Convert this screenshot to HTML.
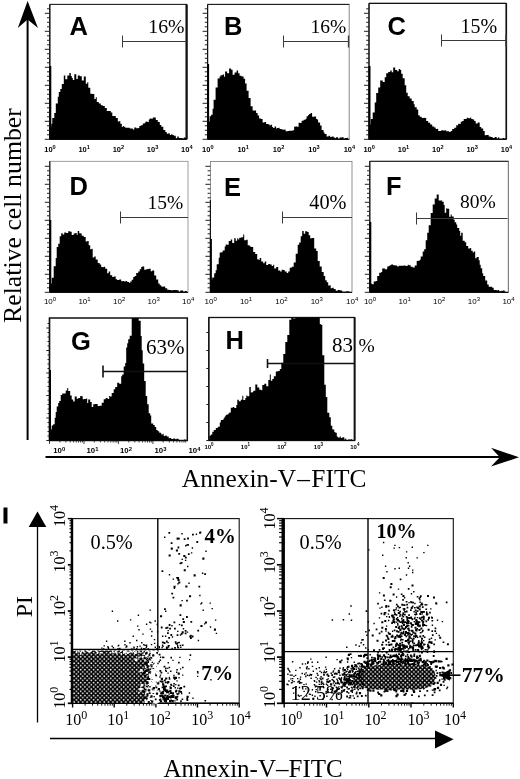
<!DOCTYPE html>
<html><head><meta charset="utf-8"><title>Figure</title>
<style>html,body{margin:0;padding:0;background:#fff}svg{display:block}</style></head>
<body>
<svg width="520" height="779" viewBox="0 0 520 779">
<rect width="520" height="779" fill="#fff"/>
<line x1="27.6" y1="15" x2="27.6" y2="440" stroke="#000" stroke-width="2"/>
<path d="M27.6,1 L38,28 L27.6,19.5 L17.8,28 Z" fill="#000"/>
<text transform="translate(20.6,323) rotate(-90)" font-family='"Liberation Serif", serif' font-size="25.8">Relative cell number</text>
<line x1="45.5" y1="457" x2="502" y2="457" stroke="#000" stroke-width="1.8"/>
<path d="M519,457.2 L491,447.8 L499.8,457.2 L491,466.6 Z" fill="#000"/>
<text x="181.8" y="486.5" font-family='"Liberation Serif", serif' font-size="25.4">Annexin-V<tspan dx="1.3">–</tspan><tspan dx="1.3">FITC</tspan></text>
<rect x="49.8" y="4.4" width="136.8" height="134.9" fill="#fff" stroke="#333" stroke-width="1"/>
<line x1="49.8" y1="4.4" x2="49.8" y2="139.3" stroke="#111" stroke-width="1.2"/>
<line x1="49.8" y1="139.3" x2="186.6" y2="139.3" stroke="#111" stroke-width="1.2"/>
<line x1="186.6" y1="4.4" x2="186.6" y2="139.3" stroke="#111" stroke-width="2.3"/>
<line x1="49.8" y1="4.4" x2="186.6" y2="4.4" stroke="#111" stroke-width="0.6"/>
<line x1="44.8" y1="139.3" x2="49.8" y2="139.3" stroke="#222" stroke-width="1"/>
<line x1="47.0" y1="134.8" x2="49.8" y2="134.8" stroke="#222" stroke-width="1"/>
<line x1="47.0" y1="130.3" x2="49.8" y2="130.3" stroke="#222" stroke-width="1"/>
<line x1="47.0" y1="125.8" x2="49.8" y2="125.8" stroke="#222" stroke-width="1"/>
<line x1="44.8" y1="121.3" x2="49.8" y2="121.3" stroke="#222" stroke-width="1"/>
<line x1="47.0" y1="116.8" x2="49.8" y2="116.8" stroke="#222" stroke-width="1"/>
<line x1="47.0" y1="112.3" x2="49.8" y2="112.3" stroke="#222" stroke-width="1"/>
<line x1="47.0" y1="107.8" x2="49.8" y2="107.8" stroke="#222" stroke-width="1"/>
<line x1="44.8" y1="103.3" x2="49.8" y2="103.3" stroke="#222" stroke-width="1"/>
<line x1="47.0" y1="98.8" x2="49.8" y2="98.8" stroke="#222" stroke-width="1"/>
<line x1="47.0" y1="94.3" x2="49.8" y2="94.3" stroke="#222" stroke-width="1"/>
<line x1="47.0" y1="89.8" x2="49.8" y2="89.8" stroke="#222" stroke-width="1"/>
<line x1="44.8" y1="85.3" x2="49.8" y2="85.3" stroke="#222" stroke-width="1"/>
<line x1="47.0" y1="80.8" x2="49.8" y2="80.8" stroke="#222" stroke-width="1"/>
<line x1="47.0" y1="76.3" x2="49.8" y2="76.3" stroke="#222" stroke-width="1"/>
<line x1="47.0" y1="71.8" x2="49.8" y2="71.8" stroke="#222" stroke-width="1"/>
<line x1="44.8" y1="67.3" x2="49.8" y2="67.3" stroke="#222" stroke-width="1"/>
<line x1="47.0" y1="62.8" x2="49.8" y2="62.8" stroke="#222" stroke-width="1"/>
<line x1="47.0" y1="58.3" x2="49.8" y2="58.3" stroke="#222" stroke-width="1"/>
<line x1="47.0" y1="53.8" x2="49.8" y2="53.8" stroke="#222" stroke-width="1"/>
<line x1="44.8" y1="49.3" x2="49.8" y2="49.3" stroke="#222" stroke-width="1"/>
<line x1="47.0" y1="44.8" x2="49.8" y2="44.8" stroke="#222" stroke-width="1"/>
<line x1="47.0" y1="40.3" x2="49.8" y2="40.3" stroke="#222" stroke-width="1"/>
<line x1="47.0" y1="35.8" x2="49.8" y2="35.8" stroke="#222" stroke-width="1"/>
<line x1="44.8" y1="31.3" x2="49.8" y2="31.3" stroke="#222" stroke-width="1"/>
<line x1="47.0" y1="26.8" x2="49.8" y2="26.8" stroke="#222" stroke-width="1"/>
<line x1="47.0" y1="22.3" x2="49.8" y2="22.3" stroke="#222" stroke-width="1"/>
<line x1="47.0" y1="17.8" x2="49.8" y2="17.8" stroke="#222" stroke-width="1"/>
<line x1="44.8" y1="13.3" x2="49.8" y2="13.3" stroke="#222" stroke-width="1"/>
<line x1="47.0" y1="8.8" x2="49.8" y2="8.8" stroke="#222" stroke-width="1"/>
<rect x="49.3" y="66.0" width="2" height="73.3" fill="#000"/>
<path d="M49.8,139.3L49.8,126.7H51.3L51.3,123.7H52.3L52.3,117.9H54.3L54.3,113.0H55.8L55.8,103.5H57.8L57.8,96.7H58.8L58.8,91.9H60.3L60.3,89.0H61.8L61.8,84.1H63.8L63.8,75.4H65.3L65.3,79.3H67.3L67.3,75.5H69.3L69.3,73.1H70.8L70.8,76.1H71.8L71.8,77.9H72.8L72.8,80.0H74.3L74.3,74.2H76.3L76.3,79.0H77.8L77.8,75.6H79.8L79.8,76.2H81.8L81.8,80.5H83.8L83.8,76.4H85.8L85.8,83.8H87.3L87.3,82.2H88.3L88.3,87.8H90.3L90.3,93.7H92.3L92.3,94.1H94.3L94.3,99.1H95.8L95.8,97.2H96.8L96.8,102.0H98.8L98.8,103.4H100.8L100.8,105.3H102.8L102.8,106.0H104.8L104.8,108.1H106.8L106.8,110.9H108.8L108.8,111.0H110.8L110.8,112.5H112.3L112.3,116.1H113.8L113.8,116.0H115.8L115.8,118.0H117.8L117.8,121.4H119.3L119.3,121.1H120.3L120.3,123.7H121.8L121.8,126.9H122.8L122.8,126.1H123.8L123.8,126.7H125.3L125.3,127.7H126.8L126.8,127.7H128.3L128.3,127.7H129.8L129.8,128.6H131.3L131.3,128.5H132.8L132.8,129.4H134.3L134.3,127.5H136.3L136.3,128.3H138.3L138.3,127.9H139.3L139.3,126.0H140.8L140.8,125.3H142.8L142.8,123.6H144.8L144.8,122.6H145.8L145.8,121.5H147.3L147.3,122.1H148.8L148.8,119.6H149.8L149.8,118.4H151.3L151.3,118.7H152.8L152.8,117.5H153.8L153.8,117.6H155.8L155.8,119.9H157.8L157.8,122.1H159.8L159.8,124.9H161.3L161.3,126.7H163.3L163.3,129.9H165.3L165.3,132.1H166.8L166.8,133.8H168.3L168.3,133.3H169.8L169.8,135.1H171.3L171.3,134.0H172.3L172.3,134.9H173.8L173.8,135.7H175.8L175.8,138.2H177.3L177.3,136.6H178.8L178.8,137.9H180.3L180.3,137.9H182.3L182.3,138.5H183.8L183.8,137.6H185.8L185.8,138.2H187.0L187.0,139.3Z" fill="#000"/>
<text x="69.5" y="35.0" font-family='"Liberation Sans", sans-serif' font-weight="bold" font-size="25.5">A</text>
<text x="148.3" y="32.9" font-family='"Liberation Serif", serif' font-size="19.8">16%</text>
<line x1="122.5" y1="41.5" x2="186.5" y2="41.5" stroke="#3a3a3a" stroke-width="1"/>
<line x1="122.5" y1="35.5" x2="122.5" y2="47.5" stroke="#3a3a3a" stroke-width="1"/>
<text x="50.0" y="152.0" font-family='"Liberation Sans", sans-serif' font-weight="bold" font-size="7.5" text-anchor="middle">10<tspan dy="-3.4" font-size="5.625">0</tspan></text>
<text x="84.2" y="152.0" font-family='"Liberation Sans", sans-serif' font-weight="bold" font-size="7.5" text-anchor="middle">10<tspan dy="-3.4" font-size="5.625">1</tspan></text>
<text x="118.4" y="152.0" font-family='"Liberation Sans", sans-serif' font-weight="bold" font-size="7.5" text-anchor="middle">10<tspan dy="-3.4" font-size="5.625">2</tspan></text>
<text x="152.6" y="152.0" font-family='"Liberation Sans", sans-serif' font-weight="bold" font-size="7.5" text-anchor="middle">10<tspan dy="-3.4" font-size="5.625">3</tspan></text>
<text x="186.8" y="152.0" font-family='"Liberation Sans", sans-serif' font-weight="bold" font-size="7.5" text-anchor="middle">10<tspan dy="-3.4" font-size="5.625">4</tspan></text>
<rect x="207.6" y="4.4" width="141.6" height="134.9" fill="#fff" stroke="#888" stroke-width="1"/>
<line x1="207.6" y1="4.4" x2="207.6" y2="139.3" stroke="#111" stroke-width="1.2"/>
<line x1="207.6" y1="139.3" x2="349.2" y2="139.3" stroke="#111" stroke-width="1.2"/>
<line x1="207.6" y1="4.4" x2="349.2" y2="4.4" stroke="#111" stroke-width="1.0"/>
<line x1="202.6" y1="139.3" x2="207.6" y2="139.3" stroke="#222" stroke-width="1"/>
<line x1="204.8" y1="134.8" x2="207.6" y2="134.8" stroke="#222" stroke-width="1"/>
<line x1="204.8" y1="130.3" x2="207.6" y2="130.3" stroke="#222" stroke-width="1"/>
<line x1="204.8" y1="125.8" x2="207.6" y2="125.8" stroke="#222" stroke-width="1"/>
<line x1="202.6" y1="121.3" x2="207.6" y2="121.3" stroke="#222" stroke-width="1"/>
<line x1="204.8" y1="116.8" x2="207.6" y2="116.8" stroke="#222" stroke-width="1"/>
<line x1="204.8" y1="112.3" x2="207.6" y2="112.3" stroke="#222" stroke-width="1"/>
<line x1="204.8" y1="107.8" x2="207.6" y2="107.8" stroke="#222" stroke-width="1"/>
<line x1="202.6" y1="103.3" x2="207.6" y2="103.3" stroke="#222" stroke-width="1"/>
<line x1="204.8" y1="98.8" x2="207.6" y2="98.8" stroke="#222" stroke-width="1"/>
<line x1="204.8" y1="94.3" x2="207.6" y2="94.3" stroke="#222" stroke-width="1"/>
<line x1="204.8" y1="89.8" x2="207.6" y2="89.8" stroke="#222" stroke-width="1"/>
<line x1="202.6" y1="85.3" x2="207.6" y2="85.3" stroke="#222" stroke-width="1"/>
<line x1="204.8" y1="80.8" x2="207.6" y2="80.8" stroke="#222" stroke-width="1"/>
<line x1="204.8" y1="76.3" x2="207.6" y2="76.3" stroke="#222" stroke-width="1"/>
<line x1="204.8" y1="71.8" x2="207.6" y2="71.8" stroke="#222" stroke-width="1"/>
<line x1="202.6" y1="67.3" x2="207.6" y2="67.3" stroke="#222" stroke-width="1"/>
<line x1="204.8" y1="62.8" x2="207.6" y2="62.8" stroke="#222" stroke-width="1"/>
<line x1="204.8" y1="58.3" x2="207.6" y2="58.3" stroke="#222" stroke-width="1"/>
<line x1="204.8" y1="53.8" x2="207.6" y2="53.8" stroke="#222" stroke-width="1"/>
<line x1="202.6" y1="49.3" x2="207.6" y2="49.3" stroke="#222" stroke-width="1"/>
<line x1="204.8" y1="44.8" x2="207.6" y2="44.8" stroke="#222" stroke-width="1"/>
<line x1="204.8" y1="40.3" x2="207.6" y2="40.3" stroke="#222" stroke-width="1"/>
<line x1="204.8" y1="35.8" x2="207.6" y2="35.8" stroke="#222" stroke-width="1"/>
<line x1="202.6" y1="31.3" x2="207.6" y2="31.3" stroke="#222" stroke-width="1"/>
<line x1="204.8" y1="26.8" x2="207.6" y2="26.8" stroke="#222" stroke-width="1"/>
<line x1="204.8" y1="22.3" x2="207.6" y2="22.3" stroke="#222" stroke-width="1"/>
<line x1="204.8" y1="17.8" x2="207.6" y2="17.8" stroke="#222" stroke-width="1"/>
<line x1="202.6" y1="13.3" x2="207.6" y2="13.3" stroke="#222" stroke-width="1"/>
<line x1="204.8" y1="8.8" x2="207.6" y2="8.8" stroke="#222" stroke-width="1"/>
<rect x="207.1" y="64.0" width="2" height="75.3" fill="#000"/>
<path d="M208.6,139.3L208.6,121.5H209.6L209.6,116.2H211.1L211.1,114.8H212.6L212.6,108.7H213.6L213.6,99.7H215.6L215.6,87.6H217.6L217.6,78.4H219.6L219.6,76.5H220.6L220.6,75.2H222.6L222.6,74.4H224.1L224.1,76.8H225.1L225.1,71.6H227.1L227.1,73.3H229.1L229.1,68.4H231.1L231.1,69.7H232.6L232.6,74.7H234.6L234.6,72.5H236.6L236.6,70.5H238.1L238.1,73.2H239.6L239.6,75.8H241.6L241.6,76.5H243.6L243.6,78.8H245.1L245.1,83.6H246.6L246.6,90.8H248.6L248.6,98.0H250.6L250.6,106.3H252.6L252.6,110.6H254.1L254.1,110.5H256.1L256.1,113.0H257.6L257.6,115.6H259.1L259.1,118.4H261.1L261.1,118.9H262.6L262.6,122.4H264.6L264.6,122.0H266.1L266.1,123.9H267.1L267.1,123.9H268.6L268.6,124.5H269.6L269.6,125.6H270.6L270.6,124.8H272.1L272.1,127.0H273.1L273.1,128.1H274.6L274.6,126.5H276.1L276.1,128.4H277.1L277.1,128.0H278.6L278.6,127.8H279.6L279.6,128.9H281.6L281.6,129.6H283.1L283.1,129.7H284.1L284.1,129.5H285.6L285.6,131.2H287.6L287.6,130.9H289.1L289.1,130.7H291.1L291.1,130.8H292.6L292.6,130.3H294.1L294.1,126.7H295.6L295.6,126.3H296.6L296.6,126.8H298.6L298.6,122.8H300.1L300.1,122.9H301.6L301.6,120.7H303.6L303.6,119.7H305.6L305.6,118.8H306.6L306.6,116.3H308.1L308.1,115.0H309.1L309.1,114.0H310.6L310.6,113.0H312.1L312.1,116.7H314.1L314.1,116.5H316.1L316.1,119.1H317.1L317.1,119.6H318.1L318.1,122.5H320.1L320.1,125.4H321.6L321.6,130.0H323.6L323.6,132.5H324.6L324.6,133.9H326.6L326.6,136.4H328.6L328.6,135.8H330.1L330.1,137.0H331.6L331.6,136.5H333.6L333.6,137.4H335.1L335.1,138.3H336.1L336.1,137.3H338.1L338.1,138.7H339.6L339.6,137.4H341.6L341.6,137.2H343.6L343.6,138.6H345.1L345.1,137.9H347.1L347.1,137.8H348.0L348.0,139.3Z" fill="#000"/>
<text x="224.0" y="35.0" font-family='"Liberation Sans", sans-serif' font-weight="bold" font-size="25.5">B</text>
<text x="310.5" y="32.9" font-family='"Liberation Serif", serif' font-size="19.5">16%</text>
<line x1="283.5" y1="41.5" x2="348.5" y2="41.5" stroke="#3a3a3a" stroke-width="1"/>
<line x1="283.5" y1="35.5" x2="283.5" y2="47.5" stroke="#3a3a3a" stroke-width="1"/>
<line x1="348.5" y1="35.5" x2="348.5" y2="47.5" stroke="#3a3a3a" stroke-width="1.3"/>
<text x="207.8" y="152.0" font-family='"Liberation Sans", sans-serif' font-weight="bold" font-size="7.5" text-anchor="middle">10<tspan dy="-3.4" font-size="5.625">0</tspan></text>
<text x="243.2" y="152.0" font-family='"Liberation Sans", sans-serif' font-weight="bold" font-size="7.5" text-anchor="middle">10<tspan dy="-3.4" font-size="5.625">1</tspan></text>
<text x="278.6" y="152.0" font-family='"Liberation Sans", sans-serif' font-weight="bold" font-size="7.5" text-anchor="middle">10<tspan dy="-3.4" font-size="5.625">2</tspan></text>
<text x="314.0" y="152.0" font-family='"Liberation Sans", sans-serif' font-weight="bold" font-size="7.5" text-anchor="middle">10<tspan dy="-3.4" font-size="5.625">3</tspan></text>
<text x="349.4" y="152.0" font-family='"Liberation Sans", sans-serif' font-weight="bold" font-size="7.5" text-anchor="middle">10<tspan dy="-3.4" font-size="5.625">4</tspan></text>
<rect x="369.0" y="3.4" width="137.3" height="135.9" fill="#fff" stroke="#333" stroke-width="1"/>
<line x1="369.0" y1="3.4" x2="369.0" y2="139.3" stroke="#111" stroke-width="1.2"/>
<line x1="369.0" y1="139.3" x2="506.3" y2="139.3" stroke="#111" stroke-width="1.2"/>
<line x1="506.3" y1="3.4" x2="506.3" y2="139.3" stroke="#111" stroke-width="1.6"/>
<line x1="369.0" y1="3.4" x2="506.3" y2="3.4" stroke="#111" stroke-width="1.1"/>
<line x1="364.0" y1="139.3" x2="369.0" y2="139.3" stroke="#222" stroke-width="1"/>
<line x1="366.2" y1="134.8" x2="369.0" y2="134.8" stroke="#222" stroke-width="1"/>
<line x1="366.2" y1="130.3" x2="369.0" y2="130.3" stroke="#222" stroke-width="1"/>
<line x1="366.2" y1="125.8" x2="369.0" y2="125.8" stroke="#222" stroke-width="1"/>
<line x1="364.0" y1="121.3" x2="369.0" y2="121.3" stroke="#222" stroke-width="1"/>
<line x1="366.2" y1="116.8" x2="369.0" y2="116.8" stroke="#222" stroke-width="1"/>
<line x1="366.2" y1="112.3" x2="369.0" y2="112.3" stroke="#222" stroke-width="1"/>
<line x1="366.2" y1="107.8" x2="369.0" y2="107.8" stroke="#222" stroke-width="1"/>
<line x1="364.0" y1="103.3" x2="369.0" y2="103.3" stroke="#222" stroke-width="1"/>
<line x1="366.2" y1="98.8" x2="369.0" y2="98.8" stroke="#222" stroke-width="1"/>
<line x1="366.2" y1="94.3" x2="369.0" y2="94.3" stroke="#222" stroke-width="1"/>
<line x1="366.2" y1="89.8" x2="369.0" y2="89.8" stroke="#222" stroke-width="1"/>
<line x1="364.0" y1="85.3" x2="369.0" y2="85.3" stroke="#222" stroke-width="1"/>
<line x1="366.2" y1="80.8" x2="369.0" y2="80.8" stroke="#222" stroke-width="1"/>
<line x1="366.2" y1="76.3" x2="369.0" y2="76.3" stroke="#222" stroke-width="1"/>
<line x1="366.2" y1="71.8" x2="369.0" y2="71.8" stroke="#222" stroke-width="1"/>
<line x1="364.0" y1="67.3" x2="369.0" y2="67.3" stroke="#222" stroke-width="1"/>
<line x1="366.2" y1="62.8" x2="369.0" y2="62.8" stroke="#222" stroke-width="1"/>
<line x1="366.2" y1="58.3" x2="369.0" y2="58.3" stroke="#222" stroke-width="1"/>
<line x1="366.2" y1="53.8" x2="369.0" y2="53.8" stroke="#222" stroke-width="1"/>
<line x1="364.0" y1="49.3" x2="369.0" y2="49.3" stroke="#222" stroke-width="1"/>
<line x1="366.2" y1="44.8" x2="369.0" y2="44.8" stroke="#222" stroke-width="1"/>
<line x1="366.2" y1="40.3" x2="369.0" y2="40.3" stroke="#222" stroke-width="1"/>
<line x1="366.2" y1="35.8" x2="369.0" y2="35.8" stroke="#222" stroke-width="1"/>
<line x1="364.0" y1="31.3" x2="369.0" y2="31.3" stroke="#222" stroke-width="1"/>
<line x1="366.2" y1="26.8" x2="369.0" y2="26.8" stroke="#222" stroke-width="1"/>
<line x1="366.2" y1="22.3" x2="369.0" y2="22.3" stroke="#222" stroke-width="1"/>
<line x1="366.2" y1="17.8" x2="369.0" y2="17.8" stroke="#222" stroke-width="1"/>
<line x1="364.0" y1="13.3" x2="369.0" y2="13.3" stroke="#222" stroke-width="1"/>
<line x1="366.2" y1="8.8" x2="369.0" y2="8.8" stroke="#222" stroke-width="1"/>
<rect x="368.5" y="66.0" width="2" height="73.3" fill="#000"/>
<path d="M369.2,139.3L369.2,124.5H370.7L370.7,118.9H372.7L372.7,112.6H374.7L374.7,102.6H376.2L376.2,92.9H378.2L378.2,87.6H380.2L380.2,80.5H381.7L381.7,80.5H382.7L382.7,82.0H384.7L384.7,77.3H386.2L386.2,73.3H388.2L388.2,71.9H390.2L390.2,70.5H391.7L391.7,72.3H393.2L393.2,67.6H395.2L395.2,69.9H397.2L397.2,71.2H398.7L398.7,69.1H400.2L400.2,70.0H401.2L401.2,73.8H402.7L402.7,78.3H404.7L404.7,85.2H406.2L406.2,92.7H407.7L407.7,96.2H409.7L409.7,98.4H411.7L411.7,100.9H413.7L413.7,104.3H414.7L414.7,107.2H416.7L416.7,109.6H418.2L418.2,115.2H419.7L419.7,116.8H421.7L421.7,118.0H423.7L423.7,117.7H424.7L424.7,118.0H426.2L426.2,121.0H428.2L428.2,122.7H430.2L430.2,124.5H432.2L432.2,126.5H434.2L434.2,127.4H435.7L435.7,129.0H437.2L437.2,128.8H438.2L438.2,131.1H439.7L439.7,131.1H441.2L441.2,130.3H443.2L443.2,130.4H445.2L445.2,130.2H446.2L446.2,131.2H447.2L447.2,131.3H449.2L449.2,131.9H450.7L450.7,130.9H452.2L452.2,129.0H454.2L454.2,127.8H456.2L456.2,125.3H458.2L458.2,123.8H459.7L459.7,123.9H460.7L460.7,121.7H462.2L462.2,121.1H463.7L463.7,119.0H465.2L465.2,119.1H466.7L466.7,117.8H468.2L468.2,118.3H470.2L470.2,117.5H471.2L471.2,118.9H472.7L472.7,119.6H474.2L474.2,121.1H475.7L475.7,123.6H477.7L477.7,122.5H479.7L479.7,127.0H481.2L481.2,128.5H483.2L483.2,131.0H484.7L484.7,135.2H486.2L486.2,135.0H487.2L487.2,134.9H488.7L488.7,136.4H490.7L490.7,137.1H491.7L491.7,137.0H492.7L492.7,138.0H494.7L494.7,137.0H496.7L496.7,138.5H498.2L498.2,137.3H499.2L499.2,138.7H500.7L500.7,138.7H502.7L502.7,138.1H504.2L504.2,138.5H506.0L506.0,139.3Z" fill="#000"/>
<text x="387.5" y="35.0" font-family='"Liberation Sans", sans-serif' font-weight="bold" font-size="25.5">C</text>
<text x="460.5" y="32.7" font-family='"Liberation Serif", serif' font-size="20">15%</text>
<line x1="441.5" y1="40.5" x2="506.0" y2="40.5" stroke="#3a3a3a" stroke-width="1"/>
<line x1="441.5" y1="34.5" x2="441.5" y2="46.5" stroke="#3a3a3a" stroke-width="1"/>
<line x1="506.0" y1="34.5" x2="506.0" y2="46.5" stroke="#3a3a3a" stroke-width="1.3"/>
<text x="369.2" y="152.0" font-family='"Liberation Sans", sans-serif' font-weight="bold" font-size="7.5" text-anchor="middle">10<tspan dy="-3.4" font-size="5.625">0</tspan></text>
<text x="403.5" y="152.0" font-family='"Liberation Sans", sans-serif' font-weight="bold" font-size="7.5" text-anchor="middle">10<tspan dy="-3.4" font-size="5.625">1</tspan></text>
<text x="437.8" y="152.0" font-family='"Liberation Sans", sans-serif' font-weight="bold" font-size="7.5" text-anchor="middle">10<tspan dy="-3.4" font-size="5.625">2</tspan></text>
<text x="472.2" y="152.0" font-family='"Liberation Sans", sans-serif' font-weight="bold" font-size="7.5" text-anchor="middle">10<tspan dy="-3.4" font-size="5.625">3</tspan></text>
<text x="506.5" y="152.0" font-family='"Liberation Sans", sans-serif' font-weight="bold" font-size="7.5" text-anchor="middle">10<tspan dy="-3.4" font-size="5.625">4</tspan></text>
<rect x="49.8" y="161.3" width="138.2" height="131.0" fill="#fff" stroke="#888" stroke-width="0.8"/>
<line x1="49.8" y1="161.3" x2="49.8" y2="292.3" stroke="#111" stroke-width="1.2"/>
<line x1="49.8" y1="292.3" x2="188.0" y2="292.3" stroke="#111" stroke-width="1.2"/>
<line x1="44.8" y1="292.3" x2="49.8" y2="292.3" stroke="#222" stroke-width="1"/>
<line x1="47.0" y1="287.8" x2="49.8" y2="287.8" stroke="#222" stroke-width="1"/>
<line x1="47.0" y1="283.3" x2="49.8" y2="283.3" stroke="#222" stroke-width="1"/>
<line x1="47.0" y1="278.8" x2="49.8" y2="278.8" stroke="#222" stroke-width="1"/>
<line x1="44.8" y1="274.3" x2="49.8" y2="274.3" stroke="#222" stroke-width="1"/>
<line x1="47.0" y1="269.8" x2="49.8" y2="269.8" stroke="#222" stroke-width="1"/>
<line x1="47.0" y1="265.3" x2="49.8" y2="265.3" stroke="#222" stroke-width="1"/>
<line x1="47.0" y1="260.8" x2="49.8" y2="260.8" stroke="#222" stroke-width="1"/>
<line x1="44.8" y1="256.3" x2="49.8" y2="256.3" stroke="#222" stroke-width="1"/>
<line x1="47.0" y1="251.8" x2="49.8" y2="251.8" stroke="#222" stroke-width="1"/>
<line x1="47.0" y1="247.3" x2="49.8" y2="247.3" stroke="#222" stroke-width="1"/>
<line x1="47.0" y1="242.8" x2="49.8" y2="242.8" stroke="#222" stroke-width="1"/>
<line x1="44.8" y1="238.3" x2="49.8" y2="238.3" stroke="#222" stroke-width="1"/>
<line x1="47.0" y1="233.8" x2="49.8" y2="233.8" stroke="#222" stroke-width="1"/>
<line x1="47.0" y1="229.3" x2="49.8" y2="229.3" stroke="#222" stroke-width="1"/>
<line x1="47.0" y1="224.8" x2="49.8" y2="224.8" stroke="#222" stroke-width="1"/>
<line x1="44.8" y1="220.3" x2="49.8" y2="220.3" stroke="#222" stroke-width="1"/>
<line x1="47.0" y1="215.8" x2="49.8" y2="215.8" stroke="#222" stroke-width="1"/>
<line x1="47.0" y1="211.3" x2="49.8" y2="211.3" stroke="#222" stroke-width="1"/>
<line x1="47.0" y1="206.8" x2="49.8" y2="206.8" stroke="#222" stroke-width="1"/>
<line x1="44.8" y1="202.3" x2="49.8" y2="202.3" stroke="#222" stroke-width="1"/>
<line x1="47.0" y1="197.8" x2="49.8" y2="197.8" stroke="#222" stroke-width="1"/>
<line x1="47.0" y1="193.3" x2="49.8" y2="193.3" stroke="#222" stroke-width="1"/>
<line x1="47.0" y1="188.8" x2="49.8" y2="188.8" stroke="#222" stroke-width="1"/>
<line x1="44.8" y1="184.3" x2="49.8" y2="184.3" stroke="#222" stroke-width="1"/>
<line x1="47.0" y1="179.8" x2="49.8" y2="179.8" stroke="#222" stroke-width="1"/>
<line x1="47.0" y1="175.3" x2="49.8" y2="175.3" stroke="#222" stroke-width="1"/>
<line x1="47.0" y1="170.8" x2="49.8" y2="170.8" stroke="#222" stroke-width="1"/>
<line x1="44.8" y1="166.3" x2="49.8" y2="166.3" stroke="#222" stroke-width="1"/>
<rect x="49.3" y="220.0" width="2" height="72.3" fill="#000"/>
<path d="M50.2,292.3L50.2,283.5H51.7L51.7,277.8H53.7L53.7,266.3H55.7L55.7,257.9H56.7L56.7,247.0H58.2L58.2,243.8H59.7L59.7,236.3H61.2L61.2,233.2H62.7L62.7,234.5H64.2L64.2,232.6H66.2L66.2,233.1H68.2L68.2,231.3H70.2L70.2,231.7H71.7L71.7,234.9H73.7L73.7,233.4H75.2L75.2,233.0H76.7L76.7,234.7H77.7L77.7,230.9H79.2L79.2,233.3H80.7L80.7,233.5H81.7L81.7,235.7H83.7L83.7,237.1H85.7L85.7,241.4H87.2L87.2,241.1H88.7L88.7,245.3H90.2L90.2,249.3H91.7L91.7,248.7H92.7L92.7,257.6H94.2L94.2,256.4H95.7L95.7,259.5H97.7L97.7,262.9H99.7L99.7,264.4H101.2L101.2,267.0H102.7L102.7,267.3H103.7L103.7,266.8H105.2L105.2,268.7H107.2L107.2,273.2H108.7L108.7,271.5H110.2L110.2,275.2H112.2L112.2,277.0H113.7L113.7,276.6H115.7L115.7,279.3H117.2L117.2,280.0H119.2L119.2,279.5H121.2L121.2,281.3H122.7L122.7,280.9H124.2L124.2,281.6H125.7L125.7,281.1H127.2L127.2,282.1H129.2L129.2,282.9H130.2L130.2,281.4H131.7L131.7,279.8H133.2L133.2,277.0H134.7L134.7,275.9H136.2L136.2,272.9H138.2L138.2,271.4H139.7L139.7,269.3H141.2L141.2,266.9H142.2L142.2,266.4H144.2L144.2,269.7H146.2L146.2,269.3H147.7L147.7,268.9H148.7L148.7,268.7H150.7L150.7,271.2H152.2L152.2,270.6H154.2L154.2,275.6H156.2L156.2,279.6H158.2L158.2,283.6H159.7L159.7,285.2H161.2L161.2,286.6H162.2L162.2,286.7H163.2L163.2,286.4H165.2L165.2,288.2H167.2L167.2,289.8H169.2L169.2,289.9H171.2L171.2,290.2H173.2L173.2,290.0H175.2L175.2,289.9H176.7L176.7,290.3H178.7L178.7,291.7H180.2L180.2,290.4H181.7L181.7,290.4H183.2L183.2,291.7H184.7L184.7,290.9H186.7L186.7,291.7H187.0L187.0,292.3Z" fill="#000"/>
<text x="69.5" y="195.0" font-family='"Liberation Sans", sans-serif' font-weight="bold" font-size="25.5">D</text>
<text x="147.5" y="208.8" font-family='"Liberation Serif", serif' font-size="19.5">15%</text>
<line x1="120.5" y1="217.5" x2="188.0" y2="217.5" stroke="#3a3a3a" stroke-width="1"/>
<line x1="120.5" y1="211.5" x2="120.5" y2="223.5" stroke="#3a3a3a" stroke-width="1"/>
<text x="50.0" y="304.2" font-family='"Liberation Sans", sans-serif' font-weight="normal" font-size="8" text-anchor="middle">10<tspan dy="-3.6" font-size="6.0">0</tspan></text>
<text x="84.5" y="304.2" font-family='"Liberation Sans", sans-serif' font-weight="normal" font-size="8" text-anchor="middle">10<tspan dy="-3.6" font-size="6.0">1</tspan></text>
<text x="119.1" y="304.2" font-family='"Liberation Sans", sans-serif' font-weight="normal" font-size="8" text-anchor="middle">10<tspan dy="-3.6" font-size="6.0">2</tspan></text>
<text x="153.6" y="304.2" font-family='"Liberation Sans", sans-serif' font-weight="normal" font-size="8" text-anchor="middle">10<tspan dy="-3.6" font-size="6.0">3</tspan></text>
<text x="188.2" y="304.2" font-family='"Liberation Sans", sans-serif' font-weight="normal" font-size="8" text-anchor="middle">10<tspan dy="-3.6" font-size="6.0">4</tspan></text>
<rect x="210.4" y="161.5" width="141.6" height="130.8" fill="#fff" stroke="#777" stroke-width="0.8"/>
<line x1="210.4" y1="200.0" x2="210.4" y2="292.3" stroke="#111" stroke-width="1.2"/>
<line x1="210.4" y1="292.3" x2="352.0" y2="292.3" stroke="#111" stroke-width="1.2"/>
<line x1="205.4" y1="292.3" x2="210.4" y2="292.3" stroke="#222" stroke-width="1"/>
<line x1="207.6" y1="287.8" x2="210.4" y2="287.8" stroke="#222" stroke-width="1"/>
<line x1="207.6" y1="283.3" x2="210.4" y2="283.3" stroke="#222" stroke-width="1"/>
<line x1="207.6" y1="278.8" x2="210.4" y2="278.8" stroke="#222" stroke-width="1"/>
<line x1="205.4" y1="274.3" x2="210.4" y2="274.3" stroke="#222" stroke-width="1"/>
<line x1="207.6" y1="269.8" x2="210.4" y2="269.8" stroke="#222" stroke-width="1"/>
<line x1="207.6" y1="265.3" x2="210.4" y2="265.3" stroke="#222" stroke-width="1"/>
<line x1="207.6" y1="260.8" x2="210.4" y2="260.8" stroke="#222" stroke-width="1"/>
<line x1="205.4" y1="256.3" x2="210.4" y2="256.3" stroke="#222" stroke-width="1"/>
<line x1="207.6" y1="251.8" x2="210.4" y2="251.8" stroke="#222" stroke-width="1"/>
<line x1="207.6" y1="247.3" x2="210.4" y2="247.3" stroke="#222" stroke-width="1"/>
<line x1="207.6" y1="242.8" x2="210.4" y2="242.8" stroke="#222" stroke-width="1"/>
<line x1="205.4" y1="238.3" x2="210.4" y2="238.3" stroke="#222" stroke-width="1"/>
<line x1="207.6" y1="233.8" x2="210.4" y2="233.8" stroke="#222" stroke-width="1"/>
<line x1="207.6" y1="229.3" x2="210.4" y2="229.3" stroke="#222" stroke-width="1"/>
<line x1="207.6" y1="224.8" x2="210.4" y2="224.8" stroke="#222" stroke-width="1"/>
<line x1="205.4" y1="220.3" x2="210.4" y2="220.3" stroke="#222" stroke-width="1"/>
<line x1="207.6" y1="215.8" x2="210.4" y2="215.8" stroke="#222" stroke-width="1"/>
<line x1="207.6" y1="211.3" x2="210.4" y2="211.3" stroke="#222" stroke-width="1"/>
<line x1="207.6" y1="206.8" x2="210.4" y2="206.8" stroke="#222" stroke-width="1"/>
<line x1="205.4" y1="202.3" x2="210.4" y2="202.3" stroke="#222" stroke-width="1"/>
<line x1="207.6" y1="197.8" x2="210.4" y2="197.8" stroke="#222" stroke-width="1"/>
<line x1="207.6" y1="193.3" x2="210.4" y2="193.3" stroke="#222" stroke-width="1"/>
<line x1="207.6" y1="188.8" x2="210.4" y2="188.8" stroke="#222" stroke-width="1"/>
<line x1="205.4" y1="184.3" x2="210.4" y2="184.3" stroke="#222" stroke-width="1"/>
<line x1="207.6" y1="179.8" x2="210.4" y2="179.8" stroke="#222" stroke-width="1"/>
<line x1="207.6" y1="175.3" x2="210.4" y2="175.3" stroke="#222" stroke-width="1"/>
<line x1="207.6" y1="170.8" x2="210.4" y2="170.8" stroke="#222" stroke-width="1"/>
<line x1="205.4" y1="166.3" x2="210.4" y2="166.3" stroke="#222" stroke-width="1"/>
<rect x="209.9" y="239.0" width="2" height="53.3" fill="#000"/>
<path d="M210.2,292.3L210.2,279.5H212.2L212.2,277.4H214.2L214.2,273.2H215.7L215.7,270.2H216.7L216.7,264.3H218.7L218.7,257.8H219.7L219.7,252.4H221.2L221.2,252.3H222.7L222.7,250.4H224.7L224.7,246.6H225.7L225.7,244.5H227.2L227.2,244.7H228.7L228.7,241.0H230.7L230.7,239.5H232.2L232.2,243.0H234.2L234.2,238.3H235.7L235.7,240.8H237.2L237.2,238.2H238.2L238.2,239.4H239.2L239.2,237.7H241.2L241.2,237.3H243.2L243.2,234.6H244.2L244.2,240.3H246.2L246.2,239.8H247.7L247.7,245.2H249.7L249.7,246.6H251.2L251.2,247.0H253.2L253.2,252.1H255.2L255.2,254.1H257.2L257.2,259.3H258.7L258.7,260.0H259.7L259.7,258.1H261.2L261.2,261.5H263.2L263.2,263.2H264.7L264.7,261.5H266.2L266.2,264.9H268.2L268.2,263.9H270.2L270.2,264.4H271.7L271.7,266.0H273.2L273.2,264.7H274.2L274.2,268.4H276.2L276.2,266.9H278.2L278.2,270.6H280.2L280.2,271.4H281.7L281.7,269.7H283.2L283.2,269.9H284.7L284.7,271.5H286.7L286.7,272.9H288.2L288.2,271.4H289.7L289.7,267.7H291.7L291.7,266.7H293.7L293.7,262.4H295.7L295.7,253.7H297.7L297.7,244.8H299.2L299.2,242.5H300.7L300.7,236.3H302.2L302.2,231.1H303.7L303.7,233.8H305.2L305.2,231.3H307.2L307.2,232.0H308.7L308.7,235.3H310.2L310.2,238.2H312.2L312.2,238.0H314.2L314.2,248.6H316.2L316.2,250.9H317.7L317.7,260.9H319.7L319.7,266.5H321.7L321.7,271.9H323.7L323.7,275.9H325.2L325.2,280.2H326.7L326.7,282.2H328.2L328.2,285.4H329.7L329.7,285.2H330.7L330.7,288.2H332.2L332.2,287.7H333.7L333.7,289.1H335.7L335.7,290.7H337.7L337.7,290.0H339.2L339.2,290.0H340.2L340.2,290.5H342.2L342.2,291.7H344.2L344.2,291.7H346.2L346.2,291.2H348.2L348.2,291.6H349.5L349.5,292.3Z" fill="#000"/>
<text x="224.0" y="195.7" font-family='"Liberation Sans", sans-serif' font-weight="bold" font-size="25.5">E</text>
<text x="309.3" y="208.6" font-family='"Liberation Serif", serif' font-size="20.3">40%</text>
<line x1="282.5" y1="217.5" x2="352.0" y2="217.5" stroke="#3a3a3a" stroke-width="1"/>
<line x1="282.5" y1="211.5" x2="282.5" y2="223.5" stroke="#3a3a3a" stroke-width="1"/>
<text x="210.6" y="304.2" font-family='"Liberation Sans", sans-serif' font-weight="normal" font-size="8" text-anchor="middle">10<tspan dy="-3.6" font-size="6.0">0</tspan></text>
<text x="246.0" y="304.2" font-family='"Liberation Sans", sans-serif' font-weight="normal" font-size="8" text-anchor="middle">10<tspan dy="-3.6" font-size="6.0">1</tspan></text>
<text x="281.4" y="304.2" font-family='"Liberation Sans", sans-serif' font-weight="normal" font-size="8" text-anchor="middle">10<tspan dy="-3.6" font-size="6.0">2</tspan></text>
<text x="316.8" y="304.2" font-family='"Liberation Sans", sans-serif' font-weight="normal" font-size="8" text-anchor="middle">10<tspan dy="-3.6" font-size="6.0">3</tspan></text>
<text x="352.2" y="304.2" font-family='"Liberation Sans", sans-serif' font-weight="normal" font-size="8" text-anchor="middle">10<tspan dy="-3.6" font-size="6.0">4</tspan></text>
<rect x="369.8" y="161.3" width="138.5" height="131.0" fill="#fff" stroke="#555" stroke-width="0.9"/>
<line x1="369.8" y1="161.3" x2="369.8" y2="292.3" stroke="#111" stroke-width="1.2"/>
<line x1="369.8" y1="292.3" x2="508.3" y2="292.3" stroke="#111" stroke-width="1.2"/>
<line x1="369.8" y1="161.3" x2="508.3" y2="161.3" stroke="#111" stroke-width="0.9"/>
<line x1="364.8" y1="292.3" x2="369.8" y2="292.3" stroke="#222" stroke-width="1"/>
<line x1="367.0" y1="287.8" x2="369.8" y2="287.8" stroke="#222" stroke-width="1"/>
<line x1="367.0" y1="283.3" x2="369.8" y2="283.3" stroke="#222" stroke-width="1"/>
<line x1="367.0" y1="278.8" x2="369.8" y2="278.8" stroke="#222" stroke-width="1"/>
<line x1="364.8" y1="274.3" x2="369.8" y2="274.3" stroke="#222" stroke-width="1"/>
<line x1="367.0" y1="269.8" x2="369.8" y2="269.8" stroke="#222" stroke-width="1"/>
<line x1="367.0" y1="265.3" x2="369.8" y2="265.3" stroke="#222" stroke-width="1"/>
<line x1="367.0" y1="260.8" x2="369.8" y2="260.8" stroke="#222" stroke-width="1"/>
<line x1="364.8" y1="256.3" x2="369.8" y2="256.3" stroke="#222" stroke-width="1"/>
<line x1="367.0" y1="251.8" x2="369.8" y2="251.8" stroke="#222" stroke-width="1"/>
<line x1="367.0" y1="247.3" x2="369.8" y2="247.3" stroke="#222" stroke-width="1"/>
<line x1="367.0" y1="242.8" x2="369.8" y2="242.8" stroke="#222" stroke-width="1"/>
<line x1="364.8" y1="238.3" x2="369.8" y2="238.3" stroke="#222" stroke-width="1"/>
<line x1="367.0" y1="233.8" x2="369.8" y2="233.8" stroke="#222" stroke-width="1"/>
<line x1="367.0" y1="229.3" x2="369.8" y2="229.3" stroke="#222" stroke-width="1"/>
<line x1="367.0" y1="224.8" x2="369.8" y2="224.8" stroke="#222" stroke-width="1"/>
<line x1="364.8" y1="220.3" x2="369.8" y2="220.3" stroke="#222" stroke-width="1"/>
<line x1="367.0" y1="215.8" x2="369.8" y2="215.8" stroke="#222" stroke-width="1"/>
<line x1="367.0" y1="211.3" x2="369.8" y2="211.3" stroke="#222" stroke-width="1"/>
<line x1="367.0" y1="206.8" x2="369.8" y2="206.8" stroke="#222" stroke-width="1"/>
<line x1="364.8" y1="202.3" x2="369.8" y2="202.3" stroke="#222" stroke-width="1"/>
<line x1="367.0" y1="197.8" x2="369.8" y2="197.8" stroke="#222" stroke-width="1"/>
<line x1="367.0" y1="193.3" x2="369.8" y2="193.3" stroke="#222" stroke-width="1"/>
<line x1="367.0" y1="188.8" x2="369.8" y2="188.8" stroke="#222" stroke-width="1"/>
<line x1="364.8" y1="184.3" x2="369.8" y2="184.3" stroke="#222" stroke-width="1"/>
<line x1="367.0" y1="179.8" x2="369.8" y2="179.8" stroke="#222" stroke-width="1"/>
<line x1="367.0" y1="175.3" x2="369.8" y2="175.3" stroke="#222" stroke-width="1"/>
<line x1="367.0" y1="170.8" x2="369.8" y2="170.8" stroke="#222" stroke-width="1"/>
<line x1="364.8" y1="166.3" x2="369.8" y2="166.3" stroke="#222" stroke-width="1"/>
<rect x="369.3" y="222.0" width="2" height="70.3" fill="#000"/>
<path d="M370.2,292.3L370.2,283.7H372.2L372.2,284.2H373.7L373.7,281.4H375.7L375.7,281.0H377.2L377.2,276.0H379.2L379.2,272.7H381.2L381.2,272.0H382.2L382.2,268.6H383.7L383.7,268.2H384.7L384.7,269.2H385.7L385.7,269.2H387.2L387.2,266.6H388.7L388.7,265.9H389.7L389.7,265.3H391.2L391.2,264.6H393.2L393.2,265.2H395.2L395.2,265.4H397.2L397.2,266.6H398.7L398.7,265.8H400.2L400.2,265.7H402.2L402.2,265.8H403.7L403.7,265.5H405.7L405.7,266.1H407.7L407.7,264.7H408.7L408.7,265.3H410.7L410.7,266.8H412.7L412.7,267.6H414.7L414.7,265.6H416.7L416.7,261.0H417.7L417.7,260.8H419.7L419.7,259.8H420.7L420.7,256.6H422.7L422.7,251.6H424.2L424.2,249.2H425.7L425.7,240.3H427.2L427.2,232.8H428.7L428.7,225.2H430.7L430.7,213.0H432.7L432.7,204.4H434.7L434.7,198.6H436.7L436.7,194.6H438.7L438.7,200.6H440.7L440.7,200.4H442.2L442.2,201.8H443.7L443.7,205.0H444.7L444.7,212.7H446.2L446.2,208.2H447.2L447.2,208.7H449.2L449.2,216.8H450.7L450.7,214.5H451.7L451.7,216.4H453.7L453.7,219.8H454.7L454.7,222.2H456.2L456.2,224.4H457.2L457.2,228.0H459.2L459.2,230.9H460.2L460.2,235.8H461.2L461.2,232.8H462.7L462.7,240.8H464.7L464.7,242.2H466.2L466.2,246.0H468.2L468.2,248.5H470.2L470.2,247.9H471.2L471.2,250.7H472.7L472.7,252.4H473.7L473.7,251.4H475.2L475.2,258.2H476.7L476.7,256.9H478.7L478.7,260.3H479.7L479.7,264.8H480.7L480.7,268.3H482.2L482.2,273.2H483.2L483.2,276.1H485.2L485.2,280.6H487.2L487.2,284.5H488.7L488.7,286.8H490.7L490.7,286.7H492.2L492.2,287.7H493.7L493.7,289.9H495.2L495.2,289.9H496.7L496.7,290.6H497.7L497.7,290.1H499.2L499.2,291.2H501.2L501.2,290.8H503.2L503.2,290.6H504.7L504.7,291.7H506.0L506.0,292.3Z" fill="#000"/>
<text x="386.0" y="195.3" font-family='"Liberation Sans", sans-serif' font-weight="bold" font-size="25.5">F</text>
<text x="460.0" y="207.7" font-family='"Liberation Serif", serif' font-size="19.5">80%</text>
<line x1="416.5" y1="218.5" x2="507.5" y2="218.5" stroke="#3a3a3a" stroke-width="1"/>
<line x1="416.5" y1="212.5" x2="416.5" y2="224.5" stroke="#3a3a3a" stroke-width="1"/>
<text x="370.0" y="304.2" font-family='"Liberation Sans", sans-serif' font-weight="normal" font-size="8" text-anchor="middle">10<tspan dy="-3.6" font-size="6.0">0</tspan></text>
<text x="404.6" y="304.2" font-family='"Liberation Sans", sans-serif' font-weight="normal" font-size="8" text-anchor="middle">10<tspan dy="-3.6" font-size="6.0">1</tspan></text>
<text x="439.2" y="304.2" font-family='"Liberation Sans", sans-serif' font-weight="normal" font-size="8" text-anchor="middle">10<tspan dy="-3.6" font-size="6.0">2</tspan></text>
<text x="473.9" y="304.2" font-family='"Liberation Sans", sans-serif' font-weight="normal" font-size="8" text-anchor="middle">10<tspan dy="-3.6" font-size="6.0">3</tspan></text>
<text x="508.5" y="304.2" font-family='"Liberation Sans", sans-serif' font-weight="normal" font-size="8" text-anchor="middle">10<tspan dy="-3.6" font-size="6.0">4</tspan></text>
<rect x="49.5" y="318.0" width="137.8" height="122.5" fill="#fff" stroke="#111" stroke-width="1.5"/>
<line x1="49.5" y1="318.0" x2="49.5" y2="440.5" stroke="#111" stroke-width="1.2"/>
<line x1="49.5" y1="440.5" x2="49.5" y2="444.0" stroke="#111" stroke-width="0.8"/>
<line x1="59.9" y1="440.5" x2="59.9" y2="442.5" stroke="#111" stroke-width="0.8"/>
<line x1="65.9" y1="440.5" x2="65.9" y2="442.5" stroke="#111" stroke-width="0.8"/>
<line x1="70.2" y1="440.5" x2="70.2" y2="442.5" stroke="#111" stroke-width="0.8"/>
<line x1="73.6" y1="440.5" x2="73.6" y2="442.5" stroke="#111" stroke-width="0.8"/>
<line x1="76.3" y1="440.5" x2="76.3" y2="442.5" stroke="#111" stroke-width="0.8"/>
<line x1="78.6" y1="440.5" x2="78.6" y2="442.5" stroke="#111" stroke-width="0.8"/>
<line x1="80.6" y1="440.5" x2="80.6" y2="442.5" stroke="#111" stroke-width="0.8"/>
<line x1="82.4" y1="440.5" x2="82.4" y2="442.5" stroke="#111" stroke-width="0.8"/>
<line x1="84.0" y1="440.5" x2="84.0" y2="444.0" stroke="#111" stroke-width="0.8"/>
<line x1="94.3" y1="440.5" x2="94.3" y2="442.5" stroke="#111" stroke-width="0.8"/>
<line x1="100.4" y1="440.5" x2="100.4" y2="442.5" stroke="#111" stroke-width="0.8"/>
<line x1="104.7" y1="440.5" x2="104.7" y2="442.5" stroke="#111" stroke-width="0.8"/>
<line x1="108.0" y1="440.5" x2="108.0" y2="442.5" stroke="#111" stroke-width="0.8"/>
<line x1="110.8" y1="440.5" x2="110.8" y2="442.5" stroke="#111" stroke-width="0.8"/>
<line x1="113.1" y1="440.5" x2="113.1" y2="442.5" stroke="#111" stroke-width="0.8"/>
<line x1="115.1" y1="440.5" x2="115.1" y2="442.5" stroke="#111" stroke-width="0.8"/>
<line x1="116.8" y1="440.5" x2="116.8" y2="442.5" stroke="#111" stroke-width="0.8"/>
<line x1="118.4" y1="440.5" x2="118.4" y2="444.0" stroke="#111" stroke-width="0.8"/>
<line x1="128.8" y1="440.5" x2="128.8" y2="442.5" stroke="#111" stroke-width="0.8"/>
<line x1="134.8" y1="440.5" x2="134.8" y2="442.5" stroke="#111" stroke-width="0.8"/>
<line x1="139.1" y1="440.5" x2="139.1" y2="442.5" stroke="#111" stroke-width="0.8"/>
<line x1="142.5" y1="440.5" x2="142.5" y2="442.5" stroke="#111" stroke-width="0.8"/>
<line x1="145.2" y1="440.5" x2="145.2" y2="442.5" stroke="#111" stroke-width="0.8"/>
<line x1="147.5" y1="440.5" x2="147.5" y2="442.5" stroke="#111" stroke-width="0.8"/>
<line x1="149.5" y1="440.5" x2="149.5" y2="442.5" stroke="#111" stroke-width="0.8"/>
<line x1="151.3" y1="440.5" x2="151.3" y2="442.5" stroke="#111" stroke-width="0.8"/>
<line x1="152.9" y1="440.5" x2="152.9" y2="444.0" stroke="#111" stroke-width="0.8"/>
<line x1="163.2" y1="440.5" x2="163.2" y2="442.5" stroke="#111" stroke-width="0.8"/>
<line x1="169.3" y1="440.5" x2="169.3" y2="442.5" stroke="#111" stroke-width="0.8"/>
<line x1="173.6" y1="440.5" x2="173.6" y2="442.5" stroke="#111" stroke-width="0.8"/>
<line x1="176.9" y1="440.5" x2="176.9" y2="442.5" stroke="#111" stroke-width="0.8"/>
<line x1="179.7" y1="440.5" x2="179.7" y2="442.5" stroke="#111" stroke-width="0.8"/>
<line x1="182.0" y1="440.5" x2="182.0" y2="442.5" stroke="#111" stroke-width="0.8"/>
<line x1="184.0" y1="440.5" x2="184.0" y2="442.5" stroke="#111" stroke-width="0.8"/>
<line x1="185.7" y1="440.5" x2="185.7" y2="442.5" stroke="#111" stroke-width="0.8"/>
<line x1="49.5" y1="440.5" x2="187.3" y2="440.5" stroke="#111" stroke-width="1.2"/>
<line x1="46.3" y1="440.5" x2="49.5" y2="440.5" stroke="#222" stroke-width="1"/>
<line x1="47.5" y1="436.0" x2="49.5" y2="436.0" stroke="#222" stroke-width="1"/>
<line x1="47.5" y1="431.5" x2="49.5" y2="431.5" stroke="#222" stroke-width="1"/>
<line x1="47.5" y1="427.0" x2="49.5" y2="427.0" stroke="#222" stroke-width="1"/>
<line x1="47.5" y1="422.5" x2="49.5" y2="422.5" stroke="#222" stroke-width="1"/>
<line x1="46.3" y1="418.0" x2="49.5" y2="418.0" stroke="#222" stroke-width="1"/>
<line x1="47.5" y1="413.5" x2="49.5" y2="413.5" stroke="#222" stroke-width="1"/>
<line x1="47.5" y1="409.0" x2="49.5" y2="409.0" stroke="#222" stroke-width="1"/>
<line x1="47.5" y1="404.5" x2="49.5" y2="404.5" stroke="#222" stroke-width="1"/>
<line x1="47.5" y1="400.0" x2="49.5" y2="400.0" stroke="#222" stroke-width="1"/>
<line x1="46.3" y1="395.5" x2="49.5" y2="395.5" stroke="#222" stroke-width="1"/>
<line x1="47.5" y1="391.0" x2="49.5" y2="391.0" stroke="#222" stroke-width="1"/>
<line x1="47.5" y1="386.5" x2="49.5" y2="386.5" stroke="#222" stroke-width="1"/>
<line x1="47.5" y1="382.0" x2="49.5" y2="382.0" stroke="#222" stroke-width="1"/>
<line x1="47.5" y1="377.5" x2="49.5" y2="377.5" stroke="#222" stroke-width="1"/>
<line x1="46.3" y1="373.0" x2="49.5" y2="373.0" stroke="#222" stroke-width="1"/>
<line x1="47.5" y1="368.5" x2="49.5" y2="368.5" stroke="#222" stroke-width="1"/>
<line x1="47.5" y1="364.0" x2="49.5" y2="364.0" stroke="#222" stroke-width="1"/>
<line x1="47.5" y1="359.5" x2="49.5" y2="359.5" stroke="#222" stroke-width="1"/>
<line x1="47.5" y1="355.0" x2="49.5" y2="355.0" stroke="#222" stroke-width="1"/>
<line x1="46.3" y1="350.5" x2="49.5" y2="350.5" stroke="#222" stroke-width="1"/>
<line x1="47.5" y1="346.0" x2="49.5" y2="346.0" stroke="#222" stroke-width="1"/>
<line x1="47.5" y1="341.5" x2="49.5" y2="341.5" stroke="#222" stroke-width="1"/>
<line x1="47.5" y1="337.0" x2="49.5" y2="337.0" stroke="#222" stroke-width="1"/>
<line x1="47.5" y1="332.5" x2="49.5" y2="332.5" stroke="#222" stroke-width="1"/>
<line x1="46.3" y1="328.0" x2="49.5" y2="328.0" stroke="#222" stroke-width="1"/>
<line x1="47.5" y1="323.5" x2="49.5" y2="323.5" stroke="#222" stroke-width="1"/>
<rect x="49.0" y="370.0" width="2" height="70.5" fill="#000"/>
<path d="M49.2,440.5L49.2,431.2H50.7L50.7,429.5H51.7L51.7,425.5H53.2L53.2,424.2H54.7L54.7,417.7H55.7L55.7,412.0H56.7L56.7,406.4H58.2L58.2,403.1H59.2L59.2,400.9H60.7L60.7,395.1H62.2L62.2,393.4H64.2L64.2,393.4H65.7L65.7,390.4H67.2L67.2,387.9H68.2L68.2,391.1H70.2L70.2,395.4H71.7L71.7,399.6H73.2L73.2,401.5H74.7L74.7,396.4H76.7L76.7,398.8H78.2L78.2,398.1H80.2L80.2,395.9H81.7L81.7,396.3H82.7L82.7,399.2H84.2L84.2,399.1H86.2L86.2,398.4H87.2L87.2,403.0H88.2L88.2,399.5H90.2L90.2,402.0H91.7L91.7,406.9H93.2L93.2,404.2H94.7L94.7,404.1H96.2L96.2,404.0H97.7L97.7,406.1H99.7L99.7,405.7H101.7L101.7,402.7H103.7L103.7,399.2H105.7L105.7,397.9H107.7L107.7,399.0H109.2L109.2,395.9H110.2L110.2,396.5H111.7L111.7,393.1H113.7L113.7,389.3H115.2L115.2,386.9H117.2L117.2,382.8H119.2L119.2,383.8H121.2L121.2,376.3H122.2L122.2,374.4H123.7L123.7,366.6H125.2L125.2,363.1H126.2L126.2,347.6H127.2L127.2,343.3H128.2L128.2,339.2H129.7L129.7,335.7H131.7L131.7,318.0H133.7L133.7,318.0H135.7L135.7,318.0H137.2L137.2,318.0H138.7L138.7,320.8H140.7L140.7,336.0H141.7L141.7,350.2H142.7L142.7,363.5H144.2L144.2,381.0H145.7L145.7,395.9H147.2L147.2,404.3H148.7L148.7,413.3H150.2L150.2,415.4H151.2L151.2,423.5H153.2L153.2,425.0H154.7L154.7,427.1H156.2L156.2,429.9H157.7L157.7,431.2H159.2L159.2,432.8H161.2L161.2,434.6H162.7L162.7,433.8H163.7L163.7,435.9H165.2L165.2,435.4H166.7L166.7,436.5H168.7L168.7,438.3H169.7L169.7,437.9H171.2L171.2,439.0H173.2L173.2,438.4H175.2L175.2,439.2H176.7L176.7,438.6H177.7L177.7,438.9H178.7L178.7,439.9H180.7L180.7,439.9H182.2L182.2,439.9H184.2L184.2,439.5H185.7L185.7,439.9H186.0L186.0,440.5Z" fill="#000"/>
<text x="71.0" y="349.5" font-family='"Liberation Sans", sans-serif' font-weight="bold" font-size="25.5">G</text>
<text x="146.0" y="353.7" font-family='"Liberation Serif", serif' font-size="21">63%</text>
<line x1="103.0" y1="371.5" x2="187.3" y2="371.5" stroke="#111" stroke-width="1.6"/>
<line x1="103.0" y1="365.5" x2="103.0" y2="377.5" stroke="#111" stroke-width="1.6"/>
<text x="59.2" y="452.9" font-family='"Liberation Sans", sans-serif' font-weight="bold" font-size="7.8" text-anchor="middle">10<tspan dy="-2.2" font-size="5.85">0</tspan></text>
<text x="92.5" y="452.9" font-family='"Liberation Sans", sans-serif' font-weight="bold" font-size="7.8" text-anchor="middle">10<tspan dy="-2.2" font-size="5.85">1</tspan></text>
<text x="126.0" y="452.9" font-family='"Liberation Sans", sans-serif' font-weight="bold" font-size="7.8" text-anchor="middle">10<tspan dy="-2.2" font-size="5.85">2</tspan></text>
<text x="160.5" y="452.9" font-family='"Liberation Sans", sans-serif' font-weight="bold" font-size="7.8" text-anchor="middle">10<tspan dy="-2.2" font-size="5.85">3</tspan></text>
<text x="194.5" y="452.9" font-family='"Liberation Sans", sans-serif' font-weight="bold" font-size="7.8" text-anchor="middle">10<tspan dy="-2.2" font-size="5.85">4</tspan></text>
<rect x="208.8" y="317.5" width="145.8" height="123.0" fill="#fff" stroke="#111" stroke-width="1.3"/>
<line x1="208.8" y1="317.5" x2="208.8" y2="440.5" stroke="#111" stroke-width="1.2"/>
<line x1="208.8" y1="440.5" x2="354.6" y2="440.5" stroke="#111" stroke-width="1.2"/>
<line x1="354.6" y1="317.5" x2="354.6" y2="440.5" stroke="#111" stroke-width="1.9"/>
<line x1="206.3" y1="440.5" x2="208.8" y2="440.5" stroke="#222" stroke-width="1"/>
<line x1="206.3" y1="422.5" x2="208.8" y2="422.5" stroke="#222" stroke-width="1"/>
<line x1="206.3" y1="404.5" x2="208.8" y2="404.5" stroke="#222" stroke-width="1"/>
<line x1="206.3" y1="386.5" x2="208.8" y2="386.5" stroke="#222" stroke-width="1"/>
<line x1="206.3" y1="368.5" x2="208.8" y2="368.5" stroke="#222" stroke-width="1"/>
<line x1="206.3" y1="350.5" x2="208.8" y2="350.5" stroke="#222" stroke-width="1"/>
<line x1="206.3" y1="332.5" x2="208.8" y2="332.5" stroke="#222" stroke-width="1"/>
<path d="M209.3,440.5L209.3,435.8H210.8L210.8,434.4H212.3L212.3,431.7H213.8L213.8,430.1H215.8L215.8,427.9H217.8L217.8,426.8H219.8L219.8,422.5H220.8L220.8,420.0H222.8L222.8,419.4H223.8L223.8,417.7H224.8L224.8,416.2H225.8L225.8,415.0H226.8L226.8,414.4H228.3L228.3,413.5H229.3L229.3,412.6H230.8L230.8,407.7H232.8L232.8,406.9H234.3L234.3,407.9H236.3L236.3,404.9H237.3L237.3,399.8H238.8L238.8,401.2H240.8L240.8,399.7H242.3L242.3,395.7H243.3L243.3,399.9H245.3L245.3,398.0H246.3L246.3,395.6H247.3L247.3,396.2H249.3L249.3,387.0H250.8L250.8,392.5H251.8L251.8,392.3H253.3L253.3,390.7H255.3L255.3,384.6H257.3L257.3,387.6H259.3L259.3,389.8H261.3L261.3,390.3H262.3L262.3,385.1H264.3L264.3,383.7H266.3L266.3,386.3H268.3L268.3,380.0H269.8L269.8,374.6H270.8L270.8,380.8H272.3L272.3,378.9H273.8L273.8,376.3H275.8L275.8,371.4H277.8L277.8,371.1H279.8L279.8,369.0H281.3L281.3,362.7H283.3L283.3,354.0H285.3L285.3,342.1H287.3L287.3,334.9H289.3L289.3,319.7H291.3L291.3,317.5H292.3L292.3,317.5H293.3L293.3,318.6H295.3L295.3,317.5H297.3L297.3,317.5H298.8L298.8,317.5H300.8L300.8,317.5H301.8L301.8,317.5H302.8L302.8,317.5H304.8L304.8,317.5H306.8L306.8,317.5H308.3L308.3,317.5H309.8L309.8,317.5H310.8L310.8,317.5H312.8L312.8,317.5H314.3L314.3,317.5H316.3L316.3,317.5H318.3L318.3,317.5H319.8L319.8,323.9H320.8L320.8,324.7H322.3L322.3,355.3H324.3L324.3,384.8H325.8L325.8,397.1H327.3L327.3,412.7H329.3L329.3,417.2H330.8L330.8,425.7H332.3L332.3,429.4H334.3L334.3,431.9H335.3L335.3,432.7H336.8L336.8,436.5H337.8L337.8,437.4H339.8L339.8,436.5H340.8L340.8,438.1H342.3L342.3,437.2H344.3L344.3,439.5H345.3L345.3,438.5H346.3L346.3,439.9H347.8L347.8,439.5H349.3L349.3,439.4H350.8L350.8,439.2H352.3L352.3,439.9H354.0L354.0,440.5Z" fill="#000"/>
<text x="225.5" y="348.8" font-family='"Liberation Sans", sans-serif' font-weight="bold" font-size="25.5">H</text>
<text x="332.0" y="351.7" font-family='"Liberation Serif", serif' font-size="21">83</text>
<line x1="267.5" y1="363.5" x2="354.6" y2="363.5" stroke="#111" stroke-width="1.6"/>
<line x1="267.5" y1="359.0" x2="267.5" y2="368.0" stroke="#111" stroke-width="1.6"/>
<text x="209.0" y="449.0" font-family='"Liberation Sans", sans-serif' font-weight="bold" font-size="6" text-anchor="middle">10<tspan dy="-2.7" font-size="4.5">0</tspan></text>
<text x="245.4" y="449.0" font-family='"Liberation Sans", sans-serif' font-weight="bold" font-size="6" text-anchor="middle">10<tspan dy="-2.7" font-size="4.5">1</tspan></text>
<text x="281.9" y="449.0" font-family='"Liberation Sans", sans-serif' font-weight="bold" font-size="6" text-anchor="middle">10<tspan dy="-2.7" font-size="4.5">2</tspan></text>
<text x="318.4" y="449.0" font-family='"Liberation Sans", sans-serif' font-weight="bold" font-size="6" text-anchor="middle">10<tspan dy="-2.7" font-size="4.5">3</tspan></text>
<text x="354.8" y="449.0" font-family='"Liberation Sans", sans-serif' font-weight="bold" font-size="6" text-anchor="middle">10<tspan dy="-2.7" font-size="4.5">4</tspan></text>
<text x="358.5" y="351.7" font-family='"Liberation Serif", serif' font-size="19.5">%</text>
<text x="2.6" y="523.3" font-family='"Liberation Sans", sans-serif' font-weight="bold" font-size="21.5" stroke="#000" stroke-width="0.9">I</text>
<line x1="37.5" y1="525" x2="37.5" y2="722.5" stroke="#000" stroke-width="1.3"/>
<path d="M37.5,511.5 L46.3,527 L28.7,527 Z" fill="#000"/>
<text transform="translate(32.4,617.3) rotate(-90)" font-family='"Liberation Serif", serif' font-size="23.8">PI</text>
<line x1="50" y1="738.6" x2="437" y2="738.6" stroke="#000" stroke-width="1.5"/>
<path d="M453.6,739.2 L435,730.4 L435,748.4 Z" fill="#000"/>
<text x="163.5" y="776.5" font-family='"Liberation Serif", serif' font-size="25">Annexin-V–FITC</text>
<defs><pattern id="ht" x="0" y="0" width="4.3" height="4.3" patternUnits="userSpaceOnUse"><rect width="4.3" height="4.3" fill="#000"/><circle cx="1.07" cy="1.07" r="0.86" fill="#fff"/><circle cx="3.22" cy="3.22" r="0.86" fill="#fff"/></pattern></defs>
<rect x="72.6" y="518.6" width="166.6" height="184.7" fill="#fff" stroke="#111" stroke-width="1.1"/>
<line x1="71.9" y1="518.6" x2="71.9" y2="703.3" stroke="#000" stroke-width="2.3"/>
<line x1="72.6" y1="703.3" x2="239.2" y2="703.3" stroke="#000" stroke-width="1.6"/>
<line x1="67.8" y1="703.3" x2="72.6" y2="703.3" stroke="#000" stroke-width="1.7"/>
<line x1="72.6" y1="703.3" x2="72.6" y2="707.5" stroke="#000" stroke-width="1.4"/>
<line x1="69.5" y1="689.4" x2="72.6" y2="689.4" stroke="#000" stroke-width="1.15"/>
<line x1="85.1" y1="703.3" x2="85.1" y2="705.7" stroke="#000" stroke-width="0.9"/>
<line x1="69.5" y1="681.3" x2="72.6" y2="681.3" stroke="#000" stroke-width="1.15"/>
<line x1="92.5" y1="703.3" x2="92.5" y2="705.7" stroke="#000" stroke-width="0.9"/>
<line x1="69.5" y1="675.5" x2="72.6" y2="675.5" stroke="#000" stroke-width="1.15"/>
<line x1="97.7" y1="703.3" x2="97.7" y2="705.7" stroke="#000" stroke-width="0.9"/>
<line x1="69.5" y1="671.0" x2="72.6" y2="671.0" stroke="#000" stroke-width="1.15"/>
<line x1="101.7" y1="703.3" x2="101.7" y2="705.7" stroke="#000" stroke-width="0.9"/>
<line x1="69.5" y1="667.4" x2="72.6" y2="667.4" stroke="#000" stroke-width="1.15"/>
<line x1="105.0" y1="703.3" x2="105.0" y2="705.7" stroke="#000" stroke-width="0.9"/>
<line x1="69.5" y1="664.3" x2="72.6" y2="664.3" stroke="#000" stroke-width="1.15"/>
<line x1="107.8" y1="703.3" x2="107.8" y2="705.7" stroke="#000" stroke-width="0.9"/>
<line x1="69.5" y1="661.6" x2="72.6" y2="661.6" stroke="#000" stroke-width="1.15"/>
<line x1="110.2" y1="703.3" x2="110.2" y2="705.7" stroke="#000" stroke-width="0.9"/>
<line x1="69.5" y1="659.2" x2="72.6" y2="659.2" stroke="#000" stroke-width="1.15"/>
<line x1="112.3" y1="703.3" x2="112.3" y2="705.7" stroke="#000" stroke-width="0.9"/>
<line x1="67.8" y1="657.1" x2="72.6" y2="657.1" stroke="#000" stroke-width="1.7"/>
<line x1="114.2" y1="703.3" x2="114.2" y2="707.5" stroke="#000" stroke-width="1.4"/>
<line x1="69.5" y1="643.2" x2="72.6" y2="643.2" stroke="#000" stroke-width="1.15"/>
<line x1="126.8" y1="703.3" x2="126.8" y2="705.7" stroke="#000" stroke-width="0.9"/>
<line x1="69.5" y1="635.1" x2="72.6" y2="635.1" stroke="#000" stroke-width="1.15"/>
<line x1="134.1" y1="703.3" x2="134.1" y2="705.7" stroke="#000" stroke-width="0.9"/>
<line x1="69.5" y1="629.3" x2="72.6" y2="629.3" stroke="#000" stroke-width="1.15"/>
<line x1="139.3" y1="703.3" x2="139.3" y2="705.7" stroke="#000" stroke-width="0.9"/>
<line x1="69.5" y1="624.9" x2="72.6" y2="624.9" stroke="#000" stroke-width="1.15"/>
<line x1="143.4" y1="703.3" x2="143.4" y2="705.7" stroke="#000" stroke-width="0.9"/>
<line x1="69.5" y1="621.2" x2="72.6" y2="621.2" stroke="#000" stroke-width="1.15"/>
<line x1="146.7" y1="703.3" x2="146.7" y2="705.7" stroke="#000" stroke-width="0.9"/>
<line x1="69.5" y1="618.1" x2="72.6" y2="618.1" stroke="#000" stroke-width="1.15"/>
<line x1="149.4" y1="703.3" x2="149.4" y2="705.7" stroke="#000" stroke-width="0.9"/>
<line x1="69.5" y1="615.4" x2="72.6" y2="615.4" stroke="#000" stroke-width="1.15"/>
<line x1="151.9" y1="703.3" x2="151.9" y2="705.7" stroke="#000" stroke-width="0.9"/>
<line x1="69.5" y1="613.1" x2="72.6" y2="613.1" stroke="#000" stroke-width="1.15"/>
<line x1="154.0" y1="703.3" x2="154.0" y2="705.7" stroke="#000" stroke-width="0.9"/>
<line x1="67.8" y1="611.0" x2="72.6" y2="611.0" stroke="#000" stroke-width="1.7"/>
<line x1="155.9" y1="703.3" x2="155.9" y2="707.5" stroke="#000" stroke-width="1.4"/>
<line x1="69.5" y1="597.0" x2="72.6" y2="597.0" stroke="#000" stroke-width="1.15"/>
<line x1="168.4" y1="703.3" x2="168.4" y2="705.7" stroke="#000" stroke-width="0.9"/>
<line x1="69.5" y1="588.9" x2="72.6" y2="588.9" stroke="#000" stroke-width="1.15"/>
<line x1="175.8" y1="703.3" x2="175.8" y2="705.7" stroke="#000" stroke-width="0.9"/>
<line x1="69.5" y1="583.1" x2="72.6" y2="583.1" stroke="#000" stroke-width="1.15"/>
<line x1="181.0" y1="703.3" x2="181.0" y2="705.7" stroke="#000" stroke-width="0.9"/>
<line x1="69.5" y1="578.7" x2="72.6" y2="578.7" stroke="#000" stroke-width="1.15"/>
<line x1="185.0" y1="703.3" x2="185.0" y2="705.7" stroke="#000" stroke-width="0.9"/>
<line x1="69.5" y1="575.0" x2="72.6" y2="575.0" stroke="#000" stroke-width="1.15"/>
<line x1="188.3" y1="703.3" x2="188.3" y2="705.7" stroke="#000" stroke-width="0.9"/>
<line x1="69.5" y1="571.9" x2="72.6" y2="571.9" stroke="#000" stroke-width="1.15"/>
<line x1="191.1" y1="703.3" x2="191.1" y2="705.7" stroke="#000" stroke-width="0.9"/>
<line x1="69.5" y1="569.2" x2="72.6" y2="569.2" stroke="#000" stroke-width="1.15"/>
<line x1="193.5" y1="703.3" x2="193.5" y2="705.7" stroke="#000" stroke-width="0.9"/>
<line x1="69.5" y1="566.9" x2="72.6" y2="566.9" stroke="#000" stroke-width="1.15"/>
<line x1="195.6" y1="703.3" x2="195.6" y2="705.7" stroke="#000" stroke-width="0.9"/>
<line x1="67.8" y1="564.8" x2="72.6" y2="564.8" stroke="#000" stroke-width="1.7"/>
<line x1="197.5" y1="703.3" x2="197.5" y2="707.5" stroke="#000" stroke-width="1.4"/>
<line x1="69.5" y1="550.9" x2="72.6" y2="550.9" stroke="#000" stroke-width="1.15"/>
<line x1="210.1" y1="703.3" x2="210.1" y2="705.7" stroke="#000" stroke-width="0.9"/>
<line x1="69.5" y1="542.7" x2="72.6" y2="542.7" stroke="#000" stroke-width="1.15"/>
<line x1="217.4" y1="703.3" x2="217.4" y2="705.7" stroke="#000" stroke-width="0.9"/>
<line x1="69.5" y1="537.0" x2="72.6" y2="537.0" stroke="#000" stroke-width="1.15"/>
<line x1="222.6" y1="703.3" x2="222.6" y2="705.7" stroke="#000" stroke-width="0.9"/>
<line x1="69.5" y1="532.5" x2="72.6" y2="532.5" stroke="#000" stroke-width="1.15"/>
<line x1="226.7" y1="703.3" x2="226.7" y2="705.7" stroke="#000" stroke-width="0.9"/>
<line x1="69.5" y1="528.8" x2="72.6" y2="528.8" stroke="#000" stroke-width="1.15"/>
<line x1="230.0" y1="703.3" x2="230.0" y2="705.7" stroke="#000" stroke-width="0.9"/>
<line x1="69.5" y1="525.8" x2="72.6" y2="525.8" stroke="#000" stroke-width="1.15"/>
<line x1="232.7" y1="703.3" x2="232.7" y2="705.7" stroke="#000" stroke-width="0.9"/>
<line x1="69.5" y1="523.1" x2="72.6" y2="523.1" stroke="#000" stroke-width="1.15"/>
<line x1="235.2" y1="703.3" x2="235.2" y2="705.7" stroke="#000" stroke-width="0.9"/>
<line x1="69.5" y1="520.7" x2="72.6" y2="520.7" stroke="#000" stroke-width="1.15"/>
<line x1="237.3" y1="703.3" x2="237.3" y2="705.7" stroke="#000" stroke-width="0.9"/>
<line x1="67.8" y1="518.6" x2="72.6" y2="518.6" stroke="#000" stroke-width="1.4"/>
<line x1="239.2" y1="703.3" x2="239.2" y2="707.5" stroke="#000" stroke-width="1.4"/>
<line x1="157.8" y1="518.6" x2="157.8" y2="703.3" stroke="#000" stroke-width="1.4"/>
<line x1="72.6" y1="649.3" x2="239.2" y2="649.3" stroke="#000" stroke-width="1.3"/>
<rect x="73.1" y="650.5" width="84.0" height="52.5" fill="url(#ht)"/>
<path d="M150.0,697.9h2.0v2.0h-2.0zM156.0,673.6h2.5v2.5h-2.5zM153.9,674.8h2.5v2.5h-2.5zM146.9,691.1h1.5v1.5h-1.5zM154.9,678.0h2.5v2.5h-2.5zM157.3,683.0h2.5v2.5h-2.5zM140.6,684.0h2.5v2.5h-2.5zM156.6,683.8h2.5v2.5h-2.5zM150.1,653.4h1.5v1.5h-1.5zM157.8,695.6h2.5v2.5h-2.5zM150.9,673.0h1.5v1.5h-1.5zM157.1,677.0h2.5v2.5h-2.5zM158.4,654.7h2.5v2.5h-2.5zM158.0,664.6h2.5v2.5h-2.5zM145.2,686.8h2.0v2.0h-2.0zM158.2,689.3h2.5v2.5h-2.5zM158.0,689.8h2.0v2.0h-2.0zM156.0,655.9h2.0v2.0h-2.0zM145.3,693.9h1.5v1.5h-1.5zM147.1,661.3h1.5v1.5h-1.5zM139.3,670.8h1.5v1.5h-1.5zM154.9,679.5h1.5v1.5h-1.5zM157.6,654.8h2.0v2.0h-2.0zM153.1,651.1h2.0v2.0h-2.0zM158.4,663.0h1.5v1.5h-1.5zM155.1,650.9h2.0v2.0h-2.0zM157.3,679.1h2.0v2.0h-2.0zM154.4,676.5h2.5v2.5h-2.5zM157.7,670.1h2.0v2.0h-2.0zM151.4,672.0h1.5v1.5h-1.5zM144.6,700.5h2.5v2.5h-2.5zM158.6,666.0h1.5v1.5h-1.5zM156.9,694.3h2.5v2.5h-2.5zM151.8,680.0h1.5v1.5h-1.5zM153.8,663.6h2.5v2.5h-2.5zM158.3,667.2h2.0v2.0h-2.0zM156.5,661.0h2.5v2.5h-2.5zM156.8,662.8h2.5v2.5h-2.5zM152.0,656.9h2.5v2.5h-2.5zM151.4,675.2h2.5v2.5h-2.5zM154.1,682.6h2.0v2.0h-2.0zM153.4,697.1h2.5v2.5h-2.5zM158.6,688.4h2.5v2.5h-2.5zM154.1,660.4h2.0v2.0h-2.0zM151.6,672.0h1.5v1.5h-1.5zM152.2,655.9h2.5v2.5h-2.5zM153.6,686.6h2.0v2.0h-2.0zM157.4,672.0h2.5v2.5h-2.5zM150.1,698.2h1.5v1.5h-1.5zM158.1,656.8h2.0v2.0h-2.0zM145.8,681.9h2.0v2.0h-2.0zM153.6,661.2h1.5v1.5h-1.5zM158.6,671.5h1.5v1.5h-1.5zM155.9,653.4h1.5v1.5h-1.5zM156.9,700.4h1.5v1.5h-1.5zM150.2,669.0h2.0v2.0h-2.0zM148.4,685.9h2.5v2.5h-2.5zM157.3,699.1h2.5v2.5h-2.5zM157.3,697.2h2.5v2.5h-2.5zM158.3,666.4h1.5v1.5h-1.5zM148.7,675.1h2.5v2.5h-2.5zM157.3,666.3h1.5v1.5h-1.5zM155.8,678.4h2.5v2.5h-2.5zM158.6,652.6h2.5v2.5h-2.5zM158.3,699.9h2.0v2.0h-2.0zM154.9,668.4h2.5v2.5h-2.5zM155.8,694.5h1.5v1.5h-1.5zM158.1,694.8h2.5v2.5h-2.5zM148.3,669.8h1.5v1.5h-1.5zM157.7,681.7h1.5v1.5h-1.5zM155.7,663.5h2.0v2.0h-2.0zM156.7,687.8h2.0v2.0h-2.0zM148.7,673.9h2.0v2.0h-2.0zM154.3,693.5h1.5v1.5h-1.5zM150.2,666.3h1.5v1.5h-1.5zM157.6,675.1h1.5v1.5h-1.5zM155.3,690.5h2.5v2.5h-2.5zM157.7,697.7h2.0v2.0h-2.0zM153.3,657.7h2.5v2.5h-2.5zM154.5,660.7h1.5v1.5h-1.5zM158.4,698.2h2.0v2.0h-2.0zM152.2,696.2h2.0v2.0h-2.0zM154.2,683.0h1.5v1.5h-1.5zM155.6,695.6h2.0v2.0h-2.0zM155.6,661.1h1.5v1.5h-1.5zM143.1,675.9h1.5v1.5h-1.5zM154.5,664.6h1.5v1.5h-1.5zM142.0,656.1h2.0v2.0h-2.0zM157.8,671.6h2.5v2.5h-2.5zM153.8,677.1h2.5v2.5h-2.5zM153.3,700.9h2.0v2.0h-2.0zM146.3,666.8h1.5v1.5h-1.5zM156.9,685.2h2.0v2.0h-2.0zM149.2,679.7h2.0v2.0h-2.0zM153.3,683.3h2.0v2.0h-2.0zM151.3,673.7h1.5v1.5h-1.5zM157.9,690.4h1.5v1.5h-1.5zM153.1,701.0h1.5v1.5h-1.5zM149.3,684.0h2.0v2.0h-2.0zM155.3,699.7h2.5v2.5h-2.5zM154.4,663.5h2.5v2.5h-2.5zM146.2,650.9h2.0v2.0h-2.0zM156.7,662.0h2.0v2.0h-2.0zM158.2,678.1h2.5v2.5h-2.5zM134.9,658.5h2.5v2.5h-2.5zM158.5,697.0h1.5v1.5h-1.5zM146.1,670.3h2.0v2.0h-2.0zM150.7,673.7h2.5v2.5h-2.5zM158.0,678.6h2.5v2.5h-2.5zM158.1,695.6h2.0v2.0h-2.0zM148.7,660.9h2.5v2.5h-2.5zM156.3,694.9h2.5v2.5h-2.5zM155.4,662.8h2.0v2.0h-2.0zM157.0,700.8h2.0v2.0h-2.0zM146.6,666.8h2.5v2.5h-2.5zM155.8,694.4h2.0v2.0h-2.0zM156.7,667.9h2.0v2.0h-2.0zM158.5,689.9h2.0v2.0h-2.0zM154.3,695.0h2.0v2.0h-2.0zM156.2,691.5h1.5v1.5h-1.5zM148.2,697.5h2.0v2.0h-2.0zM156.4,658.0h2.5v2.5h-2.5zM151.7,685.2h2.0v2.0h-2.0zM153.7,699.0h2.0v2.0h-2.0zM149.2,689.3h2.0v2.0h-2.0zM153.5,677.4h2.0v2.0h-2.0zM154.2,658.8h2.5v2.5h-2.5zM150.8,693.7h2.5v2.5h-2.5zM158.2,699.5h2.5v2.5h-2.5zM148.2,661.0h1.5v1.5h-1.5zM150.2,679.8h1.5v1.5h-1.5zM156.9,671.5h1.5v1.5h-1.5zM149.1,651.7h1.5v1.5h-1.5zM158.4,676.9h2.0v2.0h-2.0zM138.3,656.6h1.5v1.5h-1.5zM152.8,685.9h1.5v1.5h-1.5zM151.6,697.7h2.0v2.0h-2.0zM155.3,664.2h2.0v2.0h-2.0zM152.2,696.7h2.0v2.0h-2.0zM158.3,677.3h1.5v1.5h-1.5zM155.1,698.0h1.5v1.5h-1.5zM149.5,686.5h1.5v1.5h-1.5zM154.6,650.9h2.0v2.0h-2.0zM157.7,666.9h2.0v2.0h-2.0zM158.3,676.0h2.5v2.5h-2.5zM150.4,656.6h2.5v2.5h-2.5zM150.7,686.4h2.0v2.0h-2.0zM150.8,651.5h2.5v2.5h-2.5zM151.2,658.5h1.5v1.5h-1.5zM154.2,694.8h2.5v2.5h-2.5zM153.1,694.1h2.5v2.5h-2.5zM152.0,680.5h1.5v1.5h-1.5zM157.3,692.0h1.5v1.5h-1.5zM147.2,666.6h2.0v2.0h-2.0zM155.0,690.4h1.5v1.5h-1.5zM155.7,696.0h1.5v1.5h-1.5zM155.7,654.8h2.0v2.0h-2.0zM156.2,655.3h2.0v2.0h-2.0zM148.1,660.6h2.5v2.5h-2.5zM155.7,685.6h1.5v1.5h-1.5zM151.1,668.7h2.0v2.0h-2.0zM153.4,656.2h2.5v2.5h-2.5zM154.3,701.7h1.5v1.5h-1.5zM153.8,691.6h2.0v2.0h-2.0zM157.1,678.7h2.5v2.5h-2.5zM157.4,696.9h2.0v2.0h-2.0zM155.9,660.8h1.5v1.5h-1.5zM155.0,701.3h2.5v2.5h-2.5zM156.5,699.3h2.0v2.0h-2.0zM157.2,654.3h1.5v1.5h-1.5zM155.0,676.8h2.0v2.0h-2.0zM151.6,661.1h2.0v2.0h-2.0zM147.8,693.8h1.5v1.5h-1.5zM157.7,671.3h2.0v2.0h-2.0zM158.1,660.3h1.5v1.5h-1.5zM151.5,655.2h1.5v1.5h-1.5zM157.3,693.7h2.5v2.5h-2.5zM156.0,698.7h2.5v2.5h-2.5zM151.9,700.9h2.0v2.0h-2.0zM153.7,664.7h1.5v1.5h-1.5zM158.2,692.3h2.0v2.0h-2.0zM146.5,657.2h2.0v2.0h-2.0zM150.7,689.8h1.5v1.5h-1.5zM151.2,671.2h2.5v2.5h-2.5zM153.6,665.8h1.5v1.5h-1.5zM147.1,650.8h2.0v2.0h-2.0zM143.5,652.9h2.0v2.0h-2.0zM157.7,699.0h2.5v2.5h-2.5zM157.1,671.2h1.5v1.5h-1.5zM153.9,677.8h2.0v2.0h-2.0zM150.4,661.3h1.5v1.5h-1.5zM157.8,689.5h2.5v2.5h-2.5zM149.0,688.3h2.0v2.0h-2.0zM157.2,673.1h2.5v2.5h-2.5zM154.2,669.6h1.5v1.5h-1.5zM157.2,663.6h2.0v2.0h-2.0zM151.3,676.5h2.5v2.5h-2.5zM153.7,679.6h1.5v1.5h-1.5zM150.4,654.2h2.5v2.5h-2.5zM148.9,684.7h1.5v1.5h-1.5zM146.1,670.2h1.5v1.5h-1.5zM147.8,694.4h2.5v2.5h-2.5zM156.7,699.0h2.0v2.0h-2.0zM157.0,664.9h2.0v2.0h-2.0zM153.1,665.0h2.5v2.5h-2.5zM154.7,664.2h2.0v2.0h-2.0zM152.6,651.7h1.5v1.5h-1.5zM148.7,680.5h2.5v2.5h-2.5zM152.1,670.4h2.0v2.0h-2.0zM148.8,688.8h1.5v1.5h-1.5zM148.8,666.7h1.5v1.5h-1.5zM153.1,672.4h2.0v2.0h-2.0zM158.5,652.6h1.5v1.5h-1.5zM146.9,698.6h2.5v2.5h-2.5zM155.3,699.7h1.5v1.5h-1.5zM156.5,681.4h1.5v1.5h-1.5zM151.7,656.4h1.5v1.5h-1.5zM156.3,668.7h1.5v1.5h-1.5zM153.2,684.7h2.0v2.0h-2.0zM153.3,681.3h2.5v2.5h-2.5zM152.3,690.4h2.5v2.5h-2.5zM155.0,692.3h1.5v1.5h-1.5zM147.7,662.6h1.5v1.5h-1.5zM155.3,676.2h2.0v2.0h-2.0zM156.5,668.8h2.0v2.0h-2.0zM149.0,681.7h2.5v2.5h-2.5zM150.0,682.9h1.5v1.5h-1.5zM154.9,660.1h1.5v1.5h-1.5zM148.4,660.4h2.5v2.5h-2.5zM158.5,652.3h1.5v1.5h-1.5zM153.2,651.7h1.5v1.5h-1.5zM158.3,655.6h2.5v2.5h-2.5zM156.5,697.3h1.5v1.5h-1.5zM147.0,678.7h2.5v2.5h-2.5zM150.6,668.5h2.0v2.0h-2.0zM157.7,668.0h2.5v2.5h-2.5zM149.1,691.6h2.0v2.0h-2.0zM148.1,692.0h2.5v2.5h-2.5zM152.3,673.2h2.5v2.5h-2.5zM148.4,663.6h1.5v1.5h-1.5zM151.7,701.2h2.0v2.0h-2.0zM151.1,665.3h2.5v2.5h-2.5zM156.5,684.0h2.5v2.5h-2.5zM154.6,655.3h2.0v2.0h-2.0zM156.0,679.4h2.0v2.0h-2.0zM157.2,692.3h2.0v2.0h-2.0zM154.9,654.2h1.5v1.5h-1.5zM147.1,697.2h2.5v2.5h-2.5zM153.4,687.6h2.5v2.5h-2.5zM155.7,667.2h1.5v1.5h-1.5zM156.6,667.1h1.5v1.5h-1.5zM148.6,666.9h2.0v2.0h-2.0zM144.4,698.7h2.0v2.0h-2.0zM152.0,672.9h2.0v2.0h-2.0zM153.8,700.1h2.5v2.5h-2.5zM157.3,696.4h1.5v1.5h-1.5zM147.3,651.5h2.5v2.5h-2.5zM152.0,670.7h2.0v2.0h-2.0zM155.3,669.3h2.0v2.0h-2.0zM147.6,678.1h2.5v2.5h-2.5zM154.6,689.4h2.0v2.0h-2.0zM156.9,692.1h1.5v1.5h-1.5zM149.9,679.5h1.5v1.5h-1.5zM157.7,683.8h2.0v2.0h-2.0zM150.5,690.9h1.5v1.5h-1.5zM155.2,667.5h2.0v2.0h-2.0zM157.4,654.7h2.5v2.5h-2.5zM143.7,684.0h1.5v1.5h-1.5zM158.3,662.9h1.5v1.5h-1.5zM148.5,675.5h2.5v2.5h-2.5zM154.5,668.3h2.0v2.0h-2.0zM152.0,684.9h2.0v2.0h-2.0zM146.0,654.0h2.5v2.5h-2.5zM157.7,697.4h2.0v2.0h-2.0zM157.7,668.3h1.5v1.5h-1.5zM138.2,691.8h1.5v1.5h-1.5zM145.1,683.3h2.5v2.5h-2.5zM147.3,668.9h1.5v1.5h-1.5zM156.2,672.0h1.5v1.5h-1.5zM151.7,663.0h1.5v1.5h-1.5zM151.8,658.9h1.5v1.5h-1.5zM158.2,670.4h2.5v2.5h-2.5zM153.8,653.3h2.0v2.0h-2.0zM140.7,687.9h2.0v2.0h-2.0zM151.4,659.5h1.5v1.5h-1.5zM148.9,689.1h1.5v1.5h-1.5zM145.4,652.2h1.5v1.5h-1.5zM150.9,660.5h2.0v2.0h-2.0zM157.6,687.2h2.5v2.5h-2.5zM153.6,676.5h2.0v2.0h-2.0zM156.3,659.2h2.0v2.0h-2.0zM153.4,682.6h2.5v2.5h-2.5zM153.2,696.0h2.0v2.0h-2.0zM157.9,684.3h1.5v1.5h-1.5zM153.7,652.9h1.5v1.5h-1.5zM158.1,691.6h2.0v2.0h-2.0zM146.3,690.2h1.5v1.5h-1.5zM156.7,684.2h1.5v1.5h-1.5zM147.5,696.9h2.0v2.0h-2.0zM149.7,691.3h2.5v2.5h-2.5zM146.0,671.7h2.0v2.0h-2.0zM151.8,657.8h2.5v2.5h-2.5zM150.8,682.2h2.5v2.5h-2.5zM150.1,677.8h1.5v1.5h-1.5zM154.7,660.8h1.5v1.5h-1.5zM156.7,692.6h1.5v1.5h-1.5zM152.8,677.5h2.0v2.0h-2.0zM150.8,686.0h1.5v1.5h-1.5zM149.7,694.5h2.0v2.0h-2.0zM156.0,651.3h1.5v1.5h-1.5zM145.1,655.0h2.0v2.0h-2.0zM150.8,661.0h2.5v2.5h-2.5zM151.6,699.0h2.0v2.0h-2.0zM154.4,666.6h2.0v2.0h-2.0zM153.3,674.4h2.5v2.5h-2.5zM155.9,653.8h1.5v1.5h-1.5zM157.3,670.6h2.0v2.0h-2.0zM155.5,688.8h1.5v1.5h-1.5zM158.0,669.7h2.5v2.5h-2.5zM157.7,674.8h2.0v2.0h-2.0zM151.5,650.8h2.5v2.5h-2.5zM155.6,660.9h2.5v2.5h-2.5zM152.9,698.6h2.5v2.5h-2.5zM150.6,665.7h2.0v2.0h-2.0zM158.3,654.8h1.5v1.5h-1.5zM149.7,660.6h2.5v2.5h-2.5zM153.9,664.4h2.0v2.0h-2.0zM154.8,687.6h2.0v2.0h-2.0zM152.1,655.5h2.5v2.5h-2.5zM156.3,655.2h2.5v2.5h-2.5zM155.6,660.2h1.5v1.5h-1.5zM155.4,693.4h2.5v2.5h-2.5zM157.7,652.0h1.5v1.5h-1.5zM155.5,672.6h1.5v1.5h-1.5zM151.5,698.0h1.5v1.5h-1.5zM147.7,683.6h1.5v1.5h-1.5zM155.6,667.4h2.0v2.0h-2.0zM152.4,682.4h2.5v2.5h-2.5zM149.8,700.9h1.5v1.5h-1.5zM152.3,684.3h2.5v2.5h-2.5zM153.3,660.0h2.0v2.0h-2.0zM157.6,683.8h1.5v1.5h-1.5zM154.2,667.4h2.0v2.0h-2.0zM156.9,692.8h2.5v2.5h-2.5zM157.4,678.1h2.0v2.0h-2.0zM153.4,678.5h2.0v2.0h-2.0zM152.2,679.9h1.5v1.5h-1.5zM153.2,701.1h2.5v2.5h-2.5zM147.6,698.5h2.5v2.5h-2.5zM158.5,699.0h2.5v2.5h-2.5zM152.1,657.3h2.0v2.0h-2.0zM148.4,680.0h2.5v2.5h-2.5zM157.1,695.2h2.0v2.0h-2.0zM155.9,674.1h1.5v1.5h-1.5zM147.8,662.6h2.5v2.5h-2.5zM155.3,678.3h2.5v2.5h-2.5zM144.3,659.0h2.5v2.5h-2.5zM152.6,701.4h2.0v2.0h-2.0zM155.7,692.8h2.0v2.0h-2.0zM156.5,685.6h2.0v2.0h-2.0zM158.1,693.1h1.5v1.5h-1.5zM149.5,681.1h1.5v1.5h-1.5zM151.8,690.6h2.5v2.5h-2.5zM156.6,657.4h2.5v2.5h-2.5zM149.8,682.0h2.5v2.5h-2.5zM146.1,691.7h1.5v1.5h-1.5zM154.7,652.0h2.5v2.5h-2.5zM152.5,670.2h2.5v2.5h-2.5zM153.3,657.1h1.5v1.5h-1.5zM155.1,679.6h2.0v2.0h-2.0zM147.0,687.5h1.5v1.5h-1.5zM154.6,671.1h2.0v2.0h-2.0zM152.2,671.5h2.5v2.5h-2.5zM154.0,697.3h2.5v2.5h-2.5zM158.0,675.3h2.0v2.0h-2.0zM146.9,693.5h2.5v2.5h-2.5zM152.3,679.4h2.5v2.5h-2.5zM154.6,667.3h2.5v2.5h-2.5zM144.8,666.8h1.5v1.5h-1.5zM152.3,665.5h2.5v2.5h-2.5zM149.4,681.1h2.0v2.0h-2.0zM151.9,695.8h1.5v1.5h-1.5zM158.1,662.8h2.0v2.0h-2.0zM145.1,700.4h2.0v2.0h-2.0zM155.7,662.6h2.0v2.0h-2.0zM150.6,684.1h1.5v1.5h-1.5zM139.2,687.9h2.5v2.5h-2.5zM140.3,669.3h2.5v2.5h-2.5zM147.5,661.7h2.5v2.5h-2.5zM152.6,672.0h1.5v1.5h-1.5zM156.0,691.1h1.5v1.5h-1.5zM156.8,695.7h2.5v2.5h-2.5zM158.4,662.9h2.0v2.0h-2.0zM158.5,651.5h1.5v1.5h-1.5zM144.9,692.3h2.0v2.0h-2.0zM152.9,657.6h2.5v2.5h-2.5zM156.8,651.9h2.0v2.0h-2.0zM157.5,666.2h2.0v2.0h-2.0zM151.1,690.3h1.5v1.5h-1.5zM149.1,660.7h2.5v2.5h-2.5zM154.9,693.5h2.0v2.0h-2.0zM155.8,696.6h1.5v1.5h-1.5zM151.8,701.6h1.5v1.5h-1.5zM145.9,677.8h1.5v1.5h-1.5zM153.4,652.9h1.5v1.5h-1.5zM145.1,666.1h2.0v2.0h-2.0zM153.2,671.9h1.5v1.5h-1.5zM157.3,667.5h2.0v2.0h-2.0zM154.9,694.7h1.5v1.5h-1.5zM156.4,686.9h1.5v1.5h-1.5zM157.3,676.1h2.0v2.0h-2.0zM147.5,691.0h2.0v2.0h-2.0zM155.8,656.3h2.5v2.5h-2.5zM150.5,662.1h2.0v2.0h-2.0zM155.1,661.9h1.5v1.5h-1.5zM155.9,683.3h1.5v1.5h-1.5zM155.9,697.5h1.5v1.5h-1.5zM158.0,677.6h1.5v1.5h-1.5zM149.3,678.0h2.0v2.0h-2.0zM158.2,691.7h1.5v1.5h-1.5zM88.9,651.1h1.5v1.5h-1.5zM90.1,650.4h1.5v1.5h-1.5zM135.1,652.4h1.5v1.5h-1.5zM87.8,650.7h1.5v1.5h-1.5zM148.3,652.2h1.5v1.5h-1.5zM123.0,652.2h1.5v1.5h-1.5zM75.8,650.6h1.5v1.5h-1.5zM80.8,650.6h1.5v1.5h-1.5zM138.5,651.2h1.5v1.5h-1.5zM114.8,650.9h1.5v1.5h-1.5zM78.2,650.9h1.5v1.5h-1.5zM127.0,652.5h1.5v1.5h-1.5zM155.3,650.4h1.5v1.5h-1.5zM123.7,651.8h1.5v1.5h-1.5zM138.1,651.3h1.5v1.5h-1.5zM129.7,651.1h1.5v1.5h-1.5zM120.0,650.4h1.5v1.5h-1.5zM134.0,652.2h1.5v1.5h-1.5zM96.6,652.6h1.5v1.5h-1.5zM124.5,650.9h1.5v1.5h-1.5zM96.8,651.2h1.5v1.5h-1.5zM79.9,653.3h1.5v1.5h-1.5zM111.9,651.1h1.5v1.5h-1.5zM124.9,651.0h1.5v1.5h-1.5zM124.9,650.8h1.5v1.5h-1.5zM134.2,651.6h1.5v1.5h-1.5zM145.0,650.9h1.5v1.5h-1.5zM90.0,650.4h1.5v1.5h-1.5zM127.4,652.0h1.5v1.5h-1.5zM126.1,651.2h1.5v1.5h-1.5zM80.0,652.0h1.5v1.5h-1.5zM142.0,651.1h1.5v1.5h-1.5zM135.4,650.7h1.5v1.5h-1.5zM116.0,652.3h1.5v1.5h-1.5zM128.3,651.5h1.5v1.5h-1.5zM95.7,650.4h1.5v1.5h-1.5zM115.8,651.2h1.5v1.5h-1.5zM112.4,651.7h1.5v1.5h-1.5zM101.2,652.1h1.5v1.5h-1.5zM132.6,650.7h1.5v1.5h-1.5zM153.1,651.7h1.5v1.5h-1.5zM124.3,651.8h1.5v1.5h-1.5zM86.5,650.3h1.5v1.5h-1.5zM155.4,651.8h1.5v1.5h-1.5zM75.9,651.5h1.5v1.5h-1.5zM83.0,651.1h1.5v1.5h-1.5zM120.6,653.1h1.5v1.5h-1.5zM154.3,650.8h1.5v1.5h-1.5zM130.7,651.0h1.5v1.5h-1.5zM125.2,653.5h1.5v1.5h-1.5zM99.6,652.0h1.5v1.5h-1.5zM109.5,651.9h1.5v1.5h-1.5zM82.6,650.4h1.5v1.5h-1.5zM152.3,651.3h1.5v1.5h-1.5zM150.4,650.4h1.5v1.5h-1.5zM123.0,651.0h1.5v1.5h-1.5zM156.2,650.4h1.5v1.5h-1.5zM149.5,651.8h1.5v1.5h-1.5zM147.2,651.0h1.5v1.5h-1.5zM145.3,650.6h1.5v1.5h-1.5z" fill="#fff"/>
<path d="M148.3,669.7h1.4v1.4h-1.4zM145.1,661.6h1.8v1.8h-1.8zM143.0,691.0h1.8v1.8h-1.8zM158.6,661.0h1.4v1.4h-1.4zM155.2,674.4h1.8v1.8h-1.8zM151.1,700.5h2.2v2.2h-2.2zM146.9,677.8h1.8v1.8h-1.8zM152.1,654.4h2.2v2.2h-2.2zM146.2,681.8h2.2v2.2h-2.2zM143.3,697.0h2.2v2.2h-2.2zM151.6,661.7h1.4v1.4h-1.4zM145.9,697.6h1.8v1.8h-1.8zM146.6,657.7h1.4v1.4h-1.4zM145.9,651.8h1.8v1.8h-1.8zM159.4,669.9h1.8v1.8h-1.8zM148.1,689.3h2.2v2.2h-2.2zM146.3,681.2h1.8v1.8h-1.8zM149.3,652.8h1.4v1.4h-1.4zM147.3,661.2h1.8v1.8h-1.8zM143.0,672.0h2.2v2.2h-2.2zM146.3,678.2h1.8v1.8h-1.8zM152.8,687.1h2.2v2.2h-2.2zM155.9,692.5h2.2v2.2h-2.2zM155.5,686.4h1.8v1.8h-1.8zM149.7,668.6h1.4v1.4h-1.4zM150.8,665.4h1.8v1.8h-1.8zM146.4,693.2h2.2v2.2h-2.2zM145.8,682.3h2.2v2.2h-2.2zM157.8,688.0h2.2v2.2h-2.2zM143.7,684.3h1.4v1.4h-1.4zM150.4,656.9h1.8v1.8h-1.8zM145.6,662.5h2.2v2.2h-2.2zM143.6,656.8h1.8v1.8h-1.8zM158.7,653.8h1.8v1.8h-1.8zM149.3,686.0h1.4v1.4h-1.4zM145.7,658.7h1.8v1.8h-1.8zM147.2,668.3h2.2v2.2h-2.2zM157.3,662.8h1.4v1.4h-1.4zM143.5,691.0h1.8v1.8h-1.8zM146.0,685.8h1.4v1.4h-1.4zM153.5,695.9h1.4v1.4h-1.4zM144.7,671.0h1.4v1.4h-1.4zM145.0,669.7h2.2v2.2h-2.2zM147.0,695.1h1.4v1.4h-1.4zM156.2,652.0h1.8v1.8h-1.8zM146.5,665.7h2.2v2.2h-2.2zM150.4,695.2h2.2v2.2h-2.2zM154.8,698.5h1.8v1.8h-1.8zM145.0,652.4h2.2v2.2h-2.2zM157.1,682.2h2.2v2.2h-2.2zM148.1,677.9h2.2v2.2h-2.2zM148.8,692.3h1.8v1.8h-1.8zM146.3,669.9h1.8v1.8h-1.8zM147.3,676.2h1.8v1.8h-1.8zM143.8,675.6h1.8v1.8h-1.8zM147.7,660.4h1.4v1.4h-1.4zM143.3,663.7h1.4v1.4h-1.4zM117.6,645.2h1.4v1.4h-1.4zM131.2,648.3h1.4v1.4h-1.4zM118.0,644.7h1.4v1.4h-1.4zM144.3,648.2h1.4v1.4h-1.4zM150.8,643.9h1.4v1.4h-1.4zM180.1,646.5h1.4v1.4h-1.4zM126.0,645.3h1.4v1.4h-1.4zM124.3,644.0h1.4v1.4h-1.4zM158.6,647.0h1.4v1.4h-1.4zM179.7,644.7h1.4v1.4h-1.4zM167.8,646.4h1.4v1.4h-1.4zM139.4,645.4h1.4v1.4h-1.4zM145.6,646.9h1.4v1.4h-1.4zM161.4,646.8h1.4v1.4h-1.4zM143.1,648.1h1.4v1.4h-1.4zM125.3,646.4h1.4v1.4h-1.4zM112.7,647.0h1.4v1.4h-1.4zM103.0,648.2h1.4v1.4h-1.4zM103.5,645.2h1.4v1.4h-1.4zM107.2,646.0h1.4v1.4h-1.4zM136.1,647.9h1.4v1.4h-1.4zM111.5,645.5h1.4v1.4h-1.4zM171.4,647.7h1.4v1.4h-1.4zM119.2,647.7h1.4v1.4h-1.4zM140.8,647.6h1.4v1.4h-1.4zM158.6,645.9h1.4v1.4h-1.4zM119.1,647.8h1.4v1.4h-1.4zM126.0,646.1h1.4v1.4h-1.4zM162.3,645.7h1.4v1.4h-1.4zM145.9,644.4h1.4v1.4h-1.4zM133.4,647.4h1.4v1.4h-1.4zM168.4,644.9h1.4v1.4h-1.4zM165.9,646.6h1.4v1.4h-1.4zM154.6,646.6h1.4v1.4h-1.4zM117.3,648.1h1.4v1.4h-1.4zM147.5,647.9h1.4v1.4h-1.4zM177.8,647.0h1.4v1.4h-1.4zM156.2,648.1h1.4v1.4h-1.4zM133.3,646.6h1.4v1.4h-1.4zM177.1,646.5h1.4v1.4h-1.4zM181.8,644.5h1.4v1.4h-1.4zM107.7,647.1h1.4v1.4h-1.4zM101.2,647.4h1.4v1.4h-1.4zM182.3,644.4h1.4v1.4h-1.4zM107.8,648.0h1.4v1.4h-1.4zM161.6,686.4h1.8v1.8h-1.8zM163.0,688.1h2.2v2.2h-2.2zM165.0,698.1h2.2v2.2h-2.2zM172.4,694.8h2.2v2.2h-2.2zM163.0,685.4h2.2v2.2h-2.2zM172.6,695.5h1.8v1.8h-1.8zM186.3,698.0h1.8v1.8h-1.8zM164.7,690.7h1.4v1.4h-1.4zM169.0,699.7h2.2v2.2h-2.2zM161.3,691.4h1.8v1.8h-1.8zM163.5,699.4h1.8v1.8h-1.8zM168.7,695.8h2.2v2.2h-2.2zM175.7,696.3h1.8v1.8h-1.8zM160.4,700.2h1.8v1.8h-1.8zM159.9,656.5h1.4v1.4h-1.4zM163.8,687.5h1.4v1.4h-1.4zM159.6,680.5h1.8v1.8h-1.8zM171.8,692.3h2.2v2.2h-2.2zM162.2,690.8h1.8v1.8h-1.8zM175.1,696.7h1.4v1.4h-1.4zM169.6,686.7h2.2v2.2h-2.2zM159.3,676.3h1.4v1.4h-1.4zM166.8,681.9h1.8v1.8h-1.8zM163.9,687.0h1.8v1.8h-1.8zM177.0,687.4h1.4v1.4h-1.4zM164.8,689.4h2.2v2.2h-2.2zM164.0,699.9h2.2v2.2h-2.2zM169.3,689.7h2.2v2.2h-2.2zM159.2,690.4h1.4v1.4h-1.4zM179.9,687.1h2.2v2.2h-2.2zM165.1,677.4h2.2v2.2h-2.2zM175.1,683.9h1.4v1.4h-1.4zM161.5,691.5h2.2v2.2h-2.2zM178.9,687.7h1.8v1.8h-1.8zM180.1,690.9h1.8v1.8h-1.8zM169.8,695.6h1.8v1.8h-1.8zM188.7,692.3h1.4v1.4h-1.4zM164.9,700.3h2.2v2.2h-2.2zM168.4,693.3h1.4v1.4h-1.4zM167.5,698.1h1.4v1.4h-1.4zM164.7,695.0h1.4v1.4h-1.4zM165.2,685.5h1.8v1.8h-1.8zM159.8,674.4h1.4v1.4h-1.4zM178.1,692.8h1.4v1.4h-1.4zM159.9,700.6h1.8v1.8h-1.8zM165.5,670.6h1.4v1.4h-1.4zM174.1,678.2h1.4v1.4h-1.4zM158.9,698.9h1.8v1.8h-1.8zM163.7,689.9h1.4v1.4h-1.4zM162.8,698.1h1.4v1.4h-1.4zM175.6,689.8h1.8v1.8h-1.8zM174.7,697.1h2.2v2.2h-2.2zM161.3,680.6h2.2v2.2h-2.2zM178.3,690.2h2.2v2.2h-2.2zM170.8,694.9h2.2v2.2h-2.2zM162.0,695.5h2.2v2.2h-2.2zM173.1,676.6h2.2v2.2h-2.2zM164.2,698.6h2.2v2.2h-2.2zM177.6,672.6h2.2v2.2h-2.2zM167.1,690.9h2.2v2.2h-2.2zM169.7,696.6h1.8v1.8h-1.8zM160.1,692.4h1.8v1.8h-1.8zM171.6,700.0h2.2v2.2h-2.2zM170.9,684.6h1.4v1.4h-1.4zM162.2,696.2h1.8v1.8h-1.8zM164.2,694.4h2.2v2.2h-2.2zM164.6,699.0h1.4v1.4h-1.4zM166.3,696.2h1.8v1.8h-1.8zM174.8,676.7h2.2v2.2h-2.2zM170.0,692.2h1.8v1.8h-1.8zM172.9,685.3h1.8v1.8h-1.8zM163.7,697.3h2.2v2.2h-2.2zM169.5,700.4h1.8v1.8h-1.8zM165.5,697.3h1.4v1.4h-1.4zM174.6,687.1h1.4v1.4h-1.4zM166.0,698.7h1.4v1.4h-1.4zM176.3,698.6h1.8v1.8h-1.8zM166.5,695.7h1.8v1.8h-1.8zM170.2,692.0h1.8v1.8h-1.8zM161.5,694.7h1.8v1.8h-1.8zM164.8,681.5h1.8v1.8h-1.8zM162.9,696.7h2.2v2.2h-2.2zM161.9,695.9h2.2v2.2h-2.2zM177.8,684.4h1.8v1.8h-1.8zM162.1,683.5h2.2v2.2h-2.2zM176.7,693.5h1.8v1.8h-1.8zM176.9,696.0h1.4v1.4h-1.4zM166.8,697.9h2.2v2.2h-2.2zM165.4,697.5h1.8v1.8h-1.8zM160.8,677.7h2.2v2.2h-2.2zM181.0,692.8h1.4v1.4h-1.4zM167.2,680.9h2.2v2.2h-2.2zM159.5,695.5h1.8v1.8h-1.8zM186.5,699.3h1.8v1.8h-1.8zM163.9,679.4h1.8v1.8h-1.8zM170.6,699.5h1.4v1.4h-1.4zM166.2,689.6h2.2v2.2h-2.2zM163.4,687.6h1.4v1.4h-1.4zM166.8,695.1h1.8v1.8h-1.8zM186.5,695.8h2.2v2.2h-2.2zM160.5,671.7h1.8v1.8h-1.8zM167.9,696.5h1.4v1.4h-1.4zM172.5,696.3h1.8v1.8h-1.8zM160.4,692.2h2.2v2.2h-2.2zM174.9,690.4h2.2v2.2h-2.2zM162.1,683.0h1.4v1.4h-1.4zM160.3,694.9h1.8v1.8h-1.8zM162.7,692.8h1.4v1.4h-1.4zM166.1,689.9h2.2v2.2h-2.2zM183.4,685.7h1.8v1.8h-1.8zM171.3,696.3h1.8v1.8h-1.8zM162.4,697.6h2.2v2.2h-2.2zM159.2,695.0h1.4v1.4h-1.4zM170.0,697.1h1.4v1.4h-1.4zM165.9,691.4h1.8v1.8h-1.8zM173.3,674.8h1.3v1.3h-1.3zM204.5,699.9h1.6v1.6h-1.6zM167.4,672.5h1.3v1.3h-1.3zM174.3,700.2h1.3v1.3h-1.3zM180.2,700.3h1.6v1.6h-1.6zM168.7,676.7h1.3v1.3h-1.3zM197.0,675.7h1.3v1.3h-1.3zM166.4,690.2h1.3v1.3h-1.3zM159.5,659.5h1.6v1.6h-1.6zM182.1,674.5h1.3v1.3h-1.3zM197.3,672.5h1.3v1.3h-1.3zM192.3,697.6h1.3v1.3h-1.3zM162.1,656.6h1.6v1.6h-1.6zM179.3,656.8h1.3v1.3h-1.3zM163.5,666.1h1.3v1.3h-1.3zM170.2,683.8h1.6v1.6h-1.6zM164.0,665.7h1.3v1.3h-1.3zM159.2,654.0h1.3v1.3h-1.3zM176.4,680.2h1.3v1.3h-1.3zM176.4,693.0h1.3v1.3h-1.3zM165.5,691.0h1.3v1.3h-1.3zM172.3,659.8h1.3v1.3h-1.3zM176.0,671.6h1.3v1.3h-1.3zM162.8,656.7h1.6v1.6h-1.6zM188.9,659.0h1.3v1.3h-1.3zM175.2,696.0h1.3v1.3h-1.3zM169.9,670.4h1.6v1.6h-1.6zM170.4,656.8h1.6v1.6h-1.6zM165.0,667.4h1.6v1.6h-1.6zM174.2,678.7h1.3v1.3h-1.3zM210.3,679.1h1.3v1.3h-1.3zM170.1,687.5h1.6v1.6h-1.6zM167.6,662.1h1.3v1.3h-1.3zM176.3,668.9h1.6v1.6h-1.6zM167.1,667.7h1.3v1.3h-1.3zM189.6,654.3h1.6v1.6h-1.6zM168.7,678.1h1.6v1.6h-1.6zM169.5,686.2h1.3v1.3h-1.3zM182.0,666.7h1.6v1.6h-1.6zM178.4,677.1h1.3v1.3h-1.3zM165.0,669.6h1.3v1.3h-1.3zM181.6,698.4h1.6v1.6h-1.6zM159.8,698.5h1.6v1.6h-1.6zM165.1,688.7h1.3v1.3h-1.3zM168.6,666.7h1.6v1.6h-1.6zM179.9,668.2h1.3v1.3h-1.3zM178.1,661.8h1.6v1.6h-1.6zM173.3,683.0h1.6v1.6h-1.6zM196.9,671.0h1.6v1.6h-1.6zM165.7,670.7h1.3v1.3h-1.3zM153.8,638.9h1.4v1.4h-1.4zM142.3,633.4h1.4v1.4h-1.4zM124.1,640.5h1.4v1.4h-1.4zM129.9,619.2h1.4v1.4h-1.4zM145.9,623.6h1.4v1.4h-1.4zM149.5,609.4h1.4v1.4h-1.4zM143.1,644.0h1.4v1.4h-1.4zM154.5,620.3h1.4v1.4h-1.4zM144.4,644.7h1.4v1.4h-1.4zM156.8,644.8h1.4v1.4h-1.4zM137.0,625.4h1.4v1.4h-1.4zM105.9,640.5h1.4v1.4h-1.4zM153.9,642.7h1.4v1.4h-1.4zM136.7,646.1h1.4v1.4h-1.4zM138.3,629.1h1.4v1.4h-1.4zM150.9,635.3h1.4v1.4h-1.4zM145.9,645.7h1.4v1.4h-1.4zM150.1,622.2h1.4v1.4h-1.4zM132.6,635.5h1.4v1.4h-1.4zM136.0,639.8h1.4v1.4h-1.4zM151.2,630.8h1.4v1.4h-1.4zM111.7,610.6h1.4v1.4h-1.4zM141.1,642.0h1.4v1.4h-1.4zM137.7,614.6h1.4v1.4h-1.4zM149.1,621.6h1.4v1.4h-1.4zM129.3,642.1h1.4v1.4h-1.4zM156.9,631.2h1.4v1.4h-1.4zM149.7,628.4h1.4v1.4h-1.4zM117.0,620.3h1.4v1.4h-1.4zM156.6,623.8h1.4v1.4h-1.4zM178.8,623.9h1.4v1.4h-1.4zM177.0,645.0h1.4v1.4h-1.4zM174.8,641.2h1.8v1.8h-1.8zM168.7,624.1h1.8v1.8h-1.8zM180.9,624.4h1.8v1.8h-1.8zM167.0,632.3h1.8v1.8h-1.8zM177.3,642.1h1.4v1.4h-1.4zM176.2,643.0h1.8v1.8h-1.8zM171.8,636.3h1.4v1.4h-1.4zM174.1,647.0h1.8v1.8h-1.8zM166.6,626.8h1.8v1.8h-1.8zM178.5,641.8h1.4v1.4h-1.4zM164.0,608.3h1.8v1.8h-1.8zM166.1,640.5h1.4v1.4h-1.4zM166.0,647.1h1.8v1.8h-1.8zM168.2,637.0h1.8v1.8h-1.8zM160.8,626.6h1.8v1.8h-1.8zM169.2,627.8h1.8v1.8h-1.8zM161.9,644.5h1.4v1.4h-1.4zM167.6,644.9h1.8v1.8h-1.8zM171.3,625.1h1.4v1.4h-1.4zM179.5,614.3h1.8v1.8h-1.8zM182.3,618.3h1.8v1.8h-1.8zM190.4,620.9h1.8v1.8h-1.8zM179.8,634.3h1.4v1.4h-1.4zM170.4,633.9h1.8v1.8h-1.8zM163.6,642.1h1.8v1.8h-1.8zM180.8,633.0h1.8v1.8h-1.8zM162.0,635.6h1.4v1.4h-1.4zM197.7,639.8h1.4v1.4h-1.4zM167.5,629.9h1.4v1.4h-1.4zM173.5,621.5h1.8v1.8h-1.8zM165.9,640.7h1.8v1.8h-1.8zM176.6,634.3h1.8v1.8h-1.8zM177.1,630.7h1.4v1.4h-1.4zM165.3,627.3h1.8v1.8h-1.8zM167.4,641.9h1.4v1.4h-1.4zM165.0,610.6h1.4v1.4h-1.4zM177.4,646.9h1.4v1.4h-1.4zM161.9,641.5h1.8v1.8h-1.8zM175.2,642.9h1.4v1.4h-1.4zM164.9,635.5h1.4v1.4h-1.4zM191.4,635.4h2.1v2.1h-2.1zM213.9,628.6h2.1v2.1h-2.1zM176.6,537.6h2.1v2.1h-2.1zM179.6,604.3h2.1v2.1h-2.1zM177.2,583.2h1.4v1.4h-1.4zM185.8,544.4h1.4v1.4h-1.4zM178.0,537.8h1.8v1.8h-1.8zM209.8,626.3h1.4v1.4h-1.4zM187.1,543.9h1.8v1.8h-1.8zM181.5,558.7h1.4v1.4h-1.4zM190.2,634.7h1.4v1.4h-1.4zM199.5,531.5h1.8v1.8h-1.8zM160.0,615.2h2.1v2.1h-2.1zM170.7,547.6h2.1v2.1h-2.1zM196.4,541.1h1.8v1.8h-1.8zM203.9,623.2h1.4v1.4h-1.4zM175.9,549.4h2.1v2.1h-2.1zM185.3,585.4h2.1v2.1h-2.1zM183.7,538.3h1.8v1.8h-1.8zM164.0,536.6h1.4v1.4h-1.4zM204.2,573.3h1.8v1.8h-1.8zM178.3,553.0h1.8v1.8h-1.8zM202.3,557.6h2.1v2.1h-2.1zM183.7,569.2h2.1v2.1h-2.1zM172.6,578.4h1.4v1.4h-1.4zM197.3,629.8h1.8v1.8h-1.8zM184.9,556.7h1.8v1.8h-1.8zM187.9,553.2h1.8v1.8h-1.8zM189.0,595.2h2.1v2.1h-2.1zM198.4,585.8h1.8v1.8h-1.8zM179.5,562.9h1.4v1.4h-1.4zM180.7,561.9h1.8v1.8h-1.8zM181.3,533.0h1.4v1.4h-1.4zM173.7,587.6h1.4v1.4h-1.4zM176.1,577.0h1.4v1.4h-1.4zM168.8,574.1h1.4v1.4h-1.4zM174.0,627.7h1.8v1.8h-1.8zM190.0,637.3h1.8v1.8h-1.8zM187.0,565.8h1.4v1.4h-1.4zM161.5,570.3h1.8v1.8h-1.8zM170.8,634.5h1.4v1.4h-1.4zM184.7,632.4h1.8v1.8h-1.8zM182.8,628.1h1.4v1.4h-1.4zM188.3,582.5h1.4v1.4h-1.4zM184.7,629.9h1.8v1.8h-1.8zM186.0,616.1h1.8v1.8h-1.8zM186.8,631.4h1.4v1.4h-1.4zM183.3,554.9h2.1v2.1h-2.1zM200.4,624.9h2.1v2.1h-2.1zM170.7,542.3h1.8v1.8h-1.8zM185.1,545.1h1.4v1.4h-1.4zM201.0,602.3h1.4v1.4h-1.4zM179.8,562.5h1.4v1.4h-1.4zM173.5,585.7h2.1v2.1h-2.1zM177.0,577.1h2.1v2.1h-2.1zM181.4,599.9h1.4v1.4h-1.4zM187.1,537.6h1.8v1.8h-1.8zM209.5,602.4h1.4v1.4h-1.4zM177.5,546.6h1.8v1.8h-1.8zM178.2,581.5h2.1v2.1h-2.1zM177.5,579.0h2.1v2.1h-2.1zM195.7,533.5h1.4v1.4h-1.4zM181.6,631.3h2.1v2.1h-2.1zM201.9,572.6h1.4v1.4h-1.4zM184.9,559.7h1.4v1.4h-1.4zM190.9,552.2h1.4v1.4h-1.4zM199.1,531.9h1.8v1.8h-1.8zM186.1,599.8h1.8v1.8h-1.8zM168.4,532.0h1.8v1.8h-1.8zM192.0,533.8h1.8v1.8h-1.8zM182.8,620.9h2.1v2.1h-2.1zM172.5,596.7h1.8v1.8h-1.8zM191.7,547.3h1.4v1.4h-1.4zM193.6,574.3h2.1v2.1h-2.1zM171.3,592.7h1.8v1.8h-1.8zM168.6,554.5h2.1v2.1h-2.1zM204.9,621.4h2.1v2.1h-2.1zM189.3,635.6h1.8v1.8h-1.8zM215.7,632.7h1.4v1.4h-1.4zM199.2,594.8h1.4v1.4h-1.4zM202.5,609.5h1.4v1.4h-1.4zM200.2,603.2h1.4v1.4h-1.4zM210.9,539.6h1.4v1.4h-1.4zM205.3,550.5h1.4v1.4h-1.4zM214.9,619.4h1.4v1.4h-1.4zM211.5,607.9h1.4v1.4h-1.4z" fill="#000"/>
<text x="65.3" y="725" font-family='"Liberation Serif", serif' font-size="16">10<tspan dy="-6.5" font-size="12">0</tspan></text>
<text x="107.2" y="725" font-family='"Liberation Serif", serif' font-size="16">10<tspan dy="-6.5" font-size="12">1</tspan></text>
<text x="148.8" y="725" font-family='"Liberation Serif", serif' font-size="16">10<tspan dy="-6.5" font-size="12">2</tspan></text>
<text x="191.2" y="725" font-family='"Liberation Serif", serif' font-size="16">10<tspan dy="-6.5" font-size="12">3</tspan></text>
<text x="228.8" y="725" font-family='"Liberation Serif", serif' font-size="16">10<tspan dy="-6.5" font-size="12">4</tspan></text>
<text transform="translate(64.8,708.8) rotate(-90)" font-family='"Liberation Serif", serif' font-size="16">10<tspan dy="-6.5" font-size="12">0</tspan></text>
<text transform="translate(64.8,662.5) rotate(-90)" font-family='"Liberation Serif", serif' font-size="16">10<tspan dy="-6.5" font-size="12">1</tspan></text>
<text transform="translate(64.8,616.9) rotate(-90)" font-family='"Liberation Serif", serif' font-size="16">10<tspan dy="-6.5" font-size="12">2</tspan></text>
<text transform="translate(64.8,572.4) rotate(-90)" font-family='"Liberation Serif", serif' font-size="16">10<tspan dy="-6.5" font-size="12">3</tspan></text>
<text transform="translate(64.8,526.9) rotate(-90)" font-family='"Liberation Serif", serif' font-size="16">10<tspan dy="-6.5" font-size="12">4</tspan></text>
<rect x="284.2" y="518.6" width="169.1" height="184.7" fill="#fff" stroke="#111" stroke-width="1.1"/>
<line x1="283.1" y1="518.6" x2="283.1" y2="703.3" stroke="#000" stroke-width="3.2"/>
<line x1="284.2" y1="703.3" x2="453.3" y2="703.3" stroke="#000" stroke-width="1.6"/>
<line x1="276.9" y1="703.3" x2="284.2" y2="703.3" stroke="#000" stroke-width="1.7"/>
<line x1="284.2" y1="703.3" x2="284.2" y2="707.5" stroke="#000" stroke-width="1.4"/>
<line x1="279.1" y1="689.4" x2="284.2" y2="689.4" stroke="#000" stroke-width="1.15"/>
<line x1="296.9" y1="703.3" x2="296.9" y2="705.7" stroke="#000" stroke-width="0.9"/>
<line x1="279.1" y1="681.3" x2="284.2" y2="681.3" stroke="#000" stroke-width="1.15"/>
<line x1="304.4" y1="703.3" x2="304.4" y2="705.7" stroke="#000" stroke-width="0.9"/>
<line x1="279.1" y1="675.5" x2="284.2" y2="675.5" stroke="#000" stroke-width="1.15"/>
<line x1="309.7" y1="703.3" x2="309.7" y2="705.7" stroke="#000" stroke-width="0.9"/>
<line x1="279.1" y1="671.0" x2="284.2" y2="671.0" stroke="#000" stroke-width="1.15"/>
<line x1="313.7" y1="703.3" x2="313.7" y2="705.7" stroke="#000" stroke-width="0.9"/>
<line x1="279.1" y1="667.4" x2="284.2" y2="667.4" stroke="#000" stroke-width="1.15"/>
<line x1="317.1" y1="703.3" x2="317.1" y2="705.7" stroke="#000" stroke-width="0.9"/>
<line x1="279.1" y1="664.3" x2="284.2" y2="664.3" stroke="#000" stroke-width="1.15"/>
<line x1="319.9" y1="703.3" x2="319.9" y2="705.7" stroke="#000" stroke-width="0.9"/>
<line x1="279.1" y1="661.6" x2="284.2" y2="661.6" stroke="#000" stroke-width="1.15"/>
<line x1="322.4" y1="703.3" x2="322.4" y2="705.7" stroke="#000" stroke-width="0.9"/>
<line x1="279.1" y1="659.2" x2="284.2" y2="659.2" stroke="#000" stroke-width="1.15"/>
<line x1="324.5" y1="703.3" x2="324.5" y2="705.7" stroke="#000" stroke-width="0.9"/>
<line x1="276.9" y1="657.1" x2="284.2" y2="657.1" stroke="#000" stroke-width="1.7"/>
<line x1="326.5" y1="703.3" x2="326.5" y2="707.5" stroke="#000" stroke-width="1.4"/>
<line x1="279.1" y1="643.2" x2="284.2" y2="643.2" stroke="#000" stroke-width="1.15"/>
<line x1="339.2" y1="703.3" x2="339.2" y2="705.7" stroke="#000" stroke-width="0.9"/>
<line x1="279.1" y1="635.1" x2="284.2" y2="635.1" stroke="#000" stroke-width="1.15"/>
<line x1="346.6" y1="703.3" x2="346.6" y2="705.7" stroke="#000" stroke-width="0.9"/>
<line x1="279.1" y1="629.3" x2="284.2" y2="629.3" stroke="#000" stroke-width="1.15"/>
<line x1="351.9" y1="703.3" x2="351.9" y2="705.7" stroke="#000" stroke-width="0.9"/>
<line x1="279.1" y1="624.9" x2="284.2" y2="624.9" stroke="#000" stroke-width="1.15"/>
<line x1="356.0" y1="703.3" x2="356.0" y2="705.7" stroke="#000" stroke-width="0.9"/>
<line x1="279.1" y1="621.2" x2="284.2" y2="621.2" stroke="#000" stroke-width="1.15"/>
<line x1="359.4" y1="703.3" x2="359.4" y2="705.7" stroke="#000" stroke-width="0.9"/>
<line x1="279.1" y1="618.1" x2="284.2" y2="618.1" stroke="#000" stroke-width="1.15"/>
<line x1="362.2" y1="703.3" x2="362.2" y2="705.7" stroke="#000" stroke-width="0.9"/>
<line x1="279.1" y1="615.4" x2="284.2" y2="615.4" stroke="#000" stroke-width="1.15"/>
<line x1="364.7" y1="703.3" x2="364.7" y2="705.7" stroke="#000" stroke-width="0.9"/>
<line x1="279.1" y1="613.1" x2="284.2" y2="613.1" stroke="#000" stroke-width="1.15"/>
<line x1="366.8" y1="703.3" x2="366.8" y2="705.7" stroke="#000" stroke-width="0.9"/>
<line x1="276.9" y1="611.0" x2="284.2" y2="611.0" stroke="#000" stroke-width="1.7"/>
<line x1="368.8" y1="703.3" x2="368.8" y2="707.5" stroke="#000" stroke-width="1.4"/>
<line x1="279.1" y1="597.0" x2="284.2" y2="597.0" stroke="#000" stroke-width="1.15"/>
<line x1="381.5" y1="703.3" x2="381.5" y2="705.7" stroke="#000" stroke-width="0.9"/>
<line x1="279.1" y1="588.9" x2="284.2" y2="588.9" stroke="#000" stroke-width="1.15"/>
<line x1="388.9" y1="703.3" x2="388.9" y2="705.7" stroke="#000" stroke-width="0.9"/>
<line x1="279.1" y1="583.1" x2="284.2" y2="583.1" stroke="#000" stroke-width="1.15"/>
<line x1="394.2" y1="703.3" x2="394.2" y2="705.7" stroke="#000" stroke-width="0.9"/>
<line x1="279.1" y1="578.7" x2="284.2" y2="578.7" stroke="#000" stroke-width="1.15"/>
<line x1="398.3" y1="703.3" x2="398.3" y2="705.7" stroke="#000" stroke-width="0.9"/>
<line x1="279.1" y1="575.0" x2="284.2" y2="575.0" stroke="#000" stroke-width="1.15"/>
<line x1="401.6" y1="703.3" x2="401.6" y2="705.7" stroke="#000" stroke-width="0.9"/>
<line x1="279.1" y1="571.9" x2="284.2" y2="571.9" stroke="#000" stroke-width="1.15"/>
<line x1="404.5" y1="703.3" x2="404.5" y2="705.7" stroke="#000" stroke-width="0.9"/>
<line x1="279.1" y1="569.2" x2="284.2" y2="569.2" stroke="#000" stroke-width="1.15"/>
<line x1="406.9" y1="703.3" x2="406.9" y2="705.7" stroke="#000" stroke-width="0.9"/>
<line x1="279.1" y1="566.9" x2="284.2" y2="566.9" stroke="#000" stroke-width="1.15"/>
<line x1="409.1" y1="703.3" x2="409.1" y2="705.7" stroke="#000" stroke-width="0.9"/>
<line x1="276.9" y1="564.8" x2="284.2" y2="564.8" stroke="#000" stroke-width="1.7"/>
<line x1="411.0" y1="703.3" x2="411.0" y2="707.5" stroke="#000" stroke-width="1.4"/>
<line x1="279.1" y1="550.9" x2="284.2" y2="550.9" stroke="#000" stroke-width="1.15"/>
<line x1="423.8" y1="703.3" x2="423.8" y2="705.7" stroke="#000" stroke-width="0.9"/>
<line x1="279.1" y1="542.7" x2="284.2" y2="542.7" stroke="#000" stroke-width="1.15"/>
<line x1="431.2" y1="703.3" x2="431.2" y2="705.7" stroke="#000" stroke-width="0.9"/>
<line x1="279.1" y1="537.0" x2="284.2" y2="537.0" stroke="#000" stroke-width="1.15"/>
<line x1="436.5" y1="703.3" x2="436.5" y2="705.7" stroke="#000" stroke-width="0.9"/>
<line x1="279.1" y1="532.5" x2="284.2" y2="532.5" stroke="#000" stroke-width="1.15"/>
<line x1="440.6" y1="703.3" x2="440.6" y2="705.7" stroke="#000" stroke-width="0.9"/>
<line x1="279.1" y1="528.8" x2="284.2" y2="528.8" stroke="#000" stroke-width="1.15"/>
<line x1="443.9" y1="703.3" x2="443.9" y2="705.7" stroke="#000" stroke-width="0.9"/>
<line x1="279.1" y1="525.8" x2="284.2" y2="525.8" stroke="#000" stroke-width="1.15"/>
<line x1="446.8" y1="703.3" x2="446.8" y2="705.7" stroke="#000" stroke-width="0.9"/>
<line x1="279.1" y1="523.1" x2="284.2" y2="523.1" stroke="#000" stroke-width="1.15"/>
<line x1="449.2" y1="703.3" x2="449.2" y2="705.7" stroke="#000" stroke-width="0.9"/>
<line x1="279.1" y1="520.7" x2="284.2" y2="520.7" stroke="#000" stroke-width="1.15"/>
<line x1="451.4" y1="703.3" x2="451.4" y2="705.7" stroke="#000" stroke-width="0.9"/>
<line x1="276.9" y1="518.6" x2="284.2" y2="518.6" stroke="#000" stroke-width="1.4"/>
<line x1="453.3" y1="703.3" x2="453.3" y2="707.5" stroke="#000" stroke-width="1.4"/>
<line x1="368.0" y1="518.6" x2="368.0" y2="703.3" stroke="#000" stroke-width="1.4"/>
<line x1="284.2" y1="651.6" x2="453.3" y2="651.6" stroke="#000" stroke-width="1.3"/>
<path d="M336.4,682.5h1.8v1.8h-1.8zM348.7,682.0h1.8v1.8h-1.8zM336.6,682.2h1.8v1.8h-1.8zM344.0,675.8h1.4v1.4h-1.4zM345.6,679.4h1.8v1.8h-1.8zM343.1,684.5h1.4v1.4h-1.4zM361.8,684.5h1.4v1.4h-1.4zM333.3,680.8h1.8v1.8h-1.8zM349.0,679.7h1.4v1.4h-1.4zM353.0,675.5h1.4v1.4h-1.4zM367.9,688.7h1.8v1.8h-1.8zM354.4,684.6h1.4v1.4h-1.4zM332.0,679.2h1.4v1.4h-1.4zM364.5,680.1h1.4v1.4h-1.4zM344.7,681.4h1.8v1.8h-1.8zM343.6,677.1h1.8v1.8h-1.8zM336.9,679.9h1.4v1.4h-1.4zM369.4,679.0h1.8v1.8h-1.8zM343.3,684.9h1.8v1.8h-1.8zM346.2,679.5h1.4v1.4h-1.4zM344.1,685.2h1.4v1.4h-1.4zM362.6,683.0h1.8v1.8h-1.8zM349.8,681.7h1.8v1.8h-1.8zM353.2,682.3h1.4v1.4h-1.4zM348.1,678.3h1.4v1.4h-1.4zM347.3,680.3h1.8v1.8h-1.8zM337.1,681.6h1.4v1.4h-1.4zM340.4,681.1h1.8v1.8h-1.8zM346.2,686.5h1.8v1.8h-1.8zM349.5,694.9h1.8v1.8h-1.8zM354.8,679.5h1.4v1.4h-1.4zM348.6,678.3h1.4v1.4h-1.4zM364.8,678.3h1.8v1.8h-1.8zM354.1,688.7h1.4v1.4h-1.4zM348.1,683.7h1.8v1.8h-1.8zM357.5,681.4h1.4v1.4h-1.4zM362.9,677.4h1.8v1.8h-1.8zM344.3,679.0h1.8v1.8h-1.8zM340.5,681.8h1.8v1.8h-1.8zM351.7,679.9h1.8v1.8h-1.8zM346.2,680.6h1.8v1.8h-1.8zM357.0,679.6h1.8v1.8h-1.8zM346.4,678.5h1.8v1.8h-1.8zM346.1,681.4h1.4v1.4h-1.4zM346.5,679.3h1.8v1.8h-1.8zM342.8,683.1h1.8v1.8h-1.8zM345.3,681.8h1.8v1.8h-1.8zM348.5,676.8h1.4v1.4h-1.4zM359.5,676.9h1.8v1.8h-1.8zM359.3,680.7h1.8v1.8h-1.8zM346.6,681.2h1.4v1.4h-1.4zM359.8,676.9h1.4v1.4h-1.4zM356.4,678.5h1.8v1.8h-1.8zM351.3,674.7h1.4v1.4h-1.4zM340.9,691.2h1.8v1.8h-1.8zM388.8,660.5h2.2v2.2h-2.2zM389.1,662.5h2.2v2.2h-2.2zM397.6,657.6h2.2v2.2h-2.2zM419.5,657.7h2.2v2.2h-2.2zM413.0,662.8h2.2v2.2h-2.2zM407.3,662.3h1.8v1.8h-1.8zM393.4,659.9h1.8v1.8h-1.8zM401.0,659.8h1.4v1.4h-1.4zM387.0,656.4h1.8v1.8h-1.8zM379.5,654.4h1.4v1.4h-1.4zM417.8,657.0h1.4v1.4h-1.4zM398.0,662.7h1.8v1.8h-1.8zM406.1,660.1h2.2v2.2h-2.2zM445.5,657.7h2.2v2.2h-2.2zM367.7,664.8h1.4v1.4h-1.4zM403.6,659.5h1.4v1.4h-1.4zM404.8,660.6h1.8v1.8h-1.8zM383.2,660.3h1.8v1.8h-1.8zM366.4,660.8h2.2v2.2h-2.2zM346.6,657.4h2.2v2.2h-2.2zM434.8,665.6h2.2v2.2h-2.2zM401.1,657.4h1.4v1.4h-1.4zM357.9,655.0h1.8v1.8h-1.8zM402.7,653.7h1.8v1.8h-1.8zM385.5,661.4h1.8v1.8h-1.8zM447.3,664.4h2.2v2.2h-2.2zM392.1,662.0h2.2v2.2h-2.2zM407.3,661.6h1.8v1.8h-1.8zM371.0,656.8h1.8v1.8h-1.8zM413.0,663.8h1.8v1.8h-1.8zM380.4,664.3h1.4v1.4h-1.4zM411.7,664.1h1.8v1.8h-1.8zM410.4,665.4h2.2v2.2h-2.2zM408.0,665.2h2.2v2.2h-2.2zM374.4,657.3h1.4v1.4h-1.4zM424.8,665.0h1.8v1.8h-1.8zM404.6,665.3h1.4v1.4h-1.4zM383.9,660.8h1.4v1.4h-1.4zM410.4,655.4h2.2v2.2h-2.2zM398.1,664.3h1.4v1.4h-1.4zM434.7,660.7h1.4v1.4h-1.4zM392.6,661.5h1.4v1.4h-1.4zM380.0,655.9h1.4v1.4h-1.4zM416.4,660.4h2.2v2.2h-2.2zM412.4,659.9h1.8v1.8h-1.8zM412.7,659.6h2.2v2.2h-2.2zM420.2,665.5h1.4v1.4h-1.4zM360.7,663.0h1.8v1.8h-1.8zM409.7,663.6h1.8v1.8h-1.8zM398.6,662.7h2.2v2.2h-2.2zM404.9,666.5h1.8v1.8h-1.8zM370.4,663.6h1.4v1.4h-1.4zM387.7,659.0h1.4v1.4h-1.4zM410.0,664.7h1.4v1.4h-1.4zM429.9,661.0h2.2v2.2h-2.2zM403.5,666.5h2.2v2.2h-2.2zM431.3,661.3h2.2v2.2h-2.2zM346.9,666.0h1.8v1.8h-1.8zM380.2,657.8h2.2v2.2h-2.2zM379.3,660.6h1.8v1.8h-1.8zM403.8,662.2h1.8v1.8h-1.8zM376.2,666.3h2.2v2.2h-2.2zM416.1,657.2h1.8v1.8h-1.8zM388.5,661.4h2.2v2.2h-2.2zM394.5,654.8h1.8v1.8h-1.8zM411.4,663.3h1.8v1.8h-1.8zM397.9,658.4h1.8v1.8h-1.8zM377.0,657.9h2.2v2.2h-2.2zM376.8,654.0h1.8v1.8h-1.8zM374.0,658.5h2.2v2.2h-2.2zM358.4,662.4h1.8v1.8h-1.8zM380.5,663.5h1.8v1.8h-1.8zM359.7,654.8h2.2v2.2h-2.2zM388.7,661.7h1.8v1.8h-1.8zM406.7,658.4h1.8v1.8h-1.8zM363.3,665.8h2.2v2.2h-2.2zM431.0,661.4h1.4v1.4h-1.4zM407.3,655.9h1.8v1.8h-1.8zM416.7,661.7h2.2v2.2h-2.2zM366.5,657.2h1.8v1.8h-1.8zM439.0,666.9h2.2v2.2h-2.2zM375.8,662.1h1.4v1.4h-1.4zM412.9,664.7h2.2v2.2h-2.2zM410.4,664.4h1.4v1.4h-1.4zM406.9,662.5h1.4v1.4h-1.4zM401.2,654.0h2.2v2.2h-2.2zM381.7,656.3h1.4v1.4h-1.4zM395.3,656.0h1.4v1.4h-1.4zM408.1,659.8h1.8v1.8h-1.8zM347.0,658.5h1.8v1.8h-1.8zM410.4,658.5h1.8v1.8h-1.8zM389.0,656.4h2.2v2.2h-2.2zM361.2,664.0h1.8v1.8h-1.8zM364.6,661.7h2.2v2.2h-2.2zM396.7,657.8h1.8v1.8h-1.8zM395.3,665.5h1.8v1.8h-1.8zM401.6,658.5h1.8v1.8h-1.8zM407.3,664.7h1.8v1.8h-1.8zM389.7,661.1h1.4v1.4h-1.4zM395.7,653.8h1.4v1.4h-1.4zM419.7,659.4h2.2v2.2h-2.2zM392.4,654.8h2.2v2.2h-2.2zM409.1,658.4h1.8v1.8h-1.8zM393.6,655.8h1.4v1.4h-1.4zM406.1,658.4h2.2v2.2h-2.2zM440.0,660.4h1.8v1.8h-1.8zM369.6,664.0h1.4v1.4h-1.4zM428.7,660.8h1.4v1.4h-1.4zM377.1,656.7h2.2v2.2h-2.2zM374.2,659.9h2.2v2.2h-2.2zM390.2,655.7h2.2v2.2h-2.2zM413.8,659.2h1.4v1.4h-1.4zM370.2,666.9h1.8v1.8h-1.8zM382.9,654.2h2.2v2.2h-2.2zM414.2,659.4h2.2v2.2h-2.2zM394.7,660.1h1.8v1.8h-1.8zM398.7,665.6h1.4v1.4h-1.4zM392.6,662.5h1.8v1.8h-1.8zM404.3,666.9h1.4v1.4h-1.4zM391.5,660.3h1.8v1.8h-1.8zM414.0,660.4h2.2v2.2h-2.2zM377.4,662.1h1.8v1.8h-1.8zM357.2,662.7h1.8v1.8h-1.8zM406.8,653.7h1.4v1.4h-1.4zM402.6,654.0h1.4v1.4h-1.4zM435.1,660.5h1.4v1.4h-1.4zM439.7,660.7h1.8v1.8h-1.8zM412.5,658.7h2.2v2.2h-2.2zM394.8,655.1h1.8v1.8h-1.8zM366.0,663.5h1.8v1.8h-1.8zM382.6,663.5h1.8v1.8h-1.8zM362.9,656.0h1.4v1.4h-1.4zM412.4,666.0h1.8v1.8h-1.8zM390.9,659.9h1.8v1.8h-1.8zM404.6,658.0h1.4v1.4h-1.4zM372.0,660.5h2.2v2.2h-2.2zM385.9,665.7h1.8v1.8h-1.8zM376.9,655.0h1.4v1.4h-1.4zM377.3,665.9h1.4v1.4h-1.4zM426.5,662.9h1.4v1.4h-1.4zM383.6,665.4h1.4v1.4h-1.4zM404.9,655.5h1.8v1.8h-1.8zM395.0,666.9h2.2v2.2h-2.2zM387.7,653.7h1.4v1.4h-1.4zM411.6,665.8h1.8v1.8h-1.8zM380.8,666.8h1.8v1.8h-1.8zM423.5,662.3h1.8v1.8h-1.8zM432.5,661.7h1.4v1.4h-1.4zM371.7,662.4h1.8v1.8h-1.8zM437.6,660.2h2.2v2.2h-2.2zM366.0,665.7h2.2v2.2h-2.2zM402.6,666.8h2.2v2.2h-2.2zM363.0,655.0h2.2v2.2h-2.2zM409.2,659.3h1.4v1.4h-1.4zM418.7,654.7h2.2v2.2h-2.2zM385.4,661.8h1.8v1.8h-1.8zM404.2,659.6h2.2v2.2h-2.2zM387.9,662.2h1.4v1.4h-1.4zM399.9,655.4h2.2v2.2h-2.2zM378.3,655.1h2.2v2.2h-2.2zM371.2,662.8h2.2v2.2h-2.2zM383.8,655.5h1.4v1.4h-1.4zM423.1,659.7h1.8v1.8h-1.8zM396.4,665.8h1.8v1.8h-1.8zM384.9,661.6h2.2v2.2h-2.2zM382.3,666.0h1.8v1.8h-1.8zM391.0,664.1h1.4v1.4h-1.4zM417.8,661.4h2.2v2.2h-2.2zM380.6,665.0h1.8v1.8h-1.8zM397.0,660.7h2.2v2.2h-2.2zM419.0,665.3h2.2v2.2h-2.2zM426.3,659.4h2.2v2.2h-2.2zM402.5,654.9h1.4v1.4h-1.4zM371.3,660.8h2.2v2.2h-2.2zM369.5,654.0h1.4v1.4h-1.4zM432.8,655.1h1.8v1.8h-1.8zM398.9,660.9h1.4v1.4h-1.4zM351.0,664.8h2.2v2.2h-2.2zM415.6,664.4h2.2v2.2h-2.2zM405.3,664.1h1.8v1.8h-1.8zM413.4,653.5h1.8v1.8h-1.8zM400.2,654.6h1.4v1.4h-1.4zM396.6,656.8h1.8v1.8h-1.8zM394.1,654.8h2.2v2.2h-2.2zM432.0,661.2h1.8v1.8h-1.8zM367.0,665.3h1.8v1.8h-1.8zM376.6,664.5h1.8v1.8h-1.8zM384.7,658.1h1.4v1.4h-1.4zM409.9,654.6h1.8v1.8h-1.8zM399.4,666.1h1.8v1.8h-1.8zM416.4,659.7h1.4v1.4h-1.4zM413.3,655.3h1.8v1.8h-1.8zM412.2,666.1h2.2v2.2h-2.2zM354.7,664.3h2.2v2.2h-2.2zM386.9,663.7h1.8v1.8h-1.8zM393.5,665.4h1.4v1.4h-1.4zM387.9,661.5h1.4v1.4h-1.4zM383.1,664.6h1.8v1.8h-1.8zM363.4,660.8h2.2v2.2h-2.2zM397.1,655.8h1.8v1.8h-1.8zM398.5,658.6h1.8v1.8h-1.8zM399.5,665.9h1.4v1.4h-1.4zM336.4,658.9h1.4v1.4h-1.4zM349.7,653.2h1.8v1.8h-1.8zM350.8,656.9h1.4v1.4h-1.4zM389.6,654.6h1.8v1.8h-1.8zM415.8,656.4h1.4v1.4h-1.4zM408.0,666.0h2.2v2.2h-2.2zM401.3,666.8h2.2v2.2h-2.2zM411.1,656.3h1.4v1.4h-1.4zM363.8,653.8h2.2v2.2h-2.2zM376.9,653.4h1.8v1.8h-1.8zM368.9,660.5h1.4v1.4h-1.4zM387.9,659.1h1.4v1.4h-1.4zM407.0,654.4h1.4v1.4h-1.4zM421.9,664.8h1.4v1.4h-1.4zM383.8,655.0h1.4v1.4h-1.4zM393.3,654.5h2.2v2.2h-2.2zM377.4,655.2h1.8v1.8h-1.8zM398.6,653.5h1.4v1.4h-1.4zM347.8,653.8h2.2v2.2h-2.2zM398.1,653.3h1.8v1.8h-1.8zM416.2,655.4h1.8v1.8h-1.8zM366.4,657.7h1.4v1.4h-1.4zM365.5,653.7h2.2v2.2h-2.2zM434.3,659.7h2.2v2.2h-2.2zM424.1,666.5h2.2v2.2h-2.2zM387.1,660.0h1.8v1.8h-1.8zM422.1,661.1h2.2v2.2h-2.2zM382.4,676.1h1.4v1.4h-1.4zM347.8,665.7h1.8v1.8h-1.8zM423.9,694.5h1.8v1.8h-1.8zM388.6,686.0h1.4v1.4h-1.4zM405.9,689.9h2.2v2.2h-2.2zM421.1,676.8h2.2v2.2h-2.2zM379.8,678.0h2.2v2.2h-2.2zM383.4,664.4h1.4v1.4h-1.4zM409.7,686.4h1.8v1.8h-1.8zM418.5,669.8h1.8v1.8h-1.8zM372.9,658.9h1.4v1.4h-1.4zM446.7,677.9h1.4v1.4h-1.4zM406.7,671.2h2.2v2.2h-2.2zM393.0,688.2h2.2v2.2h-2.2zM390.1,682.6h1.8v1.8h-1.8zM386.7,676.7h2.2v2.2h-2.2zM427.3,675.9h2.2v2.2h-2.2zM383.1,674.9h2.2v2.2h-2.2zM382.1,674.3h1.4v1.4h-1.4zM344.3,671.9h1.4v1.4h-1.4zM404.1,673.1h1.8v1.8h-1.8zM343.5,682.8h2.2v2.2h-2.2zM355.6,680.2h1.8v1.8h-1.8zM415.1,677.5h1.4v1.4h-1.4zM404.7,674.3h2.2v2.2h-2.2zM420.5,671.0h1.8v1.8h-1.8zM361.8,671.2h1.4v1.4h-1.4zM389.8,679.0h1.4v1.4h-1.4zM401.5,684.4h1.8v1.8h-1.8zM438.4,660.2h1.4v1.4h-1.4zM397.3,664.3h2.2v2.2h-2.2zM431.5,680.5h1.4v1.4h-1.4zM359.2,681.0h1.8v1.8h-1.8zM375.7,682.4h2.2v2.2h-2.2zM407.7,667.3h2.2v2.2h-2.2zM362.8,680.4h1.4v1.4h-1.4zM391.9,684.7h1.4v1.4h-1.4zM376.6,662.4h1.8v1.8h-1.8zM411.5,675.5h2.2v2.2h-2.2zM366.7,680.8h1.4v1.4h-1.4zM446.8,686.5h1.4v1.4h-1.4zM361.4,674.4h1.8v1.8h-1.8zM395.3,677.9h2.2v2.2h-2.2zM441.4,671.4h1.8v1.8h-1.8zM395.8,664.5h1.4v1.4h-1.4zM390.5,672.1h1.4v1.4h-1.4zM408.4,685.0h2.2v2.2h-2.2zM447.5,664.2h1.8v1.8h-1.8zM412.9,688.7h1.8v1.8h-1.8zM425.4,675.1h1.4v1.4h-1.4zM405.2,675.0h1.8v1.8h-1.8zM369.0,685.9h1.8v1.8h-1.8zM403.5,693.8h2.2v2.2h-2.2zM360.4,682.1h2.2v2.2h-2.2zM388.1,680.7h1.8v1.8h-1.8zM423.1,686.9h1.8v1.8h-1.8zM409.0,665.5h1.4v1.4h-1.4zM429.8,680.8h1.4v1.4h-1.4zM404.2,662.7h2.2v2.2h-2.2zM377.1,678.9h1.4v1.4h-1.4zM379.8,661.3h1.4v1.4h-1.4zM391.5,684.6h2.2v2.2h-2.2zM405.4,680.2h1.8v1.8h-1.8zM411.1,694.3h1.8v1.8h-1.8zM410.5,686.2h2.2v2.2h-2.2zM355.3,665.4h1.8v1.8h-1.8zM377.2,691.6h1.8v1.8h-1.8zM394.0,679.7h1.4v1.4h-1.4zM426.7,664.1h2.2v2.2h-2.2zM406.6,688.0h1.4v1.4h-1.4zM378.5,671.1h1.4v1.4h-1.4zM360.6,669.3h2.2v2.2h-2.2zM407.5,663.8h1.8v1.8h-1.8zM355.7,679.2h1.8v1.8h-1.8zM363.2,677.3h2.2v2.2h-2.2zM407.9,663.2h1.8v1.8h-1.8zM382.4,674.3h2.2v2.2h-2.2zM361.6,681.1h1.8v1.8h-1.8zM372.5,676.1h1.8v1.8h-1.8zM375.3,677.1h2.2v2.2h-2.2zM370.5,668.3h2.2v2.2h-2.2zM449.1,677.0h2.2v2.2h-2.2zM379.4,668.6h1.8v1.8h-1.8zM358.1,672.8h1.8v1.8h-1.8zM370.5,664.3h1.8v1.8h-1.8zM398.7,671.3h2.2v2.2h-2.2zM379.8,670.7h1.4v1.4h-1.4zM370.1,675.1h1.4v1.4h-1.4zM423.8,667.9h1.8v1.8h-1.8zM391.7,675.4h1.4v1.4h-1.4zM413.6,660.9h1.8v1.8h-1.8zM383.1,667.0h2.2v2.2h-2.2zM429.5,684.8h1.8v1.8h-1.8zM345.5,677.8h1.8v1.8h-1.8zM382.1,671.9h1.4v1.4h-1.4zM357.8,667.5h1.8v1.8h-1.8zM381.9,673.8h1.4v1.4h-1.4zM368.5,679.8h2.2v2.2h-2.2zM412.5,682.5h1.8v1.8h-1.8zM374.1,672.1h1.4v1.4h-1.4zM427.7,669.7h1.8v1.8h-1.8zM378.1,692.9h2.2v2.2h-2.2zM391.1,667.4h1.8v1.8h-1.8zM358.6,669.2h2.2v2.2h-2.2zM422.7,684.8h2.2v2.2h-2.2zM377.1,679.6h1.4v1.4h-1.4zM425.9,669.4h1.4v1.4h-1.4zM404.4,675.7h2.2v2.2h-2.2zM408.2,672.3h2.2v2.2h-2.2zM389.0,672.3h1.8v1.8h-1.8zM423.3,665.0h2.2v2.2h-2.2zM412.4,665.1h2.2v2.2h-2.2zM403.8,668.7h1.4v1.4h-1.4zM373.6,675.0h2.2v2.2h-2.2zM400.1,674.0h1.4v1.4h-1.4zM432.8,671.6h1.8v1.8h-1.8zM390.1,675.9h1.8v1.8h-1.8zM419.0,675.4h2.2v2.2h-2.2zM394.4,680.1h1.4v1.4h-1.4zM353.1,673.2h2.2v2.2h-2.2zM361.5,687.0h2.2v2.2h-2.2zM412.8,671.3h1.8v1.8h-1.8zM370.9,667.3h2.2v2.2h-2.2zM369.7,670.0h1.4v1.4h-1.4zM383.5,679.6h1.8v1.8h-1.8zM378.4,674.6h2.2v2.2h-2.2zM393.8,676.8h1.4v1.4h-1.4zM398.3,665.1h1.4v1.4h-1.4zM394.3,683.3h1.4v1.4h-1.4zM363.5,682.1h2.2v2.2h-2.2zM379.8,672.2h1.4v1.4h-1.4zM402.3,670.6h2.2v2.2h-2.2zM373.6,670.3h2.2v2.2h-2.2zM385.6,675.2h2.2v2.2h-2.2zM368.5,680.2h1.4v1.4h-1.4zM413.4,672.9h1.4v1.4h-1.4zM350.4,675.6h2.2v2.2h-2.2zM387.2,666.0h1.8v1.8h-1.8zM375.7,674.1h1.4v1.4h-1.4zM424.0,676.2h2.2v2.2h-2.2zM403.4,669.3h1.8v1.8h-1.8zM391.9,658.9h1.8v1.8h-1.8zM407.5,672.0h2.2v2.2h-2.2zM384.1,681.2h1.4v1.4h-1.4zM367.5,682.2h2.2v2.2h-2.2zM384.5,680.5h2.2v2.2h-2.2zM383.6,674.9h2.2v2.2h-2.2zM413.0,679.0h2.2v2.2h-2.2zM396.8,672.7h1.8v1.8h-1.8zM394.6,674.9h2.2v2.2h-2.2zM378.7,687.5h1.8v1.8h-1.8zM353.4,668.5h1.4v1.4h-1.4zM381.1,676.2h1.8v1.8h-1.8zM345.6,678.0h2.2v2.2h-2.2zM382.6,683.0h2.2v2.2h-2.2zM409.6,685.1h1.4v1.4h-1.4zM396.8,683.0h2.2v2.2h-2.2zM413.1,677.8h2.2v2.2h-2.2zM344.9,682.3h1.4v1.4h-1.4zM393.0,683.1h1.8v1.8h-1.8zM427.0,664.5h1.4v1.4h-1.4zM398.3,672.2h1.4v1.4h-1.4zM358.5,670.9h2.2v2.2h-2.2zM392.5,668.6h1.4v1.4h-1.4zM367.4,668.2h1.8v1.8h-1.8zM397.8,681.4h1.4v1.4h-1.4zM370.1,680.4h1.4v1.4h-1.4zM439.0,679.2h1.4v1.4h-1.4zM431.7,694.2h1.8v1.8h-1.8zM394.2,682.6h1.8v1.8h-1.8zM353.3,675.2h1.4v1.4h-1.4zM351.3,673.9h1.4v1.4h-1.4zM436.9,686.7h2.2v2.2h-2.2zM400.8,685.1h2.2v2.2h-2.2zM385.4,682.1h1.4v1.4h-1.4zM371.1,682.4h1.4v1.4h-1.4zM348.7,675.8h1.8v1.8h-1.8zM431.0,667.9h1.4v1.4h-1.4zM411.3,682.5h2.2v2.2h-2.2zM363.1,678.3h2.2v2.2h-2.2zM430.0,675.3h1.8v1.8h-1.8zM390.5,679.0h1.4v1.4h-1.4zM337.8,669.7h1.8v1.8h-1.8zM373.6,668.3h1.8v1.8h-1.8zM390.4,672.0h1.4v1.4h-1.4zM411.5,663.9h1.8v1.8h-1.8zM382.8,658.7h1.8v1.8h-1.8zM361.5,665.2h2.2v2.2h-2.2zM383.4,671.8h1.4v1.4h-1.4zM417.4,672.3h1.4v1.4h-1.4zM412.9,683.9h1.8v1.8h-1.8zM407.4,657.0h2.2v2.2h-2.2zM353.0,667.8h2.2v2.2h-2.2zM376.9,680.7h1.4v1.4h-1.4zM390.5,675.7h1.4v1.4h-1.4zM382.6,674.2h2.2v2.2h-2.2zM409.3,673.9h1.8v1.8h-1.8zM393.2,666.8h1.8v1.8h-1.8zM391.5,678.5h2.2v2.2h-2.2zM396.7,663.7h1.4v1.4h-1.4zM391.2,679.0h1.8v1.8h-1.8zM368.1,672.7h1.4v1.4h-1.4zM398.8,666.2h1.8v1.8h-1.8zM387.7,681.4h1.4v1.4h-1.4zM375.8,675.3h1.4v1.4h-1.4zM391.6,675.8h1.4v1.4h-1.4zM377.5,665.6h1.4v1.4h-1.4zM439.1,672.0h1.8v1.8h-1.8zM403.3,678.9h2.2v2.2h-2.2zM395.7,664.0h2.2v2.2h-2.2zM421.3,664.7h2.2v2.2h-2.2zM393.2,688.5h1.4v1.4h-1.4zM433.0,672.5h1.4v1.4h-1.4zM396.8,673.0h1.4v1.4h-1.4zM395.0,679.7h1.4v1.4h-1.4zM407.5,678.2h2.2v2.2h-2.2zM408.7,687.1h1.4v1.4h-1.4zM389.5,671.4h1.8v1.8h-1.8zM392.1,677.0h1.4v1.4h-1.4zM402.0,671.3h1.8v1.8h-1.8zM379.6,678.8h1.4v1.4h-1.4zM395.9,670.9h2.2v2.2h-2.2zM387.6,670.4h1.8v1.8h-1.8zM399.9,671.2h1.8v1.8h-1.8zM421.8,681.4h2.2v2.2h-2.2zM425.8,679.4h2.2v2.2h-2.2zM380.8,664.1h1.4v1.4h-1.4zM377.2,687.4h2.2v2.2h-2.2zM367.7,675.3h2.2v2.2h-2.2zM386.7,668.2h1.4v1.4h-1.4zM409.5,678.9h1.8v1.8h-1.8zM375.2,677.0h1.4v1.4h-1.4zM382.5,661.2h2.2v2.2h-2.2zM370.0,665.3h1.4v1.4h-1.4zM405.3,676.2h1.4v1.4h-1.4zM357.3,673.5h1.8v1.8h-1.8zM399.7,670.8h2.2v2.2h-2.2zM421.6,660.9h2.2v2.2h-2.2zM392.6,669.3h1.8v1.8h-1.8zM386.5,669.6h1.8v1.8h-1.8zM432.6,660.6h2.2v2.2h-2.2zM381.1,673.7h2.2v2.2h-2.2zM413.4,677.3h2.2v2.2h-2.2zM401.5,673.2h2.2v2.2h-2.2zM425.8,667.3h2.2v2.2h-2.2zM385.6,680.8h2.2v2.2h-2.2zM413.1,666.5h1.8v1.8h-1.8zM356.9,686.4h1.4v1.4h-1.4zM428.7,675.0h1.8v1.8h-1.8zM380.2,672.4h1.8v1.8h-1.8zM405.1,666.5h1.4v1.4h-1.4zM383.3,678.7h2.2v2.2h-2.2zM411.7,662.9h2.2v2.2h-2.2zM395.7,664.5h1.4v1.4h-1.4zM391.8,675.0h1.4v1.4h-1.4zM400.5,661.2h1.8v1.8h-1.8zM441.3,660.9h1.4v1.4h-1.4zM385.2,679.9h2.2v2.2h-2.2zM392.1,678.9h1.8v1.8h-1.8zM388.8,681.3h1.4v1.4h-1.4zM389.1,667.1h2.2v2.2h-2.2zM371.5,677.0h1.8v1.8h-1.8zM406.1,670.3h1.8v1.8h-1.8zM415.6,684.8h1.4v1.4h-1.4zM377.2,671.7h1.4v1.4h-1.4zM403.7,684.8h1.8v1.8h-1.8zM414.2,659.2h1.4v1.4h-1.4zM392.0,681.1h1.8v1.8h-1.8zM376.0,664.4h1.8v1.8h-1.8zM357.9,674.6h1.8v1.8h-1.8zM374.3,686.4h2.2v2.2h-2.2zM390.6,673.3h1.8v1.8h-1.8zM402.0,652.7h1.8v1.8h-1.8zM371.2,681.7h1.4v1.4h-1.4zM387.9,674.3h1.8v1.8h-1.8zM378.2,673.1h2.2v2.2h-2.2zM418.0,695.4h1.8v1.8h-1.8zM382.3,669.9h1.4v1.4h-1.4zM359.8,672.2h1.4v1.4h-1.4zM388.1,673.5h1.8v1.8h-1.8zM443.4,684.7h1.4v1.4h-1.4zM376.8,674.4h2.2v2.2h-2.2zM389.9,672.4h1.4v1.4h-1.4zM380.7,672.1h1.4v1.4h-1.4zM374.3,676.1h2.2v2.2h-2.2zM372.2,684.7h1.8v1.8h-1.8zM380.8,670.1h1.4v1.4h-1.4zM365.3,682.6h2.2v2.2h-2.2zM424.5,663.3h1.8v1.8h-1.8zM371.5,684.3h1.4v1.4h-1.4zM397.4,683.6h1.4v1.4h-1.4zM395.4,690.6h1.8v1.8h-1.8zM343.6,681.5h2.2v2.2h-2.2zM395.4,660.0h1.8v1.8h-1.8zM389.5,656.5h1.4v1.4h-1.4zM412.6,671.2h1.4v1.4h-1.4zM405.7,685.4h2.2v2.2h-2.2zM393.0,662.1h1.4v1.4h-1.4zM407.5,686.3h2.2v2.2h-2.2zM400.2,670.0h2.2v2.2h-2.2zM404.2,678.4h1.8v1.8h-1.8zM394.1,679.2h1.8v1.8h-1.8zM433.9,688.0h2.2v2.2h-2.2zM388.3,686.0h2.2v2.2h-2.2zM407.5,672.8h1.8v1.8h-1.8zM438.8,680.0h1.4v1.4h-1.4zM415.7,673.4h2.2v2.2h-2.2zM420.9,679.0h2.2v2.2h-2.2zM377.1,669.3h2.2v2.2h-2.2zM377.5,673.6h1.8v1.8h-1.8zM348.8,670.4h2.2v2.2h-2.2zM421.5,682.1h1.8v1.8h-1.8zM389.1,667.4h1.8v1.8h-1.8zM433.3,681.8h2.2v2.2h-2.2zM369.8,670.7h1.8v1.8h-1.8zM389.8,676.8h2.2v2.2h-2.2zM367.8,672.1h1.8v1.8h-1.8zM427.9,683.9h2.2v2.2h-2.2zM412.2,688.9h1.4v1.4h-1.4zM376.3,667.7h2.2v2.2h-2.2zM396.1,683.5h1.8v1.8h-1.8zM399.1,672.3h1.4v1.4h-1.4zM367.7,662.7h1.8v1.8h-1.8zM401.0,677.0h1.8v1.8h-1.8zM396.9,686.8h1.8v1.8h-1.8zM432.1,676.7h1.4v1.4h-1.4zM404.8,672.6h1.4v1.4h-1.4zM408.0,682.3h2.2v2.2h-2.2zM418.4,673.5h1.4v1.4h-1.4zM395.6,675.3h1.4v1.4h-1.4zM394.3,686.5h1.8v1.8h-1.8zM371.4,681.6h1.8v1.8h-1.8zM372.0,675.8h1.4v1.4h-1.4zM384.1,668.0h1.4v1.4h-1.4zM394.7,679.2h1.4v1.4h-1.4zM400.0,673.1h1.8v1.8h-1.8zM394.3,678.6h1.4v1.4h-1.4zM377.5,677.4h1.4v1.4h-1.4zM414.3,673.3h1.4v1.4h-1.4zM371.2,675.4h1.8v1.8h-1.8zM350.2,675.1h2.2v2.2h-2.2zM384.5,675.8h1.4v1.4h-1.4zM416.7,668.5h2.2v2.2h-2.2zM391.5,668.9h1.4v1.4h-1.4zM378.8,686.4h1.4v1.4h-1.4zM369.3,689.6h2.2v2.2h-2.2zM359.3,680.4h2.2v2.2h-2.2zM365.3,666.5h1.4v1.4h-1.4zM418.5,684.8h1.4v1.4h-1.4zM403.8,665.9h1.8v1.8h-1.8zM439.9,683.8h2.2v2.2h-2.2zM386.9,678.1h2.2v2.2h-2.2zM406.6,682.7h1.4v1.4h-1.4zM428.5,668.2h1.8v1.8h-1.8zM412.8,669.0h1.8v1.8h-1.8zM387.7,679.8h1.4v1.4h-1.4zM392.7,669.5h1.8v1.8h-1.8zM390.6,687.5h2.2v2.2h-2.2zM378.5,681.8h2.2v2.2h-2.2zM396.5,671.8h1.4v1.4h-1.4zM389.7,664.6h2.2v2.2h-2.2zM377.8,660.9h1.8v1.8h-1.8zM369.0,659.7h1.4v1.4h-1.4zM401.3,671.6h1.8v1.8h-1.8zM387.9,666.3h1.4v1.4h-1.4zM347.2,679.1h2.2v2.2h-2.2zM400.2,684.9h2.2v2.2h-2.2zM412.7,677.3h1.4v1.4h-1.4zM412.5,680.2h1.4v1.4h-1.4zM390.6,675.6h1.8v1.8h-1.8zM434.9,660.1h2.2v2.2h-2.2zM382.3,686.1h2.2v2.2h-2.2zM372.7,679.5h1.4v1.4h-1.4zM391.4,675.0h2.2v2.2h-2.2zM428.2,676.8h1.8v1.8h-1.8zM422.3,666.2h1.8v1.8h-1.8zM350.4,667.8h1.4v1.4h-1.4zM402.0,676.3h1.8v1.8h-1.8zM331.4,678.9h1.4v1.4h-1.4zM420.2,673.8h2.2v2.2h-2.2zM422.2,684.0h1.4v1.4h-1.4zM377.1,676.4h2.2v2.2h-2.2zM379.9,681.6h1.4v1.4h-1.4zM423.3,669.1h1.8v1.8h-1.8zM406.2,680.5h1.8v1.8h-1.8zM399.8,673.1h1.4v1.4h-1.4zM359.9,671.6h1.4v1.4h-1.4zM384.9,675.6h1.4v1.4h-1.4zM352.6,675.6h1.8v1.8h-1.8zM400.5,682.3h1.4v1.4h-1.4zM394.0,676.0h1.4v1.4h-1.4zM387.2,690.4h1.4v1.4h-1.4zM396.6,669.9h2.2v2.2h-2.2zM446.1,687.8h1.4v1.4h-1.4zM436.6,681.8h2.2v2.2h-2.2zM388.7,678.7h1.8v1.8h-1.8zM397.1,677.9h1.4v1.4h-1.4zM399.7,681.1h2.2v2.2h-2.2zM443.5,678.6h2.2v2.2h-2.2zM419.1,690.3h1.8v1.8h-1.8zM412.3,676.8h1.8v1.8h-1.8zM397.8,683.8h1.8v1.8h-1.8zM370.4,668.8h1.8v1.8h-1.8zM421.7,674.3h2.2v2.2h-2.2zM373.7,682.9h1.4v1.4h-1.4zM404.2,677.7h1.4v1.4h-1.4zM402.5,681.1h1.4v1.4h-1.4zM366.2,663.9h1.8v1.8h-1.8zM394.1,678.4h2.2v2.2h-2.2zM393.3,680.5h2.2v2.2h-2.2zM363.7,684.5h2.2v2.2h-2.2zM383.3,673.1h2.2v2.2h-2.2zM393.9,678.6h1.8v1.8h-1.8zM393.4,687.1h1.4v1.4h-1.4zM422.3,679.6h2.2v2.2h-2.2zM378.0,688.0h1.4v1.4h-1.4zM435.7,675.0h1.8v1.8h-1.8zM418.2,659.3h1.8v1.8h-1.8zM391.8,673.8h1.8v1.8h-1.8zM388.2,663.2h1.8v1.8h-1.8zM430.9,678.0h1.8v1.8h-1.8zM410.9,659.8h2.2v2.2h-2.2zM389.7,687.3h1.8v1.8h-1.8zM414.2,675.7h1.8v1.8h-1.8zM400.4,665.1h1.4v1.4h-1.4zM384.4,679.0h1.4v1.4h-1.4zM389.0,669.1h2.2v2.2h-2.2zM371.3,673.5h1.4v1.4h-1.4zM383.0,682.5h2.2v2.2h-2.2zM385.2,687.1h1.4v1.4h-1.4zM367.5,673.5h1.4v1.4h-1.4zM421.3,684.2h1.4v1.4h-1.4zM397.5,675.3h2.2v2.2h-2.2zM393.7,681.9h1.4v1.4h-1.4zM348.5,681.8h2.2v2.2h-2.2zM384.6,663.0h2.2v2.2h-2.2zM402.5,674.4h2.2v2.2h-2.2zM378.3,670.9h1.8v1.8h-1.8zM399.2,683.7h1.8v1.8h-1.8zM420.7,669.4h2.2v2.2h-2.2zM360.2,663.3h1.4v1.4h-1.4zM386.8,672.4h1.8v1.8h-1.8zM342.5,689.6h2.2v2.2h-2.2zM375.3,665.2h1.8v1.8h-1.8zM381.1,685.3h2.2v2.2h-2.2zM374.3,675.6h1.8v1.8h-1.8zM385.9,682.6h1.4v1.4h-1.4zM394.0,668.6h2.2v2.2h-2.2zM404.7,671.6h2.2v2.2h-2.2zM414.7,678.2h1.4v1.4h-1.4zM419.3,669.3h2.2v2.2h-2.2zM378.0,672.3h1.8v1.8h-1.8zM372.1,683.7h2.2v2.2h-2.2zM376.4,677.1h1.4v1.4h-1.4zM384.8,673.6h1.8v1.8h-1.8zM380.2,667.9h1.8v1.8h-1.8zM395.4,680.0h2.2v2.2h-2.2zM381.2,663.8h1.4v1.4h-1.4zM366.9,662.9h2.2v2.2h-2.2zM387.9,679.7h1.8v1.8h-1.8zM378.7,674.9h2.2v2.2h-2.2zM361.8,677.7h2.2v2.2h-2.2zM364.1,668.1h1.4v1.4h-1.4zM390.7,669.6h1.4v1.4h-1.4zM393.9,687.6h2.2v2.2h-2.2zM417.0,673.1h1.4v1.4h-1.4zM408.9,675.3h1.4v1.4h-1.4zM392.1,680.8h1.8v1.8h-1.8zM401.0,683.1h1.4v1.4h-1.4zM369.8,669.5h1.4v1.4h-1.4zM381.5,681.5h2.2v2.2h-2.2zM374.8,668.5h2.2v2.2h-2.2zM384.2,684.5h1.8v1.8h-1.8zM379.2,673.3h1.4v1.4h-1.4zM386.3,659.7h1.4v1.4h-1.4zM395.4,668.9h1.4v1.4h-1.4zM436.1,665.5h1.8v1.8h-1.8zM380.2,694.3h2.2v2.2h-2.2zM423.7,668.4h1.4v1.4h-1.4zM373.6,674.7h2.2v2.2h-2.2zM436.1,666.5h1.4v1.4h-1.4zM374.8,670.3h1.8v1.8h-1.8zM429.5,685.4h1.4v1.4h-1.4zM393.4,680.6h1.4v1.4h-1.4zM389.1,675.3h1.4v1.4h-1.4zM388.6,679.3h1.4v1.4h-1.4zM408.7,681.9h1.4v1.4h-1.4zM366.8,689.2h1.8v1.8h-1.8zM429.4,678.7h1.4v1.4h-1.4zM356.7,670.5h1.8v1.8h-1.8zM395.9,666.8h2.2v2.2h-2.2zM431.5,681.5h2.2v2.2h-2.2zM392.9,679.8h2.2v2.2h-2.2zM386.7,690.5h1.4v1.4h-1.4zM396.8,680.9h1.4v1.4h-1.4zM383.5,690.7h1.8v1.8h-1.8zM441.8,666.4h2.2v2.2h-2.2zM397.2,678.7h2.2v2.2h-2.2zM398.8,679.7h1.4v1.4h-1.4zM412.1,680.6h1.8v1.8h-1.8zM424.6,660.8h2.2v2.2h-2.2zM409.7,670.9h1.4v1.4h-1.4zM409.7,680.3h2.2v2.2h-2.2zM381.5,673.3h1.4v1.4h-1.4zM411.8,702.2h1.4v1.4h-1.4zM448.9,669.2h2.2v2.2h-2.2zM386.2,685.5h1.8v1.8h-1.8zM410.0,670.9h1.4v1.4h-1.4zM365.7,670.8h1.8v1.8h-1.8zM373.0,657.2h1.4v1.4h-1.4zM372.3,662.3h2.2v2.2h-2.2zM351.9,680.4h2.2v2.2h-2.2zM358.7,669.7h1.4v1.4h-1.4zM408.3,678.6h1.4v1.4h-1.4zM409.3,674.4h1.4v1.4h-1.4zM413.0,678.9h2.2v2.2h-2.2zM366.1,671.9h2.2v2.2h-2.2zM373.9,684.4h2.2v2.2h-2.2zM442.7,667.2h2.2v2.2h-2.2zM411.5,674.3h1.8v1.8h-1.8zM374.3,667.9h1.8v1.8h-1.8zM377.0,680.8h2.2v2.2h-2.2zM413.1,670.5h1.4v1.4h-1.4zM385.4,687.0h1.8v1.8h-1.8zM401.6,671.5h2.2v2.2h-2.2zM385.3,682.1h2.2v2.2h-2.2zM395.4,678.2h1.8v1.8h-1.8zM407.5,666.8h1.4v1.4h-1.4zM395.6,680.4h1.4v1.4h-1.4zM387.1,676.4h1.4v1.4h-1.4zM406.7,670.8h1.8v1.8h-1.8zM382.4,681.4h1.8v1.8h-1.8zM404.6,671.6h1.4v1.4h-1.4zM395.8,688.7h1.8v1.8h-1.8zM393.5,676.2h1.8v1.8h-1.8zM397.8,686.8h1.8v1.8h-1.8zM419.1,677.0h1.4v1.4h-1.4zM383.8,674.4h1.8v1.8h-1.8zM419.3,687.7h1.4v1.4h-1.4zM385.0,689.5h2.2v2.2h-2.2zM401.3,683.9h1.4v1.4h-1.4zM408.0,683.1h1.4v1.4h-1.4zM401.5,674.8h2.2v2.2h-2.2zM413.5,683.6h2.2v2.2h-2.2zM404.3,667.7h2.2v2.2h-2.2zM379.9,678.8h2.2v2.2h-2.2zM383.0,676.8h1.4v1.4h-1.4zM400.1,670.3h1.8v1.8h-1.8zM368.2,673.9h1.4v1.4h-1.4zM420.3,673.5h1.4v1.4h-1.4zM346.2,690.9h1.8v1.8h-1.8zM366.7,670.5h2.2v2.2h-2.2zM402.8,688.5h1.8v1.8h-1.8zM354.3,664.0h1.4v1.4h-1.4zM393.8,683.7h2.2v2.2h-2.2zM389.6,688.3h2.2v2.2h-2.2zM379.2,675.8h1.4v1.4h-1.4zM387.0,676.2h2.2v2.2h-2.2zM394.6,660.2h1.8v1.8h-1.8zM389.4,680.4h2.2v2.2h-2.2zM416.8,669.3h1.8v1.8h-1.8zM382.5,678.5h2.2v2.2h-2.2zM388.6,669.3h2.2v2.2h-2.2zM396.1,655.1h1.8v1.8h-1.8zM395.4,695.0h2.2v2.2h-2.2zM395.0,672.8h1.4v1.4h-1.4zM401.2,671.3h1.8v1.8h-1.8zM336.2,688.6h1.8v1.8h-1.8zM408.2,679.1h1.4v1.4h-1.4zM422.1,666.0h2.2v2.2h-2.2zM403.6,674.6h1.8v1.8h-1.8zM392.4,676.9h1.8v1.8h-1.8zM394.7,671.2h1.8v1.8h-1.8zM382.3,670.4h1.4v1.4h-1.4zM371.1,678.2h1.4v1.4h-1.4zM399.4,671.1h2.2v2.2h-2.2zM375.2,672.0h1.8v1.8h-1.8zM416.4,682.0h1.8v1.8h-1.8zM388.0,673.1h2.2v2.2h-2.2zM420.3,681.1h2.2v2.2h-2.2zM405.6,663.5h1.4v1.4h-1.4zM402.3,669.5h1.8v1.8h-1.8zM439.3,674.0h2.2v2.2h-2.2zM372.6,661.8h1.4v1.4h-1.4zM443.3,671.7h1.4v1.4h-1.4zM358.2,678.1h2.2v2.2h-2.2zM398.5,671.2h2.2v2.2h-2.2zM422.7,668.4h2.2v2.2h-2.2zM400.0,670.7h2.2v2.2h-2.2zM408.5,663.6h2.2v2.2h-2.2zM411.9,673.0h1.8v1.8h-1.8zM357.4,680.2h2.2v2.2h-2.2zM391.0,664.3h1.8v1.8h-1.8zM409.9,673.8h2.2v2.2h-2.2zM388.8,676.8h1.4v1.4h-1.4zM384.2,669.4h1.4v1.4h-1.4zM399.1,671.0h1.4v1.4h-1.4zM383.2,682.3h2.2v2.2h-2.2zM414.8,686.5h1.4v1.4h-1.4zM423.6,683.8h1.8v1.8h-1.8zM407.3,671.6h2.2v2.2h-2.2zM367.0,676.0h1.4v1.4h-1.4zM432.5,682.8h2.2v2.2h-2.2zM405.4,680.2h2.2v2.2h-2.2zM361.6,684.2h2.2v2.2h-2.2zM405.6,675.5h2.2v2.2h-2.2zM399.5,663.5h1.4v1.4h-1.4zM379.0,666.8h1.4v1.4h-1.4zM366.6,675.8h1.8v1.8h-1.8zM376.4,678.2h1.4v1.4h-1.4zM414.5,663.8h1.8v1.8h-1.8zM374.6,669.6h1.8v1.8h-1.8zM379.9,669.0h1.8v1.8h-1.8zM387.9,660.3h1.8v1.8h-1.8zM379.0,680.3h1.4v1.4h-1.4zM378.8,674.9h1.4v1.4h-1.4zM417.5,664.2h1.8v1.8h-1.8zM401.5,662.8h1.8v1.8h-1.8zM395.6,659.4h1.8v1.8h-1.8zM426.3,675.6h1.4v1.4h-1.4zM428.1,678.8h1.8v1.8h-1.8zM407.5,667.5h2.2v2.2h-2.2zM390.7,660.8h1.8v1.8h-1.8zM385.0,675.8h1.8v1.8h-1.8zM411.0,678.5h1.8v1.8h-1.8zM362.4,677.1h2.2v2.2h-2.2zM405.6,674.9h1.8v1.8h-1.8zM430.3,663.1h1.8v1.8h-1.8zM392.5,676.6h1.4v1.4h-1.4zM433.2,688.5h2.2v2.2h-2.2zM382.6,676.7h1.8v1.8h-1.8zM359.4,677.0h1.8v1.8h-1.8zM360.5,665.9h1.8v1.8h-1.8zM385.3,682.3h1.4v1.4h-1.4zM379.3,677.7h1.8v1.8h-1.8zM422.0,668.4h1.8v1.8h-1.8zM393.1,663.2h2.2v2.2h-2.2zM307.1,661.2h1.8v1.8h-1.8zM379.6,685.4h1.4v1.4h-1.4zM364.9,694.7h1.8v1.8h-1.8zM414.5,681.2h1.4v1.4h-1.4zM380.7,670.0h1.4v1.4h-1.4zM348.7,679.3h2.2v2.2h-2.2zM415.2,667.5h2.2v2.2h-2.2zM384.3,676.6h1.4v1.4h-1.4zM393.8,689.5h1.8v1.8h-1.8zM400.0,664.1h1.4v1.4h-1.4zM404.5,676.4h2.2v2.2h-2.2zM408.9,675.5h2.2v2.2h-2.2zM389.6,680.1h1.8v1.8h-1.8zM397.1,666.9h2.2v2.2h-2.2zM414.3,675.9h2.2v2.2h-2.2zM399.5,658.3h2.2v2.2h-2.2zM418.4,673.5h1.4v1.4h-1.4zM412.5,676.4h1.4v1.4h-1.4zM357.0,685.9h1.4v1.4h-1.4zM390.5,680.9h2.2v2.2h-2.2zM449.0,669.8h1.4v1.4h-1.4zM395.3,662.4h1.4v1.4h-1.4zM388.0,675.9h1.4v1.4h-1.4zM390.8,681.9h2.2v2.2h-2.2zM381.0,666.6h1.8v1.8h-1.8zM341.7,673.6h2.2v2.2h-2.2zM404.2,659.8h1.4v1.4h-1.4zM407.8,686.9h2.2v2.2h-2.2zM378.1,668.4h2.2v2.2h-2.2zM401.6,675.9h1.4v1.4h-1.4zM409.4,660.2h1.8v1.8h-1.8zM390.8,675.3h1.4v1.4h-1.4zM404.4,667.8h2.2v2.2h-2.2zM389.4,679.9h1.4v1.4h-1.4zM393.5,668.6h2.2v2.2h-2.2zM432.7,675.0h1.4v1.4h-1.4zM378.7,678.0h1.4v1.4h-1.4zM424.7,671.8h1.8v1.8h-1.8zM397.8,673.9h1.4v1.4h-1.4zM371.1,672.3h1.8v1.8h-1.8zM390.3,677.8h1.4v1.4h-1.4zM330.0,683.3h2.2v2.2h-2.2zM416.3,681.9h2.2v2.2h-2.2zM396.9,670.2h1.8v1.8h-1.8zM356.4,687.0h1.8v1.8h-1.8zM400.2,655.5h1.4v1.4h-1.4zM396.4,693.6h2.2v2.2h-2.2zM387.8,675.1h1.4v1.4h-1.4zM426.9,681.7h2.2v2.2h-2.2zM357.7,674.8h1.4v1.4h-1.4zM394.4,688.0h1.8v1.8h-1.8zM417.2,670.6h1.4v1.4h-1.4zM443.0,677.0h2.2v2.2h-2.2zM397.2,676.6h1.8v1.8h-1.8zM386.1,672.8h1.4v1.4h-1.4zM345.4,674.1h1.8v1.8h-1.8zM404.4,669.8h2.2v2.2h-2.2zM388.3,673.6h2.2v2.2h-2.2zM376.6,674.1h1.4v1.4h-1.4zM415.1,672.6h1.4v1.4h-1.4zM360.6,671.6h2.2v2.2h-2.2zM396.5,673.8h1.8v1.8h-1.8zM361.5,664.2h1.4v1.4h-1.4zM405.3,684.7h2.2v2.2h-2.2zM399.5,669.9h2.2v2.2h-2.2zM389.8,682.0h1.4v1.4h-1.4zM389.9,672.5h1.4v1.4h-1.4zM424.9,676.0h1.4v1.4h-1.4zM408.5,677.3h1.4v1.4h-1.4zM384.4,655.9h2.2v2.2h-2.2zM379.0,681.1h1.8v1.8h-1.8zM388.5,681.4h1.8v1.8h-1.8zM402.2,674.5h2.2v2.2h-2.2zM363.7,673.2h1.8v1.8h-1.8zM416.1,679.6h1.8v1.8h-1.8zM411.6,668.2h1.8v1.8h-1.8zM382.4,681.4h1.8v1.8h-1.8zM402.1,676.1h2.2v2.2h-2.2zM436.5,672.2h1.8v1.8h-1.8zM412.3,684.5h1.4v1.4h-1.4zM376.6,684.7h1.8v1.8h-1.8zM418.0,663.7h1.4v1.4h-1.4zM373.3,678.6h1.8v1.8h-1.8zM412.3,679.5h2.2v2.2h-2.2zM400.2,689.9h2.2v2.2h-2.2zM390.3,671.2h2.2v2.2h-2.2zM385.4,670.9h1.8v1.8h-1.8zM374.4,667.6h1.4v1.4h-1.4zM412.4,659.1h1.8v1.8h-1.8zM379.1,675.5h1.8v1.8h-1.8zM372.5,677.1h2.2v2.2h-2.2zM401.6,673.0h1.8v1.8h-1.8zM423.2,675.6h1.4v1.4h-1.4zM442.6,681.0h1.8v1.8h-1.8zM391.3,671.8h1.8v1.8h-1.8zM382.1,670.8h1.4v1.4h-1.4zM403.0,680.0h2.2v2.2h-2.2zM392.5,683.1h1.8v1.8h-1.8zM441.4,678.4h1.4v1.4h-1.4zM402.4,684.2h2.2v2.2h-2.2zM422.3,685.9h1.8v1.8h-1.8zM394.8,675.3h2.2v2.2h-2.2zM394.0,669.5h1.8v1.8h-1.8zM438.8,689.5h1.8v1.8h-1.8zM402.4,669.8h2.2v2.2h-2.2zM372.2,687.3h1.4v1.4h-1.4zM410.1,680.3h1.4v1.4h-1.4zM424.6,662.9h1.8v1.8h-1.8zM361.1,680.0h2.2v2.2h-2.2zM389.6,678.8h2.2v2.2h-2.2zM391.1,677.9h1.8v1.8h-1.8zM416.1,675.0h1.4v1.4h-1.4zM391.3,687.9h1.8v1.8h-1.8zM382.9,675.9h1.4v1.4h-1.4zM379.6,673.7h1.8v1.8h-1.8zM390.4,680.2h1.4v1.4h-1.4zM399.2,685.8h1.8v1.8h-1.8zM380.9,678.0h1.8v1.8h-1.8zM386.7,674.6h1.4v1.4h-1.4zM407.4,672.6h1.8v1.8h-1.8zM406.1,680.6h1.8v1.8h-1.8zM378.4,673.5h2.2v2.2h-2.2zM392.6,669.3h2.2v2.2h-2.2zM412.2,673.1h2.2v2.2h-2.2zM411.4,675.4h1.8v1.8h-1.8zM433.7,691.4h1.8v1.8h-1.8zM377.4,683.3h1.8v1.8h-1.8zM369.9,674.8h1.4v1.4h-1.4zM394.7,678.9h2.2v2.2h-2.2zM429.9,669.0h1.4v1.4h-1.4zM405.7,665.8h1.8v1.8h-1.8zM390.3,681.2h2.2v2.2h-2.2zM425.6,674.4h2.2v2.2h-2.2zM402.5,665.8h1.4v1.4h-1.4zM413.9,672.5h1.4v1.4h-1.4zM408.8,658.3h2.2v2.2h-2.2zM396.7,682.4h2.2v2.2h-2.2zM387.0,688.4h1.8v1.8h-1.8zM396.0,676.6h1.8v1.8h-1.8zM365.7,676.2h1.8v1.8h-1.8zM392.4,661.2h2.2v2.2h-2.2zM392.8,685.9h1.4v1.4h-1.4zM413.0,690.7h2.2v2.2h-2.2zM399.5,673.4h2.2v2.2h-2.2zM399.2,672.0h1.8v1.8h-1.8zM402.2,679.0h2.2v2.2h-2.2zM415.8,676.4h1.4v1.4h-1.4zM404.4,683.5h1.8v1.8h-1.8zM363.0,677.3h1.4v1.4h-1.4zM397.5,681.4h2.2v2.2h-2.2zM415.5,679.0h1.4v1.4h-1.4zM379.7,675.0h1.4v1.4h-1.4zM402.9,673.8h1.8v1.8h-1.8zM451.4,663.4h2.2v2.2h-2.2zM400.4,674.5h1.4v1.4h-1.4zM399.4,680.1h1.8v1.8h-1.8zM381.5,681.1h1.8v1.8h-1.8zM417.0,682.8h1.8v1.8h-1.8zM370.6,659.1h2.2v2.2h-2.2zM366.2,669.0h2.2v2.2h-2.2zM383.6,675.6h1.4v1.4h-1.4zM409.0,678.6h2.2v2.2h-2.2zM407.1,684.7h2.2v2.2h-2.2zM385.7,682.9h1.8v1.8h-1.8zM395.9,668.4h1.4v1.4h-1.4zM383.4,685.2h1.4v1.4h-1.4zM397.5,679.8h1.8v1.8h-1.8zM395.6,687.0h1.8v1.8h-1.8zM405.0,685.5h1.8v1.8h-1.8zM450.3,672.1h1.8v1.8h-1.8zM406.8,676.3h1.4v1.4h-1.4zM385.6,666.7h2.2v2.2h-2.2zM411.6,668.3h1.8v1.8h-1.8zM388.5,675.8h2.2v2.2h-2.2zM398.6,679.5h2.2v2.2h-2.2zM355.1,671.1h1.4v1.4h-1.4zM379.2,677.8h2.2v2.2h-2.2zM396.1,683.9h2.2v2.2h-2.2zM397.7,671.9h1.8v1.8h-1.8zM370.2,665.8h1.4v1.4h-1.4zM405.3,676.0h1.4v1.4h-1.4zM428.8,668.0h1.8v1.8h-1.8zM360.9,695.1h1.8v1.8h-1.8zM428.8,666.2h2.2v2.2h-2.2zM394.4,678.8h2.2v2.2h-2.2zM374.3,678.7h1.8v1.8h-1.8zM391.7,678.6h2.2v2.2h-2.2zM434.6,676.9h1.8v1.8h-1.8zM391.4,667.6h1.8v1.8h-1.8zM355.9,676.3h1.8v1.8h-1.8zM419.5,686.9h2.2v2.2h-2.2zM389.0,666.0h2.2v2.2h-2.2zM385.0,679.5h1.8v1.8h-1.8zM413.3,676.1h1.8v1.8h-1.8zM411.0,670.5h2.2v2.2h-2.2zM388.0,676.8h1.4v1.4h-1.4zM408.6,685.0h2.2v2.2h-2.2zM378.7,685.3h1.8v1.8h-1.8zM391.9,677.3h2.2v2.2h-2.2zM395.1,667.4h2.2v2.2h-2.2zM380.8,681.5h2.2v2.2h-2.2zM420.1,678.5h1.8v1.8h-1.8zM412.6,663.6h1.8v1.8h-1.8zM407.8,679.1h1.8v1.8h-1.8zM414.7,678.5h1.4v1.4h-1.4zM392.0,673.5h1.8v1.8h-1.8zM409.8,668.8h1.4v1.4h-1.4zM379.8,676.3h1.4v1.4h-1.4zM416.5,683.7h1.4v1.4h-1.4zM409.0,675.5h2.2v2.2h-2.2zM403.1,680.5h1.4v1.4h-1.4zM402.7,690.6h1.8v1.8h-1.8zM411.3,678.6h2.2v2.2h-2.2zM382.1,673.7h1.4v1.4h-1.4zM372.1,676.3h1.4v1.4h-1.4zM409.7,671.9h1.4v1.4h-1.4zM387.2,679.1h1.4v1.4h-1.4zM413.6,659.6h1.4v1.4h-1.4zM394.3,679.1h1.4v1.4h-1.4zM394.4,679.6h1.8v1.8h-1.8zM390.0,680.4h2.2v2.2h-2.2zM414.6,681.9h2.2v2.2h-2.2zM395.3,678.3h2.2v2.2h-2.2zM408.6,673.0h2.2v2.2h-2.2zM392.8,669.2h1.8v1.8h-1.8zM423.0,663.9h2.2v2.2h-2.2zM388.9,671.1h1.8v1.8h-1.8zM421.9,685.0h1.4v1.4h-1.4zM417.2,673.1h1.8v1.8h-1.8zM396.2,684.8h1.4v1.4h-1.4zM400.5,686.4h1.8v1.8h-1.8zM401.8,671.0h1.4v1.4h-1.4zM401.4,681.7h2.2v2.2h-2.2zM393.7,677.2h2.2v2.2h-2.2zM343.9,675.8h1.8v1.8h-1.8zM388.0,688.0h1.8v1.8h-1.8zM396.2,683.6h2.2v2.2h-2.2zM402.0,661.2h2.2v2.2h-2.2zM394.9,665.4h1.8v1.8h-1.8zM392.0,672.6h1.4v1.4h-1.4zM397.7,686.7h2.2v2.2h-2.2zM402.9,679.8h2.2v2.2h-2.2zM388.1,670.3h1.8v1.8h-1.8zM401.4,667.6h2.2v2.2h-2.2zM395.6,665.0h2.2v2.2h-2.2zM389.1,678.7h1.8v1.8h-1.8zM391.9,675.5h1.4v1.4h-1.4zM376.1,674.5h1.4v1.4h-1.4zM393.7,667.6h2.2v2.2h-2.2zM359.2,687.4h1.8v1.8h-1.8zM363.7,668.6h2.2v2.2h-2.2zM415.0,674.1h1.8v1.8h-1.8zM369.3,671.0h1.8v1.8h-1.8zM410.1,673.7h1.4v1.4h-1.4zM396.3,677.0h1.8v1.8h-1.8zM412.5,689.3h2.2v2.2h-2.2zM386.1,688.3h1.4v1.4h-1.4zM339.3,661.1h2.2v2.2h-2.2zM350.8,686.7h1.4v1.4h-1.4zM415.3,684.6h1.4v1.4h-1.4zM421.6,672.3h1.8v1.8h-1.8zM364.7,668.5h1.4v1.4h-1.4zM412.3,677.2h1.4v1.4h-1.4zM387.6,671.1h2.2v2.2h-2.2zM399.3,676.1h2.2v2.2h-2.2zM362.0,677.3h1.4v1.4h-1.4zM401.0,682.9h2.2v2.2h-2.2zM399.8,660.4h2.2v2.2h-2.2zM404.9,678.2h1.4v1.4h-1.4zM380.3,668.4h2.2v2.2h-2.2zM359.4,674.1h1.4v1.4h-1.4zM415.3,667.3h1.4v1.4h-1.4zM402.9,660.5h1.4v1.4h-1.4zM374.3,658.0h1.8v1.8h-1.8zM398.8,683.2h2.2v2.2h-2.2zM404.9,665.0h1.4v1.4h-1.4zM382.0,671.3h1.8v1.8h-1.8zM353.8,674.4h1.4v1.4h-1.4zM368.1,670.8h2.2v2.2h-2.2zM389.0,683.7h1.8v1.8h-1.8zM393.6,688.7h2.2v2.2h-2.2zM371.2,681.7h1.8v1.8h-1.8zM417.9,675.9h1.8v1.8h-1.8zM340.8,678.2h1.4v1.4h-1.4zM395.2,675.0h2.2v2.2h-2.2zM379.0,675.0h1.8v1.8h-1.8zM414.8,678.1h1.8v1.8h-1.8zM421.4,679.1h2.2v2.2h-2.2zM384.4,666.0h2.2v2.2h-2.2zM435.5,669.8h1.4v1.4h-1.4zM419.2,680.0h2.2v2.2h-2.2zM372.3,689.5h2.2v2.2h-2.2zM402.6,676.7h1.8v1.8h-1.8zM382.8,679.0h1.8v1.8h-1.8zM382.0,680.6h1.4v1.4h-1.4zM417.7,677.3h1.4v1.4h-1.4zM421.5,673.4h1.8v1.8h-1.8zM388.6,672.9h1.4v1.4h-1.4zM349.7,681.9h2.2v2.2h-2.2zM415.1,680.3h1.4v1.4h-1.4zM424.7,673.2h1.8v1.8h-1.8zM399.4,667.3h2.2v2.2h-2.2zM378.2,680.5h2.2v2.2h-2.2zM367.8,680.1h2.2v2.2h-2.2zM366.8,683.8h1.8v1.8h-1.8zM406.1,684.2h1.4v1.4h-1.4zM384.1,688.3h2.2v2.2h-2.2zM392.0,668.6h1.8v1.8h-1.8zM431.7,689.4h1.4v1.4h-1.4zM376.8,674.8h1.8v1.8h-1.8zM412.3,683.6h1.4v1.4h-1.4zM449.7,674.7h1.4v1.4h-1.4zM399.6,665.6h2.2v2.2h-2.2zM358.9,683.9h1.4v1.4h-1.4zM390.0,682.5h2.2v2.2h-2.2zM381.7,680.2h1.4v1.4h-1.4zM395.8,668.8h2.2v2.2h-2.2zM391.9,680.6h1.4v1.4h-1.4zM403.2,671.3h1.8v1.8h-1.8zM364.8,667.6h1.4v1.4h-1.4zM399.5,677.9h1.8v1.8h-1.8zM374.1,677.4h1.4v1.4h-1.4zM375.2,665.7h1.8v1.8h-1.8zM335.3,689.9h2.2v2.2h-2.2zM393.7,682.5h1.4v1.4h-1.4zM421.6,678.5h1.4v1.4h-1.4zM405.0,669.6h1.8v1.8h-1.8zM358.9,692.1h2.2v2.2h-2.2zM386.6,665.1h1.4v1.4h-1.4zM399.3,675.1h1.8v1.8h-1.8zM409.3,668.0h2.2v2.2h-2.2zM390.8,675.6h1.8v1.8h-1.8zM378.7,679.7h1.4v1.4h-1.4zM422.9,688.0h1.4v1.4h-1.4zM405.1,692.8h1.8v1.8h-1.8zM369.8,663.6h1.8v1.8h-1.8zM408.4,675.8h2.2v2.2h-2.2zM362.0,676.3h2.2v2.2h-2.2zM412.7,677.5h1.4v1.4h-1.4zM403.3,680.7h1.8v1.8h-1.8zM390.4,680.9h2.2v2.2h-2.2zM359.6,679.0h1.4v1.4h-1.4zM419.4,667.6h1.8v1.8h-1.8zM414.1,682.9h2.2v2.2h-2.2zM417.9,684.4h2.2v2.2h-2.2zM390.4,678.7h1.4v1.4h-1.4zM343.7,669.1h2.2v2.2h-2.2zM385.7,671.3h2.2v2.2h-2.2zM404.7,684.4h1.8v1.8h-1.8zM388.5,676.3h1.4v1.4h-1.4zM377.7,667.6h1.4v1.4h-1.4zM426.4,690.0h1.8v1.8h-1.8zM403.2,675.7h2.2v2.2h-2.2zM395.9,661.1h1.8v1.8h-1.8zM401.5,689.6h2.2v2.2h-2.2z" fill="#000"/>
<path d="M352,682 Q358,665.5 380,665 L420,665 Q436,666 435.5,677 Q434,688.5 418,689.5 L376,689.5 Q358,689 352,682Z" fill="url(#ht)"/>
<path d="M350.1,690.3h1.4v1.4h-1.4zM355.8,673.9h1.4v1.4h-1.4zM318.8,681.2h1.4v1.4h-1.4zM288.3,680.3h1.4v1.4h-1.4zM320.5,683.7h1.4v1.4h-1.4zM343.0,673.5h1.4v1.4h-1.4zM289.7,674.4h1.4v1.4h-1.4zM305.1,675.6h1.4v1.4h-1.4zM341.1,689.9h1.4v1.4h-1.4zM347.3,682.9h1.4v1.4h-1.4zM302.1,688.2h1.4v1.4h-1.4zM353.4,675.8h1.4v1.4h-1.4zM325.8,683.6h1.4v1.4h-1.4zM324.9,666.4h1.4v1.4h-1.4zM319.5,677.8h1.4v1.4h-1.4zM347.9,679.5h1.4v1.4h-1.4zM346.9,661.3h1.4v1.4h-1.4zM324.6,671.8h1.4v1.4h-1.4zM311.7,694.6h1.4v1.4h-1.4zM320.4,676.0h1.4v1.4h-1.4zM348.0,692.3h1.4v1.4h-1.4zM295.1,669.7h1.4v1.4h-1.4zM347.9,692.2h1.4v1.4h-1.4zM343.9,688.9h1.4v1.4h-1.4zM319.3,670.7h1.4v1.4h-1.4zM317.0,661.6h1.4v1.4h-1.4zM315.0,691.1h1.4v1.4h-1.4zM306.8,674.6h1.4v1.4h-1.4zM312.6,670.5h1.4v1.4h-1.4zM347.1,666.5h1.4v1.4h-1.4zM355.3,681.2h1.4v1.4h-1.4zM295.2,686.1h1.4v1.4h-1.4zM353.4,686.9h1.4v1.4h-1.4zM315.3,676.7h1.4v1.4h-1.4zM354.3,686.0h1.4v1.4h-1.4zM343.3,689.9h1.4v1.4h-1.4zM298.8,680.6h1.4v1.4h-1.4zM335.1,672.5h1.4v1.4h-1.4zM313.9,680.6h1.4v1.4h-1.4zM338.5,677.6h1.4v1.4h-1.4zM325.4,656.6h1.4v1.4h-1.4zM348.5,688.1h1.4v1.4h-1.4zM326.9,684.6h1.4v1.4h-1.4zM349.2,683.1h1.4v1.4h-1.4zM304.8,663.2h1.4v1.4h-1.4zM298.8,686.8h1.4v1.4h-1.4zM341.8,685.3h1.4v1.4h-1.4zM327.5,678.2h1.4v1.4h-1.4zM310.9,673.9h1.4v1.4h-1.4zM291.9,661.0h1.4v1.4h-1.4zM307.0,662.7h1.4v1.4h-1.4zM342.4,670.2h1.4v1.4h-1.4zM342.0,681.7h1.4v1.4h-1.4zM305.1,688.2h1.4v1.4h-1.4zM339.3,667.6h1.4v1.4h-1.4zM310.5,674.7h1.4v1.4h-1.4zM287.2,673.5h1.4v1.4h-1.4zM341.4,681.4h1.4v1.4h-1.4zM333.9,676.3h1.4v1.4h-1.4zM339.0,678.7h1.4v1.4h-1.4zM327.3,688.9h1.4v1.4h-1.4zM333.8,673.3h1.4v1.4h-1.4zM320.8,681.7h1.4v1.4h-1.4zM361.6,670.8h1.4v1.4h-1.4zM348.6,676.2h1.4v1.4h-1.4zM318.6,683.7h1.4v1.4h-1.4zM352.5,695.2h1.4v1.4h-1.4zM343.6,672.3h1.4v1.4h-1.4zM348.5,697.0h1.4v1.4h-1.4zM288.4,669.7h1.4v1.4h-1.4zM349.7,679.7h1.4v1.4h-1.4zM351.8,671.3h1.4v1.4h-1.4zM351.7,666.8h1.4v1.4h-1.4zM309.7,693.7h1.4v1.4h-1.4zM340.0,680.0h1.4v1.4h-1.4zM315.9,681.4h1.4v1.4h-1.4zM298.0,680.8h1.4v1.4h-1.4zM298.9,682.5h1.4v1.4h-1.4zM323.6,670.4h1.4v1.4h-1.4zM292.4,687.6h1.4v1.4h-1.4zM338.6,670.4h1.4v1.4h-1.4zM297.0,677.9h1.4v1.4h-1.4zM336.3,678.6h1.4v1.4h-1.4zM354.8,676.2h1.4v1.4h-1.4zM330.5,672.5h1.4v1.4h-1.4zM319.3,689.4h1.4v1.4h-1.4zM319.3,687.0h1.4v1.4h-1.4zM347.0,668.7h1.4v1.4h-1.4zM353.9,665.8h1.4v1.4h-1.4zM321.4,682.4h1.4v1.4h-1.4zM297.2,681.4h1.4v1.4h-1.4zM338.3,677.3h1.4v1.4h-1.4zM341.1,659.5h1.4v1.4h-1.4zM330.1,688.5h1.4v1.4h-1.4zM338.6,687.8h1.4v1.4h-1.4zM356.7,686.8h1.4v1.4h-1.4zM314.2,684.7h1.4v1.4h-1.4zM291.7,680.1h1.4v1.4h-1.4zM340.2,678.6h1.4v1.4h-1.4zM353.2,682.6h1.4v1.4h-1.4zM305.4,672.2h1.4v1.4h-1.4zM315.5,688.9h1.4v1.4h-1.4zM305.9,695.3h1.4v1.4h-1.4zM321.1,680.7h1.4v1.4h-1.4zM319.6,687.2h1.4v1.4h-1.4zM329.3,680.0h1.4v1.4h-1.4zM355.1,676.4h1.4v1.4h-1.4zM349.3,673.9h1.4v1.4h-1.4zM305.9,667.3h1.4v1.4h-1.4zM287.5,668.4h1.4v1.4h-1.4zM347.0,673.4h1.4v1.4h-1.4zM301.8,686.0h1.4v1.4h-1.4zM340.4,686.3h1.4v1.4h-1.4zM319.4,688.5h1.4v1.4h-1.4zM356.3,683.4h1.4v1.4h-1.4zM295.0,688.7h1.4v1.4h-1.4zM356.4,682.5h1.4v1.4h-1.4zM308.8,693.4h1.4v1.4h-1.4zM313.7,680.0h1.4v1.4h-1.4zM332.8,682.4h1.4v1.4h-1.4zM322.3,698.6h1.4v1.4h-1.4zM290.8,682.2h1.4v1.4h-1.4zM326.2,695.6h1.4v1.4h-1.4zM337.6,671.7h1.4v1.4h-1.4zM358.5,678.0h1.4v1.4h-1.4zM316.0,685.6h1.4v1.4h-1.4zM323.0,686.9h1.4v1.4h-1.4zM311.5,661.6h1.4v1.4h-1.4zM332.7,679.9h1.4v1.4h-1.4zM320.5,683.5h1.4v1.4h-1.4zM335.0,682.5h1.4v1.4h-1.4zM353.5,661.5h1.4v1.4h-1.4zM314.8,686.0h1.4v1.4h-1.4zM332.3,671.4h1.4v1.4h-1.4zM352.4,677.7h1.4v1.4h-1.4zM306.5,666.1h1.4v1.4h-1.4zM335.1,692.1h1.4v1.4h-1.4zM325.4,692.5h1.4v1.4h-1.4zM292.9,692.4h1.4v1.4h-1.4zM343.7,674.2h1.4v1.4h-1.4zM323.1,672.0h1.4v1.4h-1.4zM326.3,679.0h1.4v1.4h-1.4zM322.3,682.6h1.4v1.4h-1.4zM339.2,674.5h1.4v1.4h-1.4zM344.7,685.4h1.4v1.4h-1.4zM309.5,673.8h1.4v1.4h-1.4zM320.3,678.8h1.4v1.4h-1.4zM351.2,690.4h1.4v1.4h-1.4zM310.4,677.6h1.4v1.4h-1.4zM327.7,681.7h1.4v1.4h-1.4zM342.7,667.1h1.4v1.4h-1.4zM335.7,686.6h1.4v1.4h-1.4zM349.2,671.8h1.4v1.4h-1.4zM299.3,667.0h1.4v1.4h-1.4zM325.5,690.9h1.4v1.4h-1.4zM293.3,675.7h1.4v1.4h-1.4zM333.9,668.0h1.4v1.4h-1.4zM349.4,670.2h1.4v1.4h-1.4zM325.1,671.9h1.4v1.4h-1.4zM357.5,686.2h1.4v1.4h-1.4zM299.6,682.1h1.4v1.4h-1.4zM361.0,695.6h1.4v1.4h-1.4zM308.6,674.9h1.4v1.4h-1.4zM301.5,672.8h1.4v1.4h-1.4zM352.1,680.0h1.4v1.4h-1.4zM311.8,665.7h1.4v1.4h-1.4zM332.8,670.2h1.4v1.4h-1.4zM287.3,684.1h1.4v1.4h-1.4zM289.1,671.0h1.4v1.4h-1.4zM351.2,669.3h1.4v1.4h-1.4zM310.1,658.4h1.4v1.4h-1.4zM294.9,674.7h1.4v1.4h-1.4zM303.3,683.9h1.4v1.4h-1.4zM356.1,676.9h1.4v1.4h-1.4zM349.8,697.2h1.4v1.4h-1.4zM325.6,668.7h1.4v1.4h-1.4zM327.0,673.5h1.4v1.4h-1.4zM322.7,683.8h1.4v1.4h-1.4zM290.2,678.2h1.4v1.4h-1.4zM308.2,668.1h1.4v1.4h-1.4zM297.6,694.5h1.4v1.4h-1.4zM313.7,683.9h1.4v1.4h-1.4zM347.8,675.8h1.4v1.4h-1.4zM338.6,683.3h1.4v1.4h-1.4zM359.3,671.5h1.4v1.4h-1.4zM287.3,667.7h1.4v1.4h-1.4zM303.4,690.7h1.4v1.4h-1.4zM299.9,676.4h1.4v1.4h-1.4zM351.6,691.6h1.4v1.4h-1.4zM331.4,698.8h1.4v1.4h-1.4zM316.5,672.8h1.4v1.4h-1.4zM291.4,681.9h1.4v1.4h-1.4zM353.9,684.5h1.4v1.4h-1.4zM318.6,667.1h1.4v1.4h-1.4zM345.6,671.0h1.4v1.4h-1.4zM316.7,678.2h1.4v1.4h-1.4zM354.2,684.9h1.4v1.4h-1.4zM304.0,673.5h1.4v1.4h-1.4zM292.0,677.9h1.4v1.4h-1.4zM357.4,689.2h1.4v1.4h-1.4zM286.4,683.5h1.4v1.4h-1.4zM299.7,678.5h1.4v1.4h-1.4zM293.4,680.9h1.4v1.4h-1.4zM337.2,681.7h1.4v1.4h-1.4zM301.8,663.3h1.4v1.4h-1.4zM298.5,695.5h1.4v1.4h-1.4zM331.8,688.5h1.4v1.4h-1.4zM320.8,671.8h1.4v1.4h-1.4zM360.8,674.0h1.4v1.4h-1.4zM318.4,680.1h1.4v1.4h-1.4zM311.7,689.1h1.4v1.4h-1.4zM349.7,684.2h1.4v1.4h-1.4zM319.4,695.1h1.4v1.4h-1.4zM314.3,695.6h1.4v1.4h-1.4zM291.3,674.5h1.4v1.4h-1.4zM333.6,690.5h1.4v1.4h-1.4zM340.8,676.9h1.4v1.4h-1.4zM300.3,694.9h1.4v1.4h-1.4zM326.3,674.1h1.4v1.4h-1.4zM306.2,668.1h1.4v1.4h-1.4zM352.9,681.9h1.4v1.4h-1.4zM305.1,675.9h1.4v1.4h-1.4zM317.2,674.6h1.4v1.4h-1.4zM323.1,683.7h1.4v1.4h-1.4zM315.7,668.1h1.4v1.4h-1.4zM325.9,670.9h1.4v1.4h-1.4zM305.6,683.4h1.4v1.4h-1.4zM301.0,682.2h1.4v1.4h-1.4zM352.2,689.3h1.4v1.4h-1.4zM356.9,681.2h1.4v1.4h-1.4zM333.6,684.5h1.8v1.8h-1.8zM343.2,678.7h1.8v1.8h-1.8zM356.9,673.2h1.8v1.8h-1.8zM340.1,679.4h1.8v1.8h-1.8zM358.4,675.4h1.4v1.4h-1.4zM323.1,673.9h1.8v1.8h-1.8zM355.6,679.8h1.4v1.4h-1.4zM353.0,668.6h1.4v1.4h-1.4zM352.3,667.8h1.8v1.8h-1.8zM360.8,681.7h1.4v1.4h-1.4zM351.4,683.6h1.8v1.8h-1.8zM345.5,682.0h1.4v1.4h-1.4zM326.8,691.4h1.8v1.8h-1.8zM355.7,673.5h1.4v1.4h-1.4zM337.8,693.2h1.8v1.8h-1.8zM346.3,670.6h1.4v1.4h-1.4zM344.5,683.2h1.8v1.8h-1.8zM351.1,689.5h1.8v1.8h-1.8zM346.2,695.6h1.8v1.8h-1.8zM332.1,687.3h1.8v1.8h-1.8zM353.1,668.2h1.4v1.4h-1.4zM357.6,688.7h1.4v1.4h-1.4zM348.7,674.2h1.8v1.8h-1.8zM326.3,681.0h1.8v1.8h-1.8zM346.5,680.6h1.4v1.4h-1.4zM351.9,670.2h1.8v1.8h-1.8zM359.1,665.4h1.4v1.4h-1.4zM321.7,677.6h1.8v1.8h-1.8zM348.0,671.5h1.8v1.8h-1.8zM328.7,680.5h1.8v1.8h-1.8zM355.6,668.6h1.4v1.4h-1.4zM361.8,666.1h1.4v1.4h-1.4zM350.9,683.3h1.4v1.4h-1.4zM333.3,692.6h1.4v1.4h-1.4zM342.3,668.6h1.4v1.4h-1.4zM354.2,672.1h1.8v1.8h-1.8zM349.7,670.8h1.4v1.4h-1.4zM351.5,687.3h1.4v1.4h-1.4zM361.4,678.8h1.4v1.4h-1.4zM331.2,674.2h1.8v1.8h-1.8zM359.0,672.1h1.4v1.4h-1.4zM343.8,673.5h1.8v1.8h-1.8zM346.2,667.4h1.4v1.4h-1.4zM346.3,676.0h1.4v1.4h-1.4zM353.1,685.9h1.8v1.8h-1.8zM327.6,675.1h1.8v1.8h-1.8zM332.7,676.6h1.4v1.4h-1.4zM351.3,680.1h1.8v1.8h-1.8zM361.5,671.2h1.4v1.4h-1.4zM361.8,683.1h1.8v1.8h-1.8zM337.9,682.5h1.4v1.4h-1.4zM331.1,691.8h1.8v1.8h-1.8zM349.2,681.7h1.4v1.4h-1.4zM355.9,665.7h1.8v1.8h-1.8zM354.3,687.2h1.4v1.4h-1.4zM335.9,672.9h1.8v1.8h-1.8zM340.3,678.3h1.4v1.4h-1.4zM361.3,664.8h1.4v1.4h-1.4zM353.2,682.8h1.4v1.4h-1.4zM338.7,672.1h1.4v1.4h-1.4zM352.1,666.9h1.8v1.8h-1.8zM353.6,697.5h1.4v1.4h-1.4zM356.1,691.6h1.4v1.4h-1.4zM326.8,680.8h1.8v1.8h-1.8zM361.6,673.1h1.4v1.4h-1.4zM342.6,683.1h1.8v1.8h-1.8zM357.2,682.0h1.4v1.4h-1.4zM347.4,681.2h1.8v1.8h-1.8zM357.8,674.4h1.8v1.8h-1.8zM361.1,676.4h1.4v1.4h-1.4zM360.0,680.2h1.8v1.8h-1.8zM341.0,686.7h1.8v1.8h-1.8zM348.3,677.9h1.8v1.8h-1.8zM358.8,676.2h1.8v1.8h-1.8zM336.1,686.9h1.4v1.4h-1.4zM337.7,688.2h1.8v1.8h-1.8zM358.6,673.4h1.4v1.4h-1.4zM347.1,680.0h1.8v1.8h-1.8zM359.9,676.6h1.4v1.4h-1.4zM355.6,692.6h1.8v1.8h-1.8zM361.1,673.6h1.8v1.8h-1.8zM339.6,660.4h1.4v1.4h-1.4zM347.4,688.3h1.4v1.4h-1.4zM360.4,668.8h1.4v1.4h-1.4zM334.2,672.7h1.8v1.8h-1.8zM356.8,695.5h1.8v1.8h-1.8zM352.0,683.8h1.4v1.4h-1.4zM360.5,668.0h1.8v1.8h-1.8zM418.7,605.4h2.0v2.0h-2.0zM411.8,647.3h2.0v2.0h-2.0zM412.3,649.1h2.0v2.0h-2.0zM384.9,628.1h2.0v2.0h-2.0zM399.0,647.7h1.7v1.7h-1.7zM435.2,602.3h1.4v1.4h-1.4zM407.2,639.3h2.0v2.0h-2.0zM411.4,629.8h2.0v2.0h-2.0zM405.9,622.1h2.0v2.0h-2.0zM411.7,618.3h1.7v1.7h-1.7zM431.7,624.5h1.4v1.4h-1.4zM422.8,615.5h1.4v1.4h-1.4zM390.4,643.4h2.0v2.0h-2.0zM399.4,629.1h2.0v2.0h-2.0zM399.3,649.1h2.0v2.0h-2.0zM407.8,627.5h1.7v1.7h-1.7zM434.5,639.2h1.4v1.4h-1.4zM381.5,651.0h1.4v1.4h-1.4zM385.7,651.4h2.0v2.0h-2.0zM420.0,645.3h1.7v1.7h-1.7zM431.0,641.3h1.4v1.4h-1.4zM400.4,631.8h2.0v2.0h-2.0zM402.5,615.9h1.7v1.7h-1.7zM392.3,636.1h1.4v1.4h-1.4zM416.9,636.6h1.4v1.4h-1.4zM421.5,610.9h2.0v2.0h-2.0zM420.4,627.5h2.0v2.0h-2.0zM414.1,613.7h1.4v1.4h-1.4zM381.9,647.4h2.0v2.0h-2.0zM413.4,642.4h1.7v1.7h-1.7zM397.1,624.3h1.4v1.4h-1.4zM402.9,644.6h2.0v2.0h-2.0zM418.9,624.7h2.0v2.0h-2.0zM385.6,605.1h1.7v1.7h-1.7zM416.6,628.1h1.4v1.4h-1.4zM399.9,621.3h1.7v1.7h-1.7zM398.8,649.2h2.0v2.0h-2.0zM428.2,642.0h1.4v1.4h-1.4zM409.9,622.3h2.0v2.0h-2.0zM408.7,632.8h2.0v2.0h-2.0zM391.2,622.2h1.7v1.7h-1.7zM392.4,616.7h1.7v1.7h-1.7zM391.6,621.4h1.4v1.4h-1.4zM406.5,618.5h1.7v1.7h-1.7zM400.1,639.8h1.4v1.4h-1.4zM405.9,645.4h2.0v2.0h-2.0zM412.4,646.5h1.7v1.7h-1.7zM419.3,645.9h1.4v1.4h-1.4zM421.0,619.6h2.0v2.0h-2.0zM418.1,640.0h1.4v1.4h-1.4zM397.5,635.7h2.0v2.0h-2.0zM398.0,646.5h2.0v2.0h-2.0zM425.8,624.9h1.4v1.4h-1.4zM412.2,601.7h1.7v1.7h-1.7zM412.7,647.9h1.4v1.4h-1.4zM399.6,633.8h2.0v2.0h-2.0zM421.6,613.2h1.4v1.4h-1.4zM416.0,613.6h1.4v1.4h-1.4zM407.1,621.6h2.0v2.0h-2.0zM408.0,625.0h1.4v1.4h-1.4zM401.9,638.9h1.7v1.7h-1.7zM393.9,622.1h1.4v1.4h-1.4zM419.3,613.1h2.0v2.0h-2.0zM401.2,651.5h2.0v2.0h-2.0zM422.2,621.0h2.0v2.0h-2.0zM418.4,629.0h2.0v2.0h-2.0zM427.4,648.4h1.4v1.4h-1.4zM412.0,571.8h1.4v1.4h-1.4zM411.7,638.7h1.7v1.7h-1.7zM400.3,638.4h1.7v1.7h-1.7zM421.2,603.4h2.0v2.0h-2.0zM377.3,651.3h1.7v1.7h-1.7zM413.2,635.3h1.7v1.7h-1.7zM408.4,636.4h2.0v2.0h-2.0zM412.3,631.4h2.0v2.0h-2.0zM427.3,644.7h2.0v2.0h-2.0zM401.6,614.7h1.7v1.7h-1.7zM408.9,636.3h2.0v2.0h-2.0zM428.7,638.6h1.7v1.7h-1.7zM401.6,619.8h1.7v1.7h-1.7zM390.7,635.7h2.0v2.0h-2.0zM419.8,631.9h1.7v1.7h-1.7zM401.9,620.8h2.0v2.0h-2.0zM375.7,628.6h1.7v1.7h-1.7zM433.3,650.2h1.7v1.7h-1.7zM391.9,630.5h1.4v1.4h-1.4zM398.1,619.9h1.7v1.7h-1.7zM415.7,619.7h2.0v2.0h-2.0zM399.6,650.7h2.0v2.0h-2.0zM409.5,640.4h1.7v1.7h-1.7zM435.3,602.5h2.0v2.0h-2.0zM423.1,624.0h2.0v2.0h-2.0zM422.0,629.8h1.7v1.7h-1.7zM398.9,645.2h2.0v2.0h-2.0zM421.6,631.1h1.4v1.4h-1.4zM418.4,641.9h1.4v1.4h-1.4zM408.8,632.6h1.4v1.4h-1.4zM394.9,648.3h1.7v1.7h-1.7zM382.7,577.0h2.0v2.0h-2.0zM394.5,636.7h2.0v2.0h-2.0zM420.9,639.9h1.4v1.4h-1.4zM420.9,651.4h2.0v2.0h-2.0zM408.5,635.2h1.7v1.7h-1.7zM393.8,629.5h1.7v1.7h-1.7zM408.2,629.4h2.0v2.0h-2.0zM417.1,649.0h2.0v2.0h-2.0zM385.0,639.4h2.0v2.0h-2.0zM390.9,648.6h2.0v2.0h-2.0zM406.2,624.5h2.0v2.0h-2.0zM367.5,648.9h1.4v1.4h-1.4zM420.2,610.9h2.0v2.0h-2.0zM415.2,619.8h1.7v1.7h-1.7zM391.6,634.7h1.7v1.7h-1.7zM403.4,607.9h2.0v2.0h-2.0zM394.0,613.3h2.0v2.0h-2.0zM403.8,604.3h1.4v1.4h-1.4zM385.6,643.9h1.7v1.7h-1.7zM405.9,610.4h1.7v1.7h-1.7zM415.3,622.0h1.4v1.4h-1.4zM426.0,649.2h1.4v1.4h-1.4zM419.5,643.4h1.7v1.7h-1.7zM407.2,627.7h2.0v2.0h-2.0zM407.8,588.0h1.7v1.7h-1.7zM415.0,636.5h1.4v1.4h-1.4zM381.3,621.3h2.0v2.0h-2.0zM404.1,634.0h2.0v2.0h-2.0zM415.1,628.9h2.0v2.0h-2.0zM408.1,643.4h1.4v1.4h-1.4zM399.2,615.5h1.4v1.4h-1.4zM405.0,626.1h2.0v2.0h-2.0zM388.7,616.7h1.4v1.4h-1.4zM423.2,611.1h1.7v1.7h-1.7zM401.3,603.7h2.0v2.0h-2.0zM421.3,646.1h2.0v2.0h-2.0zM406.8,650.5h2.0v2.0h-2.0zM428.0,616.8h2.0v2.0h-2.0zM403.1,623.6h1.7v1.7h-1.7zM423.1,643.4h1.7v1.7h-1.7zM396.2,634.6h2.0v2.0h-2.0zM399.7,646.8h1.4v1.4h-1.4zM419.7,642.8h2.0v2.0h-2.0zM387.7,631.8h1.4v1.4h-1.4zM389.7,586.3h2.0v2.0h-2.0zM402.4,595.1h2.0v2.0h-2.0zM381.2,643.7h2.0v2.0h-2.0zM395.2,643.9h2.0v2.0h-2.0zM423.8,636.4h1.7v1.7h-1.7zM393.2,618.2h1.7v1.7h-1.7zM405.2,650.4h2.0v2.0h-2.0zM417.0,622.9h2.0v2.0h-2.0zM373.0,649.3h2.0v2.0h-2.0zM393.0,621.0h2.0v2.0h-2.0zM427.1,643.8h1.4v1.4h-1.4zM401.4,627.2h2.0v2.0h-2.0zM433.3,643.6h1.7v1.7h-1.7zM418.5,650.8h1.7v1.7h-1.7zM399.3,610.7h1.7v1.7h-1.7zM418.2,645.8h1.7v1.7h-1.7zM410.7,607.0h2.0v2.0h-2.0zM385.1,605.7h2.0v2.0h-2.0zM394.7,636.0h1.7v1.7h-1.7zM397.3,650.6h1.7v1.7h-1.7zM402.5,646.0h2.0v2.0h-2.0zM420.1,643.1h2.0v2.0h-2.0zM383.9,599.4h1.7v1.7h-1.7zM412.7,637.4h2.0v2.0h-2.0zM405.0,630.9h2.0v2.0h-2.0zM402.5,612.3h1.4v1.4h-1.4zM420.8,641.1h1.7v1.7h-1.7zM404.7,645.2h1.7v1.7h-1.7zM420.5,647.2h2.0v2.0h-2.0zM414.8,614.1h1.4v1.4h-1.4zM407.6,638.4h2.0v2.0h-2.0zM402.1,644.0h1.4v1.4h-1.4zM380.6,612.8h1.7v1.7h-1.7zM414.5,626.7h2.0v2.0h-2.0zM404.4,633.8h1.7v1.7h-1.7zM395.7,607.3h1.4v1.4h-1.4zM414.5,644.6h1.7v1.7h-1.7zM411.6,640.1h2.0v2.0h-2.0zM422.2,622.5h1.4v1.4h-1.4zM416.5,621.0h2.0v2.0h-2.0zM395.7,642.6h2.0v2.0h-2.0zM388.8,649.8h1.7v1.7h-1.7zM415.2,611.8h1.7v1.7h-1.7zM418.6,608.2h2.0v2.0h-2.0zM419.4,645.8h2.0v2.0h-2.0zM414.3,632.4h2.0v2.0h-2.0zM411.1,646.2h2.0v2.0h-2.0zM422.3,621.3h1.4v1.4h-1.4zM426.9,645.8h1.7v1.7h-1.7zM410.5,637.7h1.4v1.4h-1.4zM431.4,630.3h1.7v1.7h-1.7zM405.8,616.0h1.7v1.7h-1.7zM382.3,648.3h1.7v1.7h-1.7zM376.5,639.8h2.0v2.0h-2.0zM400.6,647.9h2.0v2.0h-2.0zM403.8,645.7h2.0v2.0h-2.0zM421.1,641.8h2.0v2.0h-2.0zM388.6,649.1h1.4v1.4h-1.4zM416.7,610.2h1.7v1.7h-1.7zM401.4,641.8h1.7v1.7h-1.7zM399.2,628.5h2.0v2.0h-2.0zM410.7,629.7h1.7v1.7h-1.7zM439.2,636.7h2.0v2.0h-2.0zM407.0,634.4h1.4v1.4h-1.4zM416.7,595.9h1.7v1.7h-1.7zM410.4,634.1h1.7v1.7h-1.7zM393.5,639.9h2.0v2.0h-2.0zM399.2,636.1h2.0v2.0h-2.0zM392.6,593.4h2.0v2.0h-2.0zM416.2,623.0h1.7v1.7h-1.7zM396.5,630.8h1.7v1.7h-1.7zM388.2,632.7h1.7v1.7h-1.7zM410.9,624.3h1.4v1.4h-1.4zM399.0,645.0h2.0v2.0h-2.0zM407.1,639.0h2.0v2.0h-2.0zM386.9,636.5h1.7v1.7h-1.7zM424.6,649.1h1.4v1.4h-1.4zM418.1,644.4h2.0v2.0h-2.0zM404.8,631.6h1.7v1.7h-1.7zM382.1,641.4h1.7v1.7h-1.7zM412.0,605.9h1.4v1.4h-1.4zM385.3,630.3h1.4v1.4h-1.4zM384.7,611.9h1.7v1.7h-1.7zM424.2,643.7h1.4v1.4h-1.4zM422.0,647.2h1.7v1.7h-1.7zM404.4,632.8h1.7v1.7h-1.7zM401.6,621.0h1.7v1.7h-1.7zM395.0,645.3h1.7v1.7h-1.7zM397.9,631.1h1.7v1.7h-1.7zM406.2,646.2h1.7v1.7h-1.7zM418.4,625.9h1.4v1.4h-1.4zM431.9,634.3h1.7v1.7h-1.7zM387.4,638.1h2.0v2.0h-2.0zM414.9,649.1h1.7v1.7h-1.7zM402.9,631.0h1.4v1.4h-1.4zM406.4,616.8h2.0v2.0h-2.0zM402.0,632.4h2.0v2.0h-2.0zM383.2,647.3h1.7v1.7h-1.7zM416.9,624.5h2.0v2.0h-2.0zM424.6,624.7h1.4v1.4h-1.4zM391.8,640.0h2.0v2.0h-2.0zM381.3,626.8h2.0v2.0h-2.0zM418.2,624.6h2.0v2.0h-2.0zM407.7,648.1h1.7v1.7h-1.7zM385.8,634.7h2.0v2.0h-2.0zM382.9,594.4h2.0v2.0h-2.0zM406.2,631.9h2.0v2.0h-2.0zM406.3,650.6h1.7v1.7h-1.7zM397.0,648.3h2.0v2.0h-2.0zM399.6,649.5h1.4v1.4h-1.4zM420.7,645.0h1.7v1.7h-1.7zM392.5,646.4h1.7v1.7h-1.7zM402.9,620.3h1.4v1.4h-1.4zM419.7,644.1h1.7v1.7h-1.7zM378.7,632.6h1.7v1.7h-1.7zM407.2,624.5h1.4v1.4h-1.4zM438.5,634.8h1.4v1.4h-1.4zM427.0,650.6h1.4v1.4h-1.4zM391.8,614.4h2.0v2.0h-2.0zM414.8,623.1h2.0v2.0h-2.0zM415.5,629.5h2.0v2.0h-2.0zM380.8,630.8h1.7v1.7h-1.7zM414.8,609.5h1.7v1.7h-1.7zM391.6,635.7h1.7v1.7h-1.7zM410.8,626.0h1.7v1.7h-1.7zM397.8,612.1h2.0v2.0h-2.0zM407.9,651.0h2.0v2.0h-2.0zM389.8,599.9h1.7v1.7h-1.7zM422.9,650.5h1.4v1.4h-1.4zM400.3,638.6h1.4v1.4h-1.4zM399.0,649.5h2.0v2.0h-2.0zM384.3,620.1h2.0v2.0h-2.0zM411.5,633.7h1.4v1.4h-1.4zM389.2,599.8h2.0v2.0h-2.0zM417.6,643.3h1.4v1.4h-1.4zM395.2,626.1h2.0v2.0h-2.0zM397.5,646.8h2.0v2.0h-2.0zM407.3,641.5h1.7v1.7h-1.7zM388.2,609.8h1.7v1.7h-1.7zM394.8,647.8h1.7v1.7h-1.7zM415.0,634.8h2.0v2.0h-2.0zM402.6,608.2h1.4v1.4h-1.4zM442.6,641.4h1.7v1.7h-1.7zM401.5,645.0h1.4v1.4h-1.4zM402.8,644.5h2.0v2.0h-2.0zM423.0,639.9h1.4v1.4h-1.4zM428.0,646.8h1.7v1.7h-1.7zM397.8,588.4h1.4v1.4h-1.4zM435.7,632.7h1.4v1.4h-1.4zM411.5,584.5h2.0v2.0h-2.0zM428.5,641.1h2.0v2.0h-2.0zM417.8,641.4h2.0v2.0h-2.0zM431.3,617.0h1.7v1.7h-1.7zM427.0,595.0h2.0v2.0h-2.0zM393.0,619.6h1.4v1.4h-1.4zM422.4,635.1h1.7v1.7h-1.7zM426.0,611.3h1.4v1.4h-1.4zM415.5,623.6h1.4v1.4h-1.4zM416.8,606.8h2.0v2.0h-2.0zM365.6,610.2h1.7v1.7h-1.7zM388.3,643.9h2.0v2.0h-2.0zM408.1,641.4h2.0v2.0h-2.0zM418.3,621.3h2.0v2.0h-2.0zM409.2,644.7h1.4v1.4h-1.4zM397.0,605.6h1.7v1.7h-1.7zM414.2,602.8h1.4v1.4h-1.4zM434.6,627.6h1.7v1.7h-1.7zM406.3,625.3h1.7v1.7h-1.7zM400.8,644.4h1.4v1.4h-1.4zM411.7,618.9h1.4v1.4h-1.4zM400.7,625.3h2.0v2.0h-2.0zM404.5,627.5h1.7v1.7h-1.7zM396.1,643.2h2.0v2.0h-2.0zM398.5,635.0h1.4v1.4h-1.4zM395.4,648.3h1.7v1.7h-1.7zM417.1,643.5h2.0v2.0h-2.0zM403.0,624.1h2.0v2.0h-2.0zM417.9,645.7h1.4v1.4h-1.4zM368.3,629.5h1.7v1.7h-1.7zM430.6,642.0h2.0v2.0h-2.0zM403.9,597.0h1.4v1.4h-1.4zM446.9,643.2h2.0v2.0h-2.0zM409.3,645.3h2.0v2.0h-2.0zM421.0,637.8h2.0v2.0h-2.0zM411.9,624.0h2.0v2.0h-2.0zM425.9,613.4h2.0v2.0h-2.0zM399.1,642.7h2.0v2.0h-2.0zM401.9,645.2h1.4v1.4h-1.4zM398.5,625.8h1.7v1.7h-1.7zM415.4,635.1h2.0v2.0h-2.0zM378.7,649.1h1.7v1.7h-1.7zM402.7,645.6h1.7v1.7h-1.7zM423.2,644.4h1.4v1.4h-1.4zM419.3,609.1h1.4v1.4h-1.4zM412.7,644.5h1.7v1.7h-1.7zM407.6,632.7h2.0v2.0h-2.0zM417.5,607.5h1.4v1.4h-1.4zM388.9,632.9h2.0v2.0h-2.0zM400.8,635.4h1.7v1.7h-1.7zM419.4,644.3h1.4v1.4h-1.4zM434.4,630.2h1.7v1.7h-1.7zM393.0,618.4h1.4v1.4h-1.4zM406.4,619.5h2.0v2.0h-2.0zM393.9,637.8h1.7v1.7h-1.7zM397.8,627.1h2.0v2.0h-2.0zM403.2,649.4h1.4v1.4h-1.4zM407.1,620.1h2.0v2.0h-2.0zM405.5,635.6h1.7v1.7h-1.7zM402.2,647.7h1.7v1.7h-1.7zM421.9,606.2h1.7v1.7h-1.7zM433.0,596.6h2.0v2.0h-2.0zM393.6,648.4h1.7v1.7h-1.7zM371.7,634.4h2.0v2.0h-2.0zM419.3,635.6h2.0v2.0h-2.0zM407.4,631.9h1.7v1.7h-1.7zM433.2,651.0h2.0v2.0h-2.0zM402.8,628.2h2.0v2.0h-2.0zM411.9,642.0h1.4v1.4h-1.4zM397.5,605.7h1.4v1.4h-1.4zM383.5,613.2h2.0v2.0h-2.0zM425.3,620.2h1.4v1.4h-1.4zM415.3,644.6h1.7v1.7h-1.7zM390.4,582.9h2.0v2.0h-2.0zM420.2,603.9h1.7v1.7h-1.7zM396.1,630.3h1.7v1.7h-1.7zM406.4,650.3h2.0v2.0h-2.0zM427.6,628.7h2.0v2.0h-2.0zM429.9,641.5h1.7v1.7h-1.7zM427.2,645.3h1.4v1.4h-1.4zM400.1,649.8h1.7v1.7h-1.7zM404.6,621.3h1.7v1.7h-1.7zM411.1,623.7h1.4v1.4h-1.4zM430.8,637.6h1.4v1.4h-1.4zM394.2,649.4h2.0v2.0h-2.0zM427.4,619.0h1.7v1.7h-1.7zM419.8,644.9h1.4v1.4h-1.4zM391.0,649.8h2.0v2.0h-2.0zM428.2,646.4h2.0v2.0h-2.0zM427.7,629.1h1.7v1.7h-1.7zM405.1,639.9h2.0v2.0h-2.0zM406.3,603.8h1.7v1.7h-1.7zM393.4,616.5h1.4v1.4h-1.4zM404.2,647.3h1.7v1.7h-1.7zM408.5,616.9h2.0v2.0h-2.0zM421.1,648.8h1.4v1.4h-1.4zM387.9,641.5h1.7v1.7h-1.7zM385.9,625.4h1.4v1.4h-1.4zM404.8,639.9h2.0v2.0h-2.0zM426.6,651.3h1.7v1.7h-1.7zM422.0,624.6h2.0v2.0h-2.0zM416.6,644.0h2.0v2.0h-2.0zM397.8,644.3h1.7v1.7h-1.7zM409.0,646.6h2.0v2.0h-2.0zM378.8,617.2h1.4v1.4h-1.4zM418.6,597.6h1.7v1.7h-1.7zM414.0,606.9h1.7v1.7h-1.7zM441.7,620.9h1.4v1.4h-1.4zM419.8,618.6h1.4v1.4h-1.4zM396.9,617.0h1.4v1.4h-1.4zM423.0,616.1h1.7v1.7h-1.7zM412.1,605.5h1.4v1.4h-1.4zM392.4,619.5h1.7v1.7h-1.7zM425.4,608.4h1.7v1.7h-1.7zM414.3,616.8h1.4v1.4h-1.4zM397.6,618.9h1.4v1.4h-1.4zM399.5,613.8h1.7v1.7h-1.7zM403.8,604.2h1.7v1.7h-1.7zM397.0,622.8h1.4v1.4h-1.4zM416.7,616.9h1.4v1.4h-1.4zM421.4,616.6h1.7v1.7h-1.7zM423.1,619.1h1.4v1.4h-1.4zM378.9,592.2h1.4v1.4h-1.4zM397.6,619.8h1.4v1.4h-1.4zM406.7,622.4h1.4v1.4h-1.4zM401.8,622.8h1.4v1.4h-1.4zM393.9,611.5h1.4v1.4h-1.4zM411.1,601.4h1.7v1.7h-1.7zM416.3,606.5h1.4v1.4h-1.4zM410.4,601.6h1.7v1.7h-1.7zM428.0,617.5h1.4v1.4h-1.4zM383.8,611.9h1.7v1.7h-1.7zM414.0,618.0h1.4v1.4h-1.4zM405.7,600.9h1.7v1.7h-1.7zM425.7,620.9h1.4v1.4h-1.4zM423.0,617.6h1.7v1.7h-1.7zM395.8,621.4h1.4v1.4h-1.4zM399.7,578.6h1.7v1.7h-1.7zM419.4,601.6h1.4v1.4h-1.4zM403.4,609.6h1.4v1.4h-1.4zM403.4,621.5h1.4v1.4h-1.4zM445.8,601.6h1.7v1.7h-1.7zM413.1,591.0h1.4v1.4h-1.4zM416.6,622.2h1.7v1.7h-1.7zM404.0,613.8h1.7v1.7h-1.7zM406.7,603.8h1.4v1.4h-1.4zM388.7,616.0h1.4v1.4h-1.4zM393.9,620.8h1.4v1.4h-1.4zM391.7,616.2h1.4v1.4h-1.4zM408.1,622.7h1.4v1.4h-1.4zM397.6,609.7h1.4v1.4h-1.4zM425.9,612.6h1.7v1.7h-1.7zM401.0,617.8h1.7v1.7h-1.7zM426.1,604.2h1.4v1.4h-1.4zM397.2,620.1h1.4v1.4h-1.4zM410.8,593.0h1.4v1.4h-1.4zM397.9,620.2h1.4v1.4h-1.4zM386.0,615.9h1.4v1.4h-1.4zM430.9,616.4h1.4v1.4h-1.4zM420.8,616.8h1.7v1.7h-1.7zM403.0,619.0h1.4v1.4h-1.4zM395.9,596.3h1.4v1.4h-1.4zM393.2,609.2h1.7v1.7h-1.7zM373.4,622.8h1.4v1.4h-1.4zM398.4,612.0h1.7v1.7h-1.7zM410.7,617.8h1.4v1.4h-1.4zM405.9,610.8h1.7v1.7h-1.7zM411.6,605.9h1.7v1.7h-1.7zM402.3,613.3h1.7v1.7h-1.7zM395.8,618.0h1.7v1.7h-1.7zM377.2,602.7h1.7v1.7h-1.7zM387.7,613.4h1.4v1.4h-1.4zM395.6,614.1h1.7v1.7h-1.7zM410.2,601.0h1.4v1.4h-1.4zM398.5,606.7h1.7v1.7h-1.7zM396.5,619.3h1.4v1.4h-1.4zM410.4,616.5h1.7v1.7h-1.7zM388.0,619.8h1.4v1.4h-1.4zM395.9,603.8h1.7v1.7h-1.7zM402.7,604.4h1.4v1.4h-1.4zM406.6,606.8h1.7v1.7h-1.7zM392.9,609.5h1.7v1.7h-1.7zM427.2,613.4h1.4v1.4h-1.4zM402.2,599.0h1.7v1.7h-1.7zM420.0,595.3h1.7v1.7h-1.7zM408.4,601.9h1.4v1.4h-1.4zM400.8,593.4h1.7v1.7h-1.7zM419.4,596.4h1.7v1.7h-1.7zM436.8,619.6h1.4v1.4h-1.4zM408.4,620.8h1.4v1.4h-1.4zM424.5,603.9h1.7v1.7h-1.7zM415.5,621.7h1.7v1.7h-1.7zM415.5,619.0h1.7v1.7h-1.7zM398.7,621.0h1.4v1.4h-1.4zM413.4,611.1h1.4v1.4h-1.4zM429.1,611.7h1.7v1.7h-1.7zM430.1,608.2h1.4v1.4h-1.4zM420.9,602.4h1.7v1.7h-1.7zM419.2,599.2h1.4v1.4h-1.4zM416.3,622.2h1.4v1.4h-1.4zM408.2,614.2h1.7v1.7h-1.7zM410.0,609.2h1.7v1.7h-1.7zM422.4,623.5h1.7v1.7h-1.7zM395.2,609.0h1.4v1.4h-1.4zM379.3,607.4h1.4v1.4h-1.4zM381.2,606.5h1.4v1.4h-1.4zM413.6,621.0h1.4v1.4h-1.4zM391.0,614.8h1.7v1.7h-1.7zM399.7,606.7h1.4v1.4h-1.4zM422.2,623.4h1.7v1.7h-1.7zM418.8,617.3h1.7v1.7h-1.7zM414.7,623.4h1.7v1.7h-1.7zM387.7,605.5h1.7v1.7h-1.7zM431.5,619.9h1.7v1.7h-1.7zM404.1,611.0h1.7v1.7h-1.7zM427.1,544.7h1.4v1.4h-1.4zM408.9,565.5h1.4v1.4h-1.4zM416.5,557.2h1.4v1.4h-1.4zM405.9,551.2h1.4v1.4h-1.4zM423.2,551.9h1.4v1.4h-1.4zM382.9,541.8h1.4v1.4h-1.4zM394.3,568.0h1.4v1.4h-1.4zM394.2,544.7h1.4v1.4h-1.4zM405.5,557.1h1.4v1.4h-1.4zM405.8,574.3h1.4v1.4h-1.4zM386.2,571.1h1.4v1.4h-1.4zM393.5,547.4h1.4v1.4h-1.4zM398.6,567.6h1.4v1.4h-1.4zM411.6,546.6h1.4v1.4h-1.4zM382.0,554.5h1.4v1.4h-1.4zM407.8,567.6h1.4v1.4h-1.4zM412.0,569.4h1.4v1.4h-1.4zM398.7,546.9h1.4v1.4h-1.4zM407.5,562.1h1.4v1.4h-1.4zM384.9,565.5h1.4v1.4h-1.4zM368.1,549.2h1.4v1.4h-1.4zM365.1,630.9h1.5v1.5h-1.5zM362.8,643.9h1.5v1.5h-1.5zM365.0,647.3h1.5v1.5h-1.5zM360.4,641.9h1.5v1.5h-1.5zM358.6,645.4h1.5v1.5h-1.5zM348.6,613.2h1.5v1.5h-1.5zM350.3,605.2h1.5v1.5h-1.5zM367.6,621.0h1.5v1.5h-1.5zM350.7,619.5h1.5v1.5h-1.5zM362.3,638.9h1.5v1.5h-1.5zM366.2,634.5h1.5v1.5h-1.5zM331.6,619.3h1.5v1.5h-1.5zM346.0,646.6h1.5v1.5h-1.5zM361.2,639.2h1.5v1.5h-1.5zM342.7,618.9h1.5v1.5h-1.5zM355.2,644.2h1.5v1.5h-1.5z" fill="#000"/>
<text x="280.2" y="725" font-family='"Liberation Serif", serif' font-size="16">10<tspan dy="-6.5" font-size="12">0</tspan></text>
<text x="322.4" y="725" font-family='"Liberation Serif", serif' font-size="16">10<tspan dy="-6.5" font-size="12">1</tspan></text>
<text x="364.6" y="725" font-family='"Liberation Serif", serif' font-size="16">10<tspan dy="-6.5" font-size="12">2</tspan></text>
<text x="407.5" y="725" font-family='"Liberation Serif", serif' font-size="16">10<tspan dy="-6.5" font-size="12">3</tspan></text>
<text x="444.0" y="725" font-family='"Liberation Serif", serif' font-size="16">10<tspan dy="-6.5" font-size="12">4</tspan></text>
<text transform="translate(274.8,708.0) rotate(-90)" font-family='"Liberation Serif", serif' font-size="16">10<tspan dy="-6.5" font-size="12">0</tspan></text>
<text transform="translate(274.8,663.0) rotate(-90)" font-family='"Liberation Serif", serif' font-size="16">10<tspan dy="-6.5" font-size="12">1</tspan></text>
<text transform="translate(274.8,618.0) rotate(-90)" font-family='"Liberation Serif", serif' font-size="16">10<tspan dy="-6.5" font-size="12">2</tspan></text>
<text transform="translate(274.8,573.3) rotate(-90)" font-family='"Liberation Serif", serif' font-size="16">10<tspan dy="-6.5" font-size="12">3</tspan></text>
<text transform="translate(274.8,529.5) rotate(-90)" font-family='"Liberation Serif", serif' font-size="16">10<tspan dy="-6.5" font-size="12">4</tspan></text>
<text x="90.5" y="549.2" font-family='"Liberation Serif", serif' font-size="20.3">0.5%</text>
<text x="204.5" y="543" font-family='"Liberation Serif", serif' font-weight="bold" font-size="20.8">4%</text>
<text x="201.3" y="680.2" font-family='"Liberation Serif", serif' font-weight="bold" font-size="21.2">7%</text>
<text x="299.5" y="549.2" font-family='"Liberation Serif", serif' font-size="20.3">0.5%</text>
<text x="376.5" y="538" font-family='"Liberation Serif", serif' font-weight="bold" font-size="20">10%</text>
<text x="290.5" y="699.5" font-family='"Liberation Serif", serif' font-size="20.3">12.5%</text>
<text x="461.8" y="682" font-family='"Liberation Serif", serif' font-weight="bold" font-size="21.5">77%</text>
<line x1="448" y1="675.2" x2="460.5" y2="675.2" stroke="#000" stroke-width="1.6"/>
<path d="M439.3,675.2 L450,669.6 L450,680.8 Z" fill="#000"/>
</svg>
</body></html>
